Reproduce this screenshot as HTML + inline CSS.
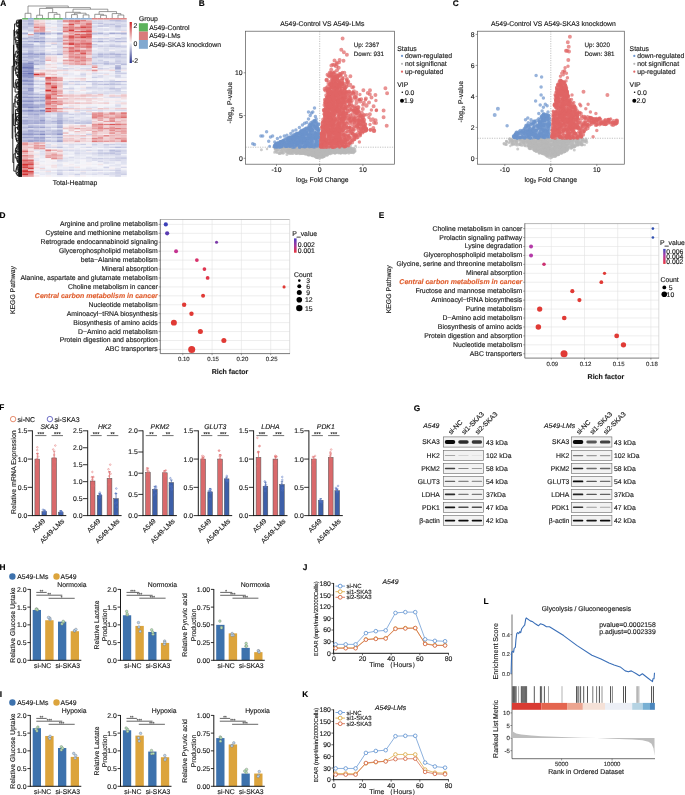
<!DOCTYPE html>
<html><head><meta charset="utf-8"><title>Figure</title>
<style>html,body{margin:0;padding:0;background:#fff;}svg{display:block;will-change:transform;}text{font-family:"Liberation Sans", sans-serif;text-rendering:geometricPrecision;fill:#1a1a1a;stroke:#1a1a1a;stroke-width:0.14px;}</style>
</head><body>
<svg width="685" height="795" viewBox="0 0 685 795" font-family='"Liberation Sans", sans-serif' fill="#1a1a1a">
<rect x="0" y="0" width="685" height="795" fill="#fff"/>
<text x="0.2" y="6.2" font-size="8.3" font-weight="bold" style="fill:#000;stroke:#000">A</text>
<style>.hm rect{width:5.87px;height:1.49px}</style>
<g style="filter:blur(0.3px)">
<g class="hm" transform="translate(22.20 0)"><rect y="19.7" fill="#c1c4e0"/><rect y="21.1" fill="#bbbfde"/><rect y="22.6" fill="#c5c8e2"/><rect y="24.0" fill="#c5c8e2"/><rect y="25.4" fill="#babddd"/><rect y="26.8" fill="#bfc2df"/><rect y="28.3" fill="#b9bddd"/><rect y="29.7" fill="#dddfee"/><rect y="31.1" fill="#e5e6f2"/><rect y="32.5" fill="#a8add4"/><rect y="34.0" fill="#cccfe6"/><rect y="35.4" fill="#e4e5f1"/><rect y="36.8" fill="#d4d6ea"/><rect y="38.2" fill="#9da3cf"/><rect y="39.7" fill="#dadcec"/><rect y="41.1" fill="#afb4d8"/><rect y="42.5" fill="#cbcee5"/><rect y="43.9" fill="#b3b7d9"/><rect y="45.4" fill="#9fa5d0"/><rect y="46.8" fill="#babedd"/><rect y="48.2" fill="#cccfe6"/><rect y="49.7" fill="#ced0e6"/><rect y="51.1" fill="#d9dbec"/><rect y="52.5" fill="#b2b6d9"/><rect y="53.9" fill="#9fa5d0"/><rect y="55.4" fill="#bcc0de"/><rect y="56.8" fill="#aaafd5"/><rect y="58.2" fill="#bec2df"/><rect y="59.6" fill="#b2b6d9"/><rect y="61.1" fill="#c0c4e0"/><rect y="62.5" fill="#959ccb"/><rect y="63.9" fill="#9298c9"/><rect y="65.3" fill="#7a82be"/><rect y="66.8" fill="#6e77b8"/><rect y="68.2" fill="#767ebc"/><rect y="69.6" fill="#999fcd"/><rect y="71.0" fill="#838ac2"/><rect y="72.5" fill="#7c84bf"/><rect y="73.9" fill="#9197c9"/><rect y="75.3" fill="#6d75b7"/><rect y="76.8" fill="#9ea4cf"/><rect y="78.2" fill="#a2a8d1"/><rect y="79.6" fill="#868dc4"/><rect y="81.0" fill="#9299ca"/><rect y="82.5" fill="#a7acd4"/><rect y="83.9" fill="#9da3cf"/><rect y="85.3" fill="#bbbfdd"/><rect y="86.7" fill="#b3b7da"/><rect y="88.2" fill="#a1a6d1"/><rect y="89.6" fill="#c3c6e1"/><rect y="91.0" fill="#adb2d7"/><rect y="92.4" fill="#999fcd"/><rect y="93.9" fill="#b2b7d9"/><rect y="95.3" fill="#a9aed5"/><rect y="96.7" fill="#9299ca"/><rect y="98.2" fill="#b3b7d9"/><rect y="99.6" fill="#9fa5d0"/><rect y="101.0" fill="#9198c9"/><rect y="102.4" fill="#adb2d7"/><rect y="103.9" fill="#949aca"/><rect y="105.3" fill="#8289c2"/><rect y="106.7" fill="#9aa0cd"/><rect y="108.1" fill="#c6c9e3"/><rect y="109.6" fill="#989ecd"/><rect y="111.0" fill="#a3a9d2"/><rect y="112.4" fill="#b8bcdc"/><rect y="113.8" fill="#bcc0de"/><rect y="115.3" fill="#cccfe6"/><rect y="116.7" fill="#abb0d6"/><rect y="118.1" fill="#cacde5"/><rect y="119.5" fill="#a3a8d2"/><rect y="121.0" fill="#a5aad3"/><rect y="122.4" fill="#9299ca"/><rect y="123.8" fill="#bdc1de"/><rect y="125.3" fill="#c7cae3"/><rect y="126.7" fill="#b2b6d9"/><rect y="128.1" fill="#bfc2df"/><rect y="129.5" fill="#c6c9e3"/><rect y="131.0" fill="#b6badb"/><rect y="132.4" fill="#a3a9d2"/><rect y="133.8" fill="#949aca"/><rect y="135.2" fill="#b4b8da"/><rect y="136.7" fill="#9aa0ce"/><rect y="138.1" fill="#b8bcdc"/><rect y="139.5" fill="#acb1d6"/><rect y="140.9" fill="#b2b6d9"/><rect y="142.4" fill="#e38d8f"/><rect y="143.8" fill="#e49496"/><rect y="145.2" fill="#eab6b9"/><rect y="146.6" fill="#edc4c7"/><rect y="148.1" fill="#edc6c9"/><rect y="149.5" fill="#e7a2a4"/><rect y="150.9" fill="#dc6869"/><rect y="152.4" fill="#e7a1a3"/><rect y="153.8" fill="#eecccf"/><rect y="155.2" fill="#dc6869"/><rect y="156.6" fill="#e9adaf"/><rect y="158.1" fill="#e7a5a7"/><rect y="159.5" fill="#d95556"/><rect y="160.9" fill="#e07a7c"/><rect y="162.3" fill="#db6465"/><rect y="163.8" fill="#d23030"/><rect y="165.2" fill="#d43a3a"/><rect y="166.6" fill="#d64646"/><rect y="168.0" fill="#e39092"/><rect y="169.5" fill="#d64444"/><rect y="170.9" fill="#d23030"/><rect y="172.3" fill="#d85051"/><rect y="173.7" fill="#d23030"/><rect y="175.2" fill="#e07b7d"/></g>
<g class="hm" transform="translate(28.01 0)"><rect y="19.7" fill="#b1b5d8"/><rect y="21.1" fill="#b0b4d8"/><rect y="22.6" fill="#a6acd3"/><rect y="24.0" fill="#aeb2d7"/><rect y="25.4" fill="#b3b7da"/><rect y="26.8" fill="#d7d9eb"/><rect y="28.3" fill="#c4c7e2"/><rect y="29.7" fill="#c2c6e1"/><rect y="31.1" fill="#d3d5e9"/><rect y="32.5" fill="#f0f1f7"/><rect y="34.0" fill="#e69fa1"/><rect y="35.4" fill="#cfd1e7"/><rect y="36.8" fill="#b6badb"/><rect y="38.2" fill="#b7bbdc"/><rect y="39.7" fill="#c9cce4"/><rect y="41.1" fill="#9ca2ce"/><rect y="42.5" fill="#dcdded"/><rect y="43.9" fill="#abb0d6"/><rect y="45.4" fill="#a2a7d1"/><rect y="46.8" fill="#b9bddc"/><rect y="48.2" fill="#bec1df"/><rect y="49.7" fill="#bdc1de"/><rect y="51.1" fill="#b0b5d8"/><rect y="52.5" fill="#9aa0cd"/><rect y="53.9" fill="#9fa4d0"/><rect y="55.4" fill="#9da3cf"/><rect y="56.8" fill="#aeb3d7"/><rect y="58.2" fill="#acb1d6"/><rect y="59.6" fill="#c3c6e1"/><rect y="61.1" fill="#a1a6d1"/><rect y="62.5" fill="#7b83be"/><rect y="63.9" fill="#969ccb"/><rect y="65.3" fill="#727aba"/><rect y="66.8" fill="#767ebc"/><rect y="68.2" fill="#6871b5"/><rect y="69.6" fill="#9096c9"/><rect y="71.0" fill="#848cc3"/><rect y="72.5" fill="#5e67b0"/><rect y="73.9" fill="#878ec4"/><rect y="75.3" fill="#737bba"/><rect y="76.8" fill="#8e95c8"/><rect y="78.2" fill="#a6abd3"/><rect y="79.6" fill="#979dcc"/><rect y="81.0" fill="#8f96c8"/><rect y="82.5" fill="#a6acd3"/><rect y="83.9" fill="#8f95c8"/><rect y="85.3" fill="#adb1d6"/><rect y="86.7" fill="#b1b5d9"/><rect y="88.2" fill="#7c84bf"/><rect y="89.6" fill="#969ccc"/><rect y="91.0" fill="#adb2d7"/><rect y="92.4" fill="#a5aad3"/><rect y="93.9" fill="#a1a6d1"/><rect y="95.3" fill="#bec2df"/><rect y="96.7" fill="#9298c9"/><rect y="98.2" fill="#aaafd5"/><rect y="99.6" fill="#9da3cf"/><rect y="101.0" fill="#8990c5"/><rect y="102.4" fill="#adb1d7"/><rect y="103.9" fill="#989ecc"/><rect y="105.3" fill="#8c93c7"/><rect y="106.7" fill="#848bc3"/><rect y="108.1" fill="#b4b9da"/><rect y="109.6" fill="#858cc3"/><rect y="111.0" fill="#999fcd"/><rect y="112.4" fill="#a9aed5"/><rect y="113.8" fill="#a9aed5"/><rect y="115.3" fill="#b2b6d9"/><rect y="116.7" fill="#babedd"/><rect y="118.1" fill="#bcc0de"/><rect y="119.5" fill="#aeb2d7"/><rect y="121.0" fill="#b1b6d9"/><rect y="122.4" fill="#969ccb"/><rect y="123.8" fill="#d0d2e7"/><rect y="125.3" fill="#a6abd3"/><rect y="126.7" fill="#9ca2ce"/><rect y="128.1" fill="#d4d6e9"/><rect y="129.5" fill="#a3a8d2"/><rect y="131.0" fill="#a4a9d2"/><rect y="132.4" fill="#9aa0cd"/><rect y="133.8" fill="#9298c9"/><rect y="135.2" fill="#aaafd5"/><rect y="136.7" fill="#9da3cf"/><rect y="138.1" fill="#c0c3e0"/><rect y="139.5" fill="#9da2cf"/><rect y="140.9" fill="#999fcd"/><rect y="142.4" fill="#edc4c7"/><rect y="143.8" fill="#ecc0c3"/><rect y="145.2" fill="#f1d8dc"/><rect y="146.6" fill="#ebb9bc"/><rect y="148.1" fill="#f1d9dc"/><rect y="149.5" fill="#f3e3e7"/><rect y="150.9" fill="#edc5c8"/><rect y="152.4" fill="#f1dade"/><rect y="153.8" fill="#f0d5d8"/><rect y="155.2" fill="#e59799"/><rect y="156.6" fill="#ebbabd"/><rect y="158.1" fill="#f0d7da"/><rect y="159.5" fill="#db6061"/><rect y="160.9" fill="#e38c8e"/><rect y="162.3" fill="#d85253"/><rect y="163.8" fill="#d64747"/><rect y="165.2" fill="#e18384"/><rect y="166.6" fill="#df7779"/><rect y="168.0" fill="#d54041"/><rect y="169.5" fill="#ecc2c5"/><rect y="170.9" fill="#d43c3c"/><rect y="172.3" fill="#d74d4d"/><rect y="173.7" fill="#e49193"/><rect y="175.2" fill="#e38d8f"/></g>
<g class="hm" transform="translate(33.81 0)"><rect y="19.7" fill="#efd0d3"/><rect y="21.1" fill="#ecc1c4"/><rect y="22.6" fill="#eec8cc"/><rect y="24.0" fill="#e9b1b3"/><rect y="25.4" fill="#e9acaf"/><rect y="26.8" fill="#e07b7d"/><rect y="28.3" fill="#ecbcbf"/><rect y="29.7" fill="#e69fa1"/><rect y="31.1" fill="#e69b9e"/><rect y="32.5" fill="#989ecd"/><rect y="34.0" fill="#c0c3e0"/><rect y="35.4" fill="#b7bbdc"/><rect y="36.8" fill="#c7cae3"/><rect y="38.2" fill="#9aa0cd"/><rect y="39.7" fill="#ced1e7"/><rect y="41.1" fill="#828ac2"/><rect y="42.5" fill="#edeef6"/><rect y="43.9" fill="#e6e7f2"/><rect y="45.4" fill="#b5b9da"/><rect y="46.8" fill="#d3d5e9"/><rect y="48.2" fill="#cacde5"/><rect y="49.7" fill="#c9cce4"/><rect y="51.1" fill="#d2d4e8"/><rect y="52.5" fill="#b9bddc"/><rect y="53.9" fill="#989ecd"/><rect y="55.4" fill="#a9aed5"/><rect y="56.8" fill="#b5badb"/><rect y="58.2" fill="#d2d4e9"/><rect y="59.6" fill="#b3b7d9"/><rect y="61.1" fill="#b8bcdc"/><rect y="62.5" fill="#c1c5e1"/><rect y="63.9" fill="#aeb3d7"/><rect y="65.3" fill="#e3e4f1"/><rect y="66.8" fill="#eaebf4"/><rect y="68.2" fill="#babddd"/><rect y="69.6" fill="#f1dbde"/><rect y="71.0" fill="#f5f0f4"/><rect y="72.5" fill="#e8a9ac"/><rect y="73.9" fill="#d23030"/><rect y="75.3" fill="#e59799"/><rect y="76.8" fill="#e1e3f0"/><rect y="78.2" fill="#f2e0e4"/><rect y="79.6" fill="#d5d7ea"/><rect y="81.0" fill="#cdcfe6"/><rect y="82.5" fill="#e6e7f2"/><rect y="83.9" fill="#c9cce4"/><rect y="85.3" fill="#f3f3f9"/><rect y="86.7" fill="#d2d4e9"/><rect y="88.2" fill="#d4d6e9"/><rect y="89.6" fill="#ebebf4"/><rect y="91.0" fill="#eeeef6"/><rect y="92.4" fill="#c7cae3"/><rect y="93.9" fill="#b4b8da"/><rect y="95.3" fill="#d2d5e9"/><rect y="96.7" fill="#9ca2ce"/><rect y="98.2" fill="#c5c8e2"/><rect y="99.6" fill="#a8add4"/><rect y="101.0" fill="#b3b7da"/><rect y="102.4" fill="#d4d6ea"/><rect y="103.9" fill="#b5b9db"/><rect y="105.3" fill="#959bcb"/><rect y="106.7" fill="#9ca2ce"/><rect y="108.1" fill="#c5c8e2"/><rect y="109.6" fill="#a3a8d2"/><rect y="111.0" fill="#a2a7d1"/><rect y="112.4" fill="#afb4d8"/><rect y="113.8" fill="#a0a6d1"/><rect y="115.3" fill="#a9aed5"/><rect y="116.7" fill="#babedd"/><rect y="118.1" fill="#b4b8da"/><rect y="119.5" fill="#b0b4d8"/><rect y="121.0" fill="#acb1d6"/><rect y="122.4" fill="#8c93c7"/><rect y="123.8" fill="#dbdced"/><rect y="125.3" fill="#b1b5d8"/><rect y="126.7" fill="#aaafd5"/><rect y="128.1" fill="#c7cae3"/><rect y="129.5" fill="#b9bddd"/><rect y="131.0" fill="#a8add4"/><rect y="132.4" fill="#b5b9da"/><rect y="133.8" fill="#9aa0ce"/><rect y="135.2" fill="#cacde5"/><rect y="136.7" fill="#9aa0cd"/><rect y="138.1" fill="#a5aad3"/><rect y="139.5" fill="#9ba1ce"/><rect y="140.9" fill="#aeb3d7"/><rect y="142.4" fill="#e49496"/><rect y="143.8" fill="#ebbbbe"/><rect y="145.2" fill="#e2888a"/><rect y="146.6" fill="#e6a0a2"/><rect y="148.1" fill="#e49193"/><rect y="149.5" fill="#e4e5f1"/><rect y="150.9" fill="#f3f3f8"/><rect y="152.4" fill="#f3e6e9"/><rect y="153.8" fill="#e7e8f3"/><rect y="155.2" fill="#f3e3e7"/><rect y="156.6" fill="#f5eff3"/><rect y="158.1" fill="#e5e6f2"/><rect y="159.5" fill="#e3e4f1"/><rect y="160.9" fill="#f4edf1"/><rect y="162.3" fill="#f2dee2"/><rect y="163.8" fill="#f1dce0"/><rect y="165.2" fill="#f5f0f4"/><rect y="166.6" fill="#f2dee2"/><rect y="168.0" fill="#f4edf0"/><rect y="169.5" fill="#e9e9f3"/><rect y="170.9" fill="#f5f3f7"/><rect y="172.3" fill="#d8daeb"/><rect y="173.7" fill="#f6f4f8"/><rect y="175.2" fill="#f3e3e7"/></g>
<g class="hm" transform="translate(39.62 0)"><rect y="19.7" fill="#f2dde1"/><rect y="21.1" fill="#f1dbde"/><rect y="22.6" fill="#edc4c7"/><rect y="24.0" fill="#eecbcf"/><rect y="25.4" fill="#e8aaac"/><rect y="26.8" fill="#e38f91"/><rect y="28.3" fill="#e07c7e"/><rect y="29.7" fill="#e69d9f"/><rect y="31.1" fill="#e69ea0"/><rect y="32.5" fill="#8088c1"/><rect y="34.0" fill="#a8add4"/><rect y="35.4" fill="#dddeee"/><rect y="36.8" fill="#b7bbdb"/><rect y="38.2" fill="#a7acd4"/><rect y="39.7" fill="#c7cae3"/><rect y="41.1" fill="#9198c9"/><rect y="42.5" fill="#c8cbe4"/><rect y="43.9" fill="#d5d7ea"/><rect y="45.4" fill="#aeb3d7"/><rect y="46.8" fill="#d2d4e9"/><rect y="48.2" fill="#d2d4e8"/><rect y="49.7" fill="#d0d2e7"/><rect y="51.1" fill="#d3d5e9"/><rect y="52.5" fill="#a7acd4"/><rect y="53.9" fill="#979dcc"/><rect y="55.4" fill="#b7bbdb"/><rect y="56.8" fill="#bec2df"/><rect y="58.2" fill="#b5b9da"/><rect y="59.6" fill="#c1c4e0"/><rect y="61.1" fill="#abb0d6"/><rect y="62.5" fill="#bdc0de"/><rect y="63.9" fill="#c5c8e2"/><rect y="65.3" fill="#dcdeed"/><rect y="66.8" fill="#dfe0ef"/><rect y="68.2" fill="#d5d7ea"/><rect y="69.6" fill="#f1dade"/><rect y="71.0" fill="#f3e6e9"/><rect y="72.5" fill="#e49597"/><rect y="73.9" fill="#df7879"/><rect y="75.3" fill="#e59698"/><rect y="76.8" fill="#d2d4e9"/><rect y="78.2" fill="#f5f5fa"/><rect y="79.6" fill="#dee0ee"/><rect y="81.0" fill="#c9cce4"/><rect y="82.5" fill="#ebebf5"/><rect y="83.9" fill="#c9cce4"/><rect y="85.3" fill="#e0e1ef"/><rect y="86.7" fill="#dee0ef"/><rect y="88.2" fill="#c0c4e0"/><rect y="89.6" fill="#eeeff6"/><rect y="91.0" fill="#d8daeb"/><rect y="92.4" fill="#dddeee"/><rect y="93.9" fill="#b1b5d9"/><rect y="95.3" fill="#c9cce4"/><rect y="96.7" fill="#a8add4"/><rect y="98.2" fill="#babedd"/><rect y="99.6" fill="#9ea4cf"/><rect y="101.0" fill="#b5b9db"/><rect y="102.4" fill="#c9cce4"/><rect y="103.9" fill="#a6abd3"/><rect y="105.3" fill="#9299ca"/><rect y="106.7" fill="#b2b7d9"/><rect y="108.1" fill="#d7d9eb"/><rect y="109.6" fill="#7e86c0"/><rect y="111.0" fill="#9da3cf"/><rect y="112.4" fill="#a6acd3"/><rect y="113.8" fill="#b9bddc"/><rect y="115.3" fill="#c9cce4"/><rect y="116.7" fill="#b8bcdc"/><rect y="118.1" fill="#b2b6d9"/><rect y="119.5" fill="#959bcb"/><rect y="121.0" fill="#a9aed5"/><rect y="122.4" fill="#9399ca"/><rect y="123.8" fill="#dadcec"/><rect y="125.3" fill="#b9bddd"/><rect y="126.7" fill="#9ea3cf"/><rect y="128.1" fill="#d0d3e8"/><rect y="129.5" fill="#c2c5e1"/><rect y="131.0" fill="#a2a7d1"/><rect y="132.4" fill="#a8add4"/><rect y="133.8" fill="#828ac2"/><rect y="135.2" fill="#bdc1df"/><rect y="136.7" fill="#9ba0ce"/><rect y="138.1" fill="#a1a6d1"/><rect y="139.5" fill="#a2a8d2"/><rect y="140.9" fill="#aaafd5"/><rect y="142.4" fill="#e9acaf"/><rect y="143.8" fill="#f1dce0"/><rect y="145.2" fill="#e18384"/><rect y="146.6" fill="#ebb9bc"/><rect y="148.1" fill="#e39092"/><rect y="149.5" fill="#e6e7f2"/><rect y="150.9" fill="#dcdeed"/><rect y="152.4" fill="#dadced"/><rect y="153.8" fill="#dfe1ef"/><rect y="155.2" fill="#e4e5f1"/><rect y="156.6" fill="#e9eaf4"/><rect y="158.1" fill="#edeef6"/><rect y="159.5" fill="#f3f3f9"/><rect y="160.9" fill="#eaebf4"/><rect y="162.3" fill="#f1f2f8"/><rect y="163.8" fill="#f5f0f4"/><rect y="165.2" fill="#f4eaee"/><rect y="166.6" fill="#e6e7f2"/><rect y="168.0" fill="#f0d3d6"/><rect y="169.5" fill="#e4e6f1"/><rect y="170.9" fill="#f5f0f4"/><rect y="172.3" fill="#e9eaf4"/><rect y="173.7" fill="#e7e8f3"/><rect y="175.2" fill="#f3f3f9"/></g>
<g class="hm" transform="translate(45.42 0)"><rect y="19.7" fill="#e8e9f3"/><rect y="21.1" fill="#ebecf5"/><rect y="22.6" fill="#d6d8eb"/><rect y="24.0" fill="#eeeff6"/><rect y="25.4" fill="#e3e4f1"/><rect y="26.8" fill="#f4e9ed"/><rect y="28.3" fill="#dedfee"/><rect y="29.7" fill="#f6f6fa"/><rect y="31.1" fill="#f0d5d9"/><rect y="32.5" fill="#babedd"/><rect y="34.0" fill="#cfd2e7"/><rect y="35.4" fill="#f3f4f9"/><rect y="36.8" fill="#f5eff3"/><rect y="38.2" fill="#cdcfe6"/><rect y="39.7" fill="#e0e1ef"/><rect y="41.1" fill="#c6c9e3"/><rect y="42.5" fill="#f3e8eb"/><rect y="43.9" fill="#efeff6"/><rect y="45.4" fill="#c7cae3"/><rect y="46.8" fill="#f5f5f9"/><rect y="48.2" fill="#e1e3f0"/><rect y="49.7" fill="#f5f0f4"/><rect y="51.1" fill="#e8e8f3"/><rect y="52.5" fill="#d6d8ea"/><rect y="53.9" fill="#bfc3e0"/><rect y="55.4" fill="#f2e1e4"/><rect y="56.8" fill="#efd0d3"/><rect y="58.2" fill="#eec8cb"/><rect y="59.6" fill="#e9aeb1"/><rect y="61.1" fill="#f5f1f5"/><rect y="62.5" fill="#eff0f7"/><rect y="63.9" fill="#f0d4d7"/><rect y="65.3" fill="#f3e5e9"/><rect y="66.8" fill="#f3e6e9"/><rect y="68.2" fill="#ebebf5"/><rect y="69.6" fill="#eecccf"/><rect y="71.0" fill="#f1dadd"/><rect y="72.5" fill="#f2dfe2"/><rect y="73.9" fill="#f0d3d6"/><rect y="75.3" fill="#f6f4f8"/><rect y="76.8" fill="#da595a"/><rect y="78.2" fill="#d43b3b"/><rect y="79.6" fill="#e2888a"/><rect y="81.0" fill="#e8acae"/><rect y="82.5" fill="#d64849"/><rect y="83.9" fill="#df7677"/><rect y="85.3" fill="#e28a8b"/><rect y="86.7" fill="#e7a2a4"/><rect y="88.2" fill="#e5989a"/><rect y="89.6" fill="#d23030"/><rect y="91.0" fill="#e07d7f"/><rect y="92.4" fill="#e8abae"/><rect y="93.9" fill="#df797b"/><rect y="95.3" fill="#d53e3e"/><rect y="96.7" fill="#d74d4e"/><rect y="98.2" fill="#d23232"/><rect y="99.6" fill="#e59799"/><rect y="101.0" fill="#e18587"/><rect y="102.4" fill="#da595a"/><rect y="103.9" fill="#e07f80"/><rect y="105.3" fill="#e59799"/><rect y="106.7" fill="#eab1b4"/><rect y="108.1" fill="#d23030"/><rect y="109.6" fill="#e39092"/><rect y="111.0" fill="#d95455"/><rect y="112.4" fill="#d4d6e9"/><rect y="113.8" fill="#d6d8eb"/><rect y="115.3" fill="#dadced"/><rect y="116.7" fill="#cccfe6"/><rect y="118.1" fill="#dee0ef"/><rect y="119.5" fill="#ced1e7"/><rect y="121.0" fill="#c6c9e3"/><rect y="122.4" fill="#b8bcdc"/><rect y="123.8" fill="#e1e2f0"/><rect y="125.3" fill="#d9dbec"/><rect y="126.7" fill="#bec2df"/><rect y="128.1" fill="#d5d7ea"/><rect y="129.5" fill="#bec2df"/><rect y="131.0" fill="#c9cce4"/><rect y="132.4" fill="#bbbedd"/><rect y="133.8" fill="#b5b9db"/><rect y="135.2" fill="#e3e4f1"/><rect y="136.7" fill="#b6badb"/><rect y="138.1" fill="#e2e3f0"/><rect y="139.5" fill="#c3c6e1"/><rect y="140.9" fill="#c2c6e1"/><rect y="142.4" fill="#f4ebee"/><rect y="143.8" fill="#dadcec"/><rect y="145.2" fill="#dcdeed"/><rect y="146.6" fill="#d1d3e8"/><rect y="148.1" fill="#f5f1f5"/><rect y="149.5" fill="#de7072"/><rect y="150.9" fill="#ecbfc2"/><rect y="152.4" fill="#ecbfc2"/><rect y="153.8" fill="#edc6c9"/><rect y="155.2" fill="#e59698"/><rect y="156.6" fill="#e69c9e"/><rect y="158.1" fill="#f5eef2"/><rect y="159.5" fill="#f5f2f5"/><rect y="160.9" fill="#f5f2f6"/><rect y="162.3" fill="#f5f0f4"/><rect y="163.8" fill="#f1f1f7"/><rect y="165.2" fill="#f5eef2"/><rect y="166.6" fill="#f4f4f9"/><rect y="168.0" fill="#f2f3f8"/><rect y="169.5" fill="#e1e2f0"/><rect y="170.9" fill="#f2dfe3"/><rect y="172.3" fill="#dcdeed"/><rect y="173.7" fill="#e8e9f3"/><rect y="175.2" fill="#f4ecf0"/></g>
<g class="hm" transform="translate(51.23 0)"><rect y="19.7" fill="#f6f5f9"/><rect y="21.1" fill="#ececf5"/><rect y="22.6" fill="#e7e8f3"/><rect y="24.0" fill="#e5e6f2"/><rect y="25.4" fill="#f0f0f7"/><rect y="26.8" fill="#f3e5e8"/><rect y="28.3" fill="#e3e4f1"/><rect y="29.7" fill="#f4e9ed"/><rect y="31.1" fill="#f2f3f8"/><rect y="32.5" fill="#c5c8e2"/><rect y="34.0" fill="#e7e8f3"/><rect y="35.4" fill="#eeeef6"/><rect y="36.8" fill="#f6f6fa"/><rect y="38.2" fill="#cfd1e7"/><rect y="39.7" fill="#dbdded"/><rect y="41.1" fill="#bec1df"/><rect y="42.5" fill="#f0d7da"/><rect y="43.9" fill="#cbcee5"/><rect y="45.4" fill="#eaeaf4"/><rect y="46.8" fill="#f0f0f7"/><rect y="48.2" fill="#d7d9eb"/><rect y="49.7" fill="#f3f4f9"/><rect y="51.1" fill="#dbdced"/><rect y="52.5" fill="#e4e5f1"/><rect y="53.9" fill="#c4c7e2"/><rect y="55.4" fill="#f2e3e6"/><rect y="56.8" fill="#f1dbdf"/><rect y="58.2" fill="#f1d9dd"/><rect y="59.6" fill="#f1d8dc"/><rect y="61.1" fill="#f1d8db"/><rect y="62.5" fill="#ebecf5"/><rect y="63.9" fill="#f3e3e7"/><rect y="65.3" fill="#f4ebee"/><rect y="66.8" fill="#f0d7db"/><rect y="68.2" fill="#f3f3f8"/><rect y="69.6" fill="#efced2"/><rect y="71.0" fill="#f0d4d8"/><rect y="72.5" fill="#f5f0f4"/><rect y="73.9" fill="#eec8cb"/><rect y="75.3" fill="#f2e2e5"/><rect y="76.8" fill="#df787a"/><rect y="78.2" fill="#e07a7c"/><rect y="79.6" fill="#e18385"/><rect y="81.0" fill="#edc5c8"/><rect y="82.5" fill="#e59a9c"/><rect y="83.9" fill="#e8a8aa"/><rect y="85.3" fill="#da5a5b"/><rect y="86.7" fill="#d43939"/><rect y="88.2" fill="#de7374"/><rect y="89.6" fill="#e49193"/><rect y="91.0" fill="#dc6869"/><rect y="92.4" fill="#e07f80"/><rect y="93.9" fill="#df7576"/><rect y="95.3" fill="#e59a9c"/><rect y="96.7" fill="#e9adaf"/><rect y="98.2" fill="#db5f60"/><rect y="99.6" fill="#edc5c8"/><rect y="101.0" fill="#de7374"/><rect y="102.4" fill="#df797a"/><rect y="103.9" fill="#ecbcbf"/><rect y="105.3" fill="#e18183"/><rect y="106.7" fill="#eab4b7"/><rect y="108.1" fill="#dc6768"/><rect y="109.6" fill="#e49395"/><rect y="111.0" fill="#e59b9d"/><rect y="112.4" fill="#cccfe6"/><rect y="113.8" fill="#dddfee"/><rect y="115.3" fill="#e5e6f2"/><rect y="116.7" fill="#d5d7ea"/><rect y="118.1" fill="#c9cce4"/><rect y="119.5" fill="#ced0e6"/><rect y="121.0" fill="#b1b6d9"/><rect y="122.4" fill="#b4b9da"/><rect y="123.8" fill="#e6e7f2"/><rect y="125.3" fill="#d1d4e8"/><rect y="126.7" fill="#cacde5"/><rect y="128.1" fill="#edeef6"/><rect y="129.5" fill="#c1c5e0"/><rect y="131.0" fill="#babedd"/><rect y="132.4" fill="#aeb2d7"/><rect y="133.8" fill="#b3b7d9"/><rect y="135.2" fill="#cfd2e7"/><rect y="136.7" fill="#c1c4e0"/><rect y="138.1" fill="#d9dbec"/><rect y="139.5" fill="#d2d4e8"/><rect y="140.9" fill="#c2c5e1"/><rect y="142.4" fill="#e5e6f2"/><rect y="143.8" fill="#efeff6"/><rect y="145.2" fill="#f2e3e6"/><rect y="146.6" fill="#d3d6e9"/><rect y="148.1" fill="#f5f0f4"/><rect y="149.5" fill="#e8abad"/><rect y="150.9" fill="#f3e8eb"/><rect y="152.4" fill="#ebb9bc"/><rect y="153.8" fill="#e69ea0"/><rect y="155.2" fill="#e49395"/><rect y="156.6" fill="#e8abad"/><rect y="158.1" fill="#e18283"/><rect y="159.5" fill="#f5f5fa"/><rect y="160.9" fill="#f5eff3"/><rect y="162.3" fill="#ececf5"/><rect y="163.8" fill="#f4edf1"/><rect y="165.2" fill="#f1d9dc"/><rect y="166.6" fill="#f3e4e8"/><rect y="168.0" fill="#f5f2f6"/><rect y="169.5" fill="#e0e1ef"/><rect y="170.9" fill="#f6f6fa"/><rect y="172.3" fill="#dddfee"/><rect y="173.7" fill="#edeef6"/><rect y="175.2" fill="#edeef6"/></g>
<g class="hm" transform="translate(57.03 0)"><rect y="19.7" fill="#d7d9eb"/><rect y="21.1" fill="#c8cbe4"/><rect y="22.6" fill="#dddfee"/><rect y="24.0" fill="#d1d3e8"/><rect y="25.4" fill="#cdd0e6"/><rect y="26.8" fill="#e6e7f2"/><rect y="28.3" fill="#dbdded"/><rect y="29.7" fill="#dbdced"/><rect y="31.1" fill="#f4f4f9"/><rect y="32.5" fill="#9fa4d0"/><rect y="34.0" fill="#bec1df"/><rect y="35.4" fill="#e1e3f0"/><rect y="36.8" fill="#d4d6ea"/><rect y="38.2" fill="#b1b5d8"/><rect y="39.7" fill="#ced0e7"/><rect y="41.1" fill="#b4b8da"/><rect y="42.5" fill="#e1e2f0"/><rect y="43.9" fill="#d7d9eb"/><rect y="45.4" fill="#c6c9e3"/><rect y="46.8" fill="#d2d5e9"/><rect y="48.2" fill="#d5d7ea"/><rect y="49.7" fill="#dcdeee"/><rect y="51.1" fill="#d2d4e9"/><rect y="52.5" fill="#cccfe6"/><rect y="53.9" fill="#a4a9d2"/><rect y="55.4" fill="#f1f2f8"/><rect y="56.8" fill="#ebebf5"/><rect y="58.2" fill="#f4eaed"/><rect y="59.6" fill="#f5f2f6"/><rect y="61.1" fill="#f5f0f4"/><rect y="62.5" fill="#d7d9eb"/><rect y="63.9" fill="#eaeaf4"/><rect y="65.3" fill="#eff0f7"/><rect y="66.8" fill="#e3e4f1"/><rect y="68.2" fill="#d9dbec"/><rect y="69.6" fill="#f0d4d7"/><rect y="71.0" fill="#f5eef2"/><rect y="72.5" fill="#e9eaf4"/><rect y="73.9" fill="#f5f0f4"/><rect y="75.3" fill="#e8e9f3"/><rect y="76.8" fill="#eab6b8"/><rect y="78.2" fill="#e49395"/><rect y="79.6" fill="#e59698"/><rect y="81.0" fill="#f0d6d9"/><rect y="82.5" fill="#ecc0c3"/><rect y="83.9" fill="#ecc1c4"/><rect y="85.3" fill="#e8acae"/><rect y="86.7" fill="#edc7ca"/><rect y="88.2" fill="#efcfd2"/><rect y="89.6" fill="#e9b0b2"/><rect y="91.0" fill="#e7a2a5"/><rect y="92.4" fill="#e69ea0"/><rect y="93.9" fill="#efced2"/><rect y="95.3" fill="#de7172"/><rect y="96.7" fill="#f5f3f7"/><rect y="98.2" fill="#e9adaf"/><rect y="99.6" fill="#ebb9bc"/><rect y="101.0" fill="#e69ea1"/><rect y="102.4" fill="#e39092"/><rect y="103.9" fill="#e39092"/><rect y="105.3" fill="#f1dde1"/><rect y="106.7" fill="#f3e7eb"/><rect y="108.1" fill="#e28789"/><rect y="109.6" fill="#efd2d5"/><rect y="111.0" fill="#e9adaf"/><rect y="112.4" fill="#b7bbdb"/><rect y="113.8" fill="#bec2df"/><rect y="115.3" fill="#afb4d8"/><rect y="116.7" fill="#c2c6e1"/><rect y="118.1" fill="#b2b6d9"/><rect y="119.5" fill="#a6abd3"/><rect y="121.0" fill="#a5aad3"/><rect y="122.4" fill="#8b92c6"/><rect y="123.8" fill="#cacde5"/><rect y="125.3" fill="#a5aad3"/><rect y="126.7" fill="#a6abd3"/><rect y="128.1" fill="#d8daec"/><rect y="129.5" fill="#aaafd5"/><rect y="131.0" fill="#b0b5d8"/><rect y="132.4" fill="#9ea4d0"/><rect y="133.8" fill="#8f95c8"/><rect y="135.2" fill="#cacde5"/><rect y="136.7" fill="#a3a9d2"/><rect y="138.1" fill="#c2c6e1"/><rect y="139.5" fill="#aaafd5"/><rect y="140.9" fill="#9ea3cf"/><rect y="142.4" fill="#e3e4f1"/><rect y="143.8" fill="#dee0ef"/><rect y="145.2" fill="#dfe1ef"/><rect y="146.6" fill="#bfc2df"/><rect y="148.1" fill="#ebecf5"/><rect y="149.5" fill="#eec9cc"/><rect y="150.9" fill="#ecbec1"/><rect y="152.4" fill="#f2dfe2"/><rect y="153.8" fill="#edc2c5"/><rect y="155.2" fill="#e69fa1"/><rect y="156.6" fill="#edc6c9"/><rect y="158.1" fill="#e8abae"/><rect y="159.5" fill="#d3d5e9"/><rect y="160.9" fill="#dfe0ef"/><rect y="162.3" fill="#e9eaf4"/><rect y="163.8" fill="#e4e5f1"/><rect y="165.2" fill="#dddeee"/><rect y="166.6" fill="#ecedf5"/><rect y="168.0" fill="#edeef6"/><rect y="169.5" fill="#cbcee5"/><rect y="170.9" fill="#e3e4f1"/><rect y="172.3" fill="#cbcde5"/><rect y="173.7" fill="#c5c8e2"/><rect y="175.2" fill="#e8e9f3"/></g>
<g class="hm" transform="translate(62.84 0)"><rect y="19.7" fill="#e49698"/><rect y="21.1" fill="#e2888a"/><rect y="22.6" fill="#f4e9ed"/><rect y="24.0" fill="#eab3b6"/><rect y="25.4" fill="#eab2b5"/><rect y="26.8" fill="#e07c7e"/><rect y="28.3" fill="#e49193"/><rect y="29.7" fill="#e5989a"/><rect y="31.1" fill="#dc6668"/><rect y="32.5" fill="#f2e1e4"/><rect y="34.0" fill="#eecccf"/><rect y="35.4" fill="#e39092"/><rect y="36.8" fill="#e69d9f"/><rect y="38.2" fill="#edc3c6"/><rect y="39.7" fill="#e38d8f"/><rect y="41.1" fill="#edc6c9"/><rect y="42.5" fill="#e28687"/><rect y="43.9" fill="#e69ea0"/><rect y="45.4" fill="#f3e3e7"/><rect y="46.8" fill="#e38e90"/><rect y="48.2" fill="#ebbcbf"/><rect y="49.7" fill="#edc4c7"/><rect y="51.1" fill="#e7a1a3"/><rect y="52.5" fill="#ebb8bb"/><rect y="53.9" fill="#eecdd0"/><rect y="55.4" fill="#efd1d4"/><rect y="56.8" fill="#ecc0c3"/><rect y="58.2" fill="#f6f3f7"/><rect y="59.6" fill="#e69c9e"/><rect y="61.1" fill="#eec7ca"/><rect y="62.5" fill="#e9b1b3"/><rect y="63.9" fill="#f0d4d7"/><rect y="65.3" fill="#d2d4e8"/><rect y="66.8" fill="#f4f4f9"/><rect y="68.2" fill="#c4c7e2"/><rect y="69.6" fill="#f0d5d8"/><rect y="71.0" fill="#eaeaf4"/><rect y="72.5" fill="#dee0ee"/><rect y="73.9" fill="#f2dee2"/><rect y="75.3" fill="#e1e2f0"/><rect y="76.8" fill="#f6f5f9"/><rect y="78.2" fill="#f3e5e8"/><rect y="79.6" fill="#f6f5f9"/><rect y="81.0" fill="#dddfee"/><rect y="82.5" fill="#d2d4e9"/><rect y="83.9" fill="#cfd1e7"/><rect y="85.3" fill="#f1f1f8"/><rect y="86.7" fill="#f6f5f9"/><rect y="88.2" fill="#c7cae3"/><rect y="89.6" fill="#f5f2f6"/><rect y="91.0" fill="#efeff6"/><rect y="92.4" fill="#e8e9f3"/><rect y="93.9" fill="#f0d8db"/><rect y="95.3" fill="#e9adaf"/><rect y="96.7" fill="#f3e3e7"/><rect y="98.2" fill="#e8aaac"/><rect y="99.6" fill="#f1dade"/><rect y="101.0" fill="#f1dbde"/><rect y="102.4" fill="#e9acae"/><rect y="103.9" fill="#f4ebef"/><rect y="105.3" fill="#f5f0f4"/><rect y="106.7" fill="#d9daec"/><rect y="108.1" fill="#ebbbbe"/><rect y="109.6" fill="#edeef6"/><rect y="111.0" fill="#f0d6da"/><rect y="112.4" fill="#bdc1df"/><rect y="113.8" fill="#d6d8ea"/><rect y="115.3" fill="#e5e6f2"/><rect y="116.7" fill="#dbdded"/><rect y="118.1" fill="#cfd1e7"/><rect y="119.5" fill="#c3c6e1"/><rect y="121.0" fill="#cccfe6"/><rect y="122.4" fill="#c3c7e2"/><rect y="123.8" fill="#f4ecef"/><rect y="125.3" fill="#f4eef1"/><rect y="126.7" fill="#f1dbde"/><rect y="128.1" fill="#ecc0c3"/><rect y="129.5" fill="#f6f6fa"/><rect y="131.0" fill="#efeff7"/><rect y="132.4" fill="#eab3b6"/><rect y="133.8" fill="#f5f3f7"/><rect y="135.2" fill="#edc2c5"/><rect y="136.7" fill="#f3e3e7"/><rect y="138.1" fill="#eec9cc"/><rect y="139.5" fill="#edc3c6"/><rect y="140.9" fill="#eecacd"/><rect y="142.4" fill="#f4e9ed"/><rect y="143.8" fill="#dee0ef"/><rect y="145.2" fill="#f5f1f5"/><rect y="146.6" fill="#dfe1ef"/><rect y="148.1" fill="#eaebf4"/><rect y="149.5" fill="#d5d7ea"/><rect y="150.9" fill="#ecedf5"/><rect y="152.4" fill="#e4e5f1"/><rect y="153.8" fill="#e7e8f3"/><rect y="155.2" fill="#f5eef2"/><rect y="156.6" fill="#e7e8f3"/><rect y="158.1" fill="#dddfee"/><rect y="159.5" fill="#e1e3f0"/><rect y="160.9" fill="#e4e6f2"/><rect y="162.3" fill="#f5eff3"/><rect y="163.8" fill="#f6f6fa"/><rect y="165.2" fill="#f4ebef"/><rect y="166.6" fill="#eaeaf4"/><rect y="168.0" fill="#eaebf4"/><rect y="169.5" fill="#d6d8eb"/><rect y="170.9" fill="#f5f3f7"/><rect y="172.3" fill="#e5e6f2"/><rect y="173.7" fill="#e7e8f3"/><rect y="175.2" fill="#ebebf5"/></g>
<g class="hm" transform="translate(68.64 0)"><rect y="19.7" fill="#e07c7d"/><rect y="21.1" fill="#df7577"/><rect y="22.6" fill="#e49395"/><rect y="24.0" fill="#d84e4f"/><rect y="25.4" fill="#e18183"/><rect y="26.8" fill="#e18384"/><rect y="28.3" fill="#dc6667"/><rect y="29.7" fill="#d43939"/><rect y="31.1" fill="#e07a7c"/><rect y="32.5" fill="#e6a0a2"/><rect y="34.0" fill="#eab5b7"/><rect y="35.4" fill="#d53e3f"/><rect y="36.8" fill="#d95656"/><rect y="38.2" fill="#dc6465"/><rect y="39.7" fill="#e2898b"/><rect y="41.1" fill="#e59799"/><rect y="42.5" fill="#d74a4b"/><rect y="43.9" fill="#d64646"/><rect y="45.4" fill="#edc4c7"/><rect y="46.8" fill="#de7476"/><rect y="48.2" fill="#db5f60"/><rect y="49.7" fill="#e18183"/><rect y="51.1" fill="#d95859"/><rect y="52.5" fill="#e49294"/><rect y="53.9" fill="#e5999b"/><rect y="55.4" fill="#e07e80"/><rect y="56.8" fill="#e49294"/><rect y="58.2" fill="#e8a7aa"/><rect y="59.6" fill="#e2898b"/><rect y="61.1" fill="#e9afb1"/><rect y="62.5" fill="#e9acaf"/><rect y="63.9" fill="#eab3b6"/><rect y="65.3" fill="#dddfee"/><rect y="66.8" fill="#f3e8ec"/><rect y="68.2" fill="#d2d5e9"/><rect y="69.6" fill="#f4eaee"/><rect y="71.0" fill="#f5f1f4"/><rect y="72.5" fill="#e9eaf4"/><rect y="73.9" fill="#e9eaf4"/><rect y="75.3" fill="#eaeaf4"/><rect y="76.8" fill="#f4f4f9"/><rect y="78.2" fill="#f2e2e6"/><rect y="79.6" fill="#f1f2f8"/><rect y="81.0" fill="#c6c9e3"/><rect y="82.5" fill="#f3e6ea"/><rect y="83.9" fill="#dcdded"/><rect y="85.3" fill="#eeeef6"/><rect y="86.7" fill="#e2e3f0"/><rect y="88.2" fill="#c4c7e2"/><rect y="89.6" fill="#f3e7ea"/><rect y="91.0" fill="#dbdded"/><rect y="92.4" fill="#dddfee"/><rect y="93.9" fill="#f0d2d6"/><rect y="95.3" fill="#eab3b5"/><rect y="96.7" fill="#f1d8db"/><rect y="98.2" fill="#eecacd"/><rect y="99.6" fill="#f1dadd"/><rect y="101.0" fill="#f0d4d7"/><rect y="102.4" fill="#ecbdc0"/><rect y="103.9" fill="#f4edf1"/><rect y="105.3" fill="#f0d6d9"/><rect y="106.7" fill="#e0e1ef"/><rect y="108.1" fill="#ecbfc2"/><rect y="109.6" fill="#f5f2f6"/><rect y="111.0" fill="#f5eff2"/><rect y="112.4" fill="#e9eaf4"/><rect y="113.8" fill="#cacde5"/><rect y="115.3" fill="#e9eaf4"/><rect y="116.7" fill="#cdcfe6"/><rect y="118.1" fill="#e0e1ef"/><rect y="119.5" fill="#cbcee5"/><rect y="121.0" fill="#c7cae3"/><rect y="122.4" fill="#c0c4e0"/><rect y="123.8" fill="#f4ebef"/><rect y="125.3" fill="#f0d3d6"/><rect y="126.7" fill="#edc4c6"/><rect y="128.1" fill="#ecc0c3"/><rect y="129.5" fill="#efcdd0"/><rect y="131.0" fill="#f3e5e9"/><rect y="132.4" fill="#f6f3f7"/><rect y="133.8" fill="#e5e6f2"/><rect y="135.2" fill="#ebbbbe"/><rect y="136.7" fill="#f2e1e4"/><rect y="138.1" fill="#edc3c6"/><rect y="139.5" fill="#edc4c7"/><rect y="140.9" fill="#f0d5d8"/><rect y="142.4" fill="#f3e4e8"/><rect y="143.8" fill="#dadcec"/><rect y="145.2" fill="#dddeee"/><rect y="146.6" fill="#dddfee"/><rect y="148.1" fill="#f4ecf0"/><rect y="149.5" fill="#d6d8eb"/><rect y="150.9" fill="#e7e8f3"/><rect y="152.4" fill="#edeef6"/><rect y="153.8" fill="#edeef6"/><rect y="155.2" fill="#f6f6fa"/><rect y="156.6" fill="#dadbec"/><rect y="158.1" fill="#e5e6f2"/><rect y="159.5" fill="#e4e5f1"/><rect y="160.9" fill="#eff0f7"/><rect y="162.3" fill="#eeeff6"/><rect y="163.8" fill="#f4ecf0"/><rect y="165.2" fill="#f5f0f4"/><rect y="166.6" fill="#e0e2ef"/><rect y="168.0" fill="#e9eaf4"/><rect y="169.5" fill="#c6c9e3"/><rect y="170.9" fill="#f5f3f7"/><rect y="172.3" fill="#e0e1ef"/><rect y="173.7" fill="#e1e3f0"/><rect y="175.2" fill="#f5f0f4"/></g>
<g class="hm" transform="translate(74.45 0)"><rect y="19.7" fill="#df7778"/><rect y="21.1" fill="#db6061"/><rect y="22.6" fill="#e38c8e"/><rect y="24.0" fill="#ebbcbe"/><rect y="25.4" fill="#edc7ca"/><rect y="26.8" fill="#e07b7c"/><rect y="28.3" fill="#df7778"/><rect y="29.7" fill="#eec9cd"/><rect y="31.1" fill="#d95657"/><rect y="32.5" fill="#eab4b7"/><rect y="34.0" fill="#db5f60"/><rect y="35.4" fill="#e38d8f"/><rect y="36.8" fill="#dd6d6e"/><rect y="38.2" fill="#e59b9d"/><rect y="39.7" fill="#e49395"/><rect y="41.1" fill="#e7a1a4"/><rect y="42.5" fill="#e18385"/><rect y="43.9" fill="#de6f71"/><rect y="45.4" fill="#db6061"/><rect y="46.8" fill="#e49193"/><rect y="48.2" fill="#e69b9d"/><rect y="49.7" fill="#db6465"/><rect y="51.1" fill="#db6465"/><rect y="52.5" fill="#ebb9bc"/><rect y="53.9" fill="#e38c8e"/><rect y="55.4" fill="#e2888a"/><rect y="56.8" fill="#e07b7c"/><rect y="58.2" fill="#e28a8c"/><rect y="59.6" fill="#e7a2a4"/><rect y="61.1" fill="#e18384"/><rect y="62.5" fill="#e6a0a3"/><rect y="63.9" fill="#e7a2a4"/><rect y="65.3" fill="#e7e8f3"/><rect y="66.8" fill="#e6e7f2"/><rect y="68.2" fill="#e5e6f2"/><rect y="69.6" fill="#f1dbde"/><rect y="71.0" fill="#f3f3f8"/><rect y="72.5" fill="#f6f4f8"/><rect y="73.9" fill="#f3f3f8"/><rect y="75.3" fill="#e0e2f0"/><rect y="76.8" fill="#f5f1f4"/><rect y="78.2" fill="#f0d4d7"/><rect y="79.6" fill="#f5eff3"/><rect y="81.0" fill="#c6cae3"/><rect y="82.5" fill="#e5e6f2"/><rect y="83.9" fill="#cbcde5"/><rect y="85.3" fill="#f1f2f8"/><rect y="86.7" fill="#f2f3f8"/><rect y="88.2" fill="#e4e5f1"/><rect y="89.6" fill="#f4f4f9"/><rect y="91.0" fill="#f4e9ed"/><rect y="92.4" fill="#e6e7f2"/><rect y="93.9" fill="#f2e3e6"/><rect y="95.3" fill="#ecbdc0"/><rect y="96.7" fill="#f2e2e6"/><rect y="98.2" fill="#ebbcbf"/><rect y="99.6" fill="#f3e5e8"/><rect y="101.0" fill="#f0f0f7"/><rect y="102.4" fill="#eab2b5"/><rect y="103.9" fill="#eeeff6"/><rect y="105.3" fill="#f2e2e6"/><rect y="106.7" fill="#f4ecf0"/><rect y="108.1" fill="#eec8cb"/><rect y="109.6" fill="#d6d8eb"/><rect y="111.0" fill="#f1dcdf"/><rect y="112.4" fill="#dcdeee"/><rect y="113.8" fill="#d5d7ea"/><rect y="115.3" fill="#d9dbec"/><rect y="116.7" fill="#e5e6f2"/><rect y="118.1" fill="#eaeaf4"/><rect y="119.5" fill="#cdcfe6"/><rect y="121.0" fill="#d8daeb"/><rect y="122.4" fill="#a7acd4"/><rect y="123.8" fill="#f4f4f9"/><rect y="125.3" fill="#efd0d3"/><rect y="126.7" fill="#f2e0e3"/><rect y="128.1" fill="#e49294"/><rect y="129.5" fill="#f6f6fa"/><rect y="131.0" fill="#ebbabd"/><rect y="132.4" fill="#f2e0e4"/><rect y="133.8" fill="#e6e7f2"/><rect y="135.2" fill="#edc6c9"/><rect y="136.7" fill="#f2dfe3"/><rect y="138.1" fill="#f2e1e5"/><rect y="139.5" fill="#edc6c9"/><rect y="140.9" fill="#e7a6a8"/><rect y="142.4" fill="#eaebf4"/><rect y="143.8" fill="#dcdded"/><rect y="145.2" fill="#e9eaf4"/><rect y="146.6" fill="#f0f1f7"/><rect y="148.1" fill="#e8e9f3"/><rect y="149.5" fill="#dbdced"/><rect y="150.9" fill="#e0e1ef"/><rect y="152.4" fill="#cccfe6"/><rect y="153.8" fill="#e1e2f0"/><rect y="155.2" fill="#e0e2f0"/><rect y="156.6" fill="#e8e9f3"/><rect y="158.1" fill="#e3e4f1"/><rect y="159.5" fill="#efeff7"/><rect y="160.9" fill="#ecedf5"/><rect y="162.3" fill="#e1e3f0"/><rect y="163.8" fill="#f5f5f9"/><rect y="165.2" fill="#ecedf5"/><rect y="166.6" fill="#f3e3e7"/><rect y="168.0" fill="#edeef6"/><rect y="169.5" fill="#d8daeb"/><rect y="170.9" fill="#f1f1f8"/><rect y="172.3" fill="#eaebf4"/><rect y="173.7" fill="#cccfe6"/><rect y="175.2" fill="#e6e7f2"/></g>
<g class="hm" transform="translate(80.26 0)"><rect y="19.7" fill="#e07e7f"/><rect y="21.1" fill="#e69c9e"/><rect y="22.6" fill="#e7a3a6"/><rect y="24.0" fill="#e8a9ab"/><rect y="25.4" fill="#dc696a"/><rect y="26.8" fill="#d74b4b"/><rect y="28.3" fill="#e07d7f"/><rect y="29.7" fill="#e59a9c"/><rect y="31.1" fill="#d33535"/><rect y="32.5" fill="#ebbcbe"/><rect y="34.0" fill="#de6f71"/><rect y="35.4" fill="#d74a4a"/><rect y="36.8" fill="#d64647"/><rect y="38.2" fill="#e38c8e"/><rect y="39.7" fill="#e38f91"/><rect y="41.1" fill="#e18284"/><rect y="42.5" fill="#dc696a"/><rect y="43.9" fill="#e08081"/><rect y="45.4" fill="#df7879"/><rect y="46.8" fill="#e28a8c"/><rect y="48.2" fill="#efced1"/><rect y="49.7" fill="#e28688"/><rect y="51.1" fill="#e07d7e"/><rect y="52.5" fill="#d84e4f"/><rect y="53.9" fill="#e28a8c"/><rect y="55.4" fill="#e49698"/><rect y="56.8" fill="#e28889"/><rect y="58.2" fill="#e07f81"/><rect y="59.6" fill="#e18284"/><rect y="61.1" fill="#e69c9e"/><rect y="62.5" fill="#e8a8aa"/><rect y="63.9" fill="#e38e90"/><rect y="65.3" fill="#dbdded"/><rect y="66.8" fill="#eeeff6"/><rect y="68.2" fill="#ced1e7"/><rect y="69.6" fill="#f2e0e3"/><rect y="71.0" fill="#f4ecef"/><rect y="72.5" fill="#dedfee"/><rect y="73.9" fill="#d1d3e8"/><rect y="75.3" fill="#d5d8ea"/><rect y="76.8" fill="#efeff6"/><rect y="78.2" fill="#edc3c6"/><rect y="79.6" fill="#f2e1e4"/><rect y="81.0" fill="#d2d4e8"/><rect y="82.5" fill="#edeef6"/><rect y="83.9" fill="#d2d5e9"/><rect y="85.3" fill="#f5f0f4"/><rect y="86.7" fill="#f3e7eb"/><rect y="88.2" fill="#dfe0ef"/><rect y="89.6" fill="#f3e3e7"/><rect y="91.0" fill="#f6f6fa"/><rect y="92.4" fill="#e7e8f3"/><rect y="93.9" fill="#f0d2d6"/><rect y="95.3" fill="#e8a8aa"/><rect y="96.7" fill="#f3e4e8"/><rect y="98.2" fill="#ecc0c3"/><rect y="99.6" fill="#f3e6e9"/><rect y="101.0" fill="#f6f3f7"/><rect y="102.4" fill="#edc6c9"/><rect y="103.9" fill="#f4edf1"/><rect y="105.3" fill="#f5f0f4"/><rect y="106.7" fill="#f0f1f7"/><rect y="108.1" fill="#f0d6da"/><rect y="109.6" fill="#dadcec"/><rect y="111.0" fill="#f0f1f7"/><rect y="112.4" fill="#c8cbe4"/><rect y="113.8" fill="#d5d7ea"/><rect y="115.3" fill="#e3e4f1"/><rect y="116.7" fill="#e6e7f2"/><rect y="118.1" fill="#e1e2f0"/><rect y="119.5" fill="#d7d9eb"/><rect y="121.0" fill="#cacde5"/><rect y="122.4" fill="#b3b8da"/><rect y="123.8" fill="#e4e5f1"/><rect y="125.3" fill="#e8aaac"/><rect y="126.7" fill="#f2e3e6"/><rect y="128.1" fill="#ebbbbd"/><rect y="129.5" fill="#eecccf"/><rect y="131.0" fill="#f1dbde"/><rect y="132.4" fill="#f1dbdf"/><rect y="133.8" fill="#f1f2f8"/><rect y="135.2" fill="#e9b1b4"/><rect y="136.7" fill="#e4e5f1"/><rect y="138.1" fill="#ebbbbd"/><rect y="139.5" fill="#efd1d5"/><rect y="140.9" fill="#f0d4d8"/><rect y="142.4" fill="#f4e9ed"/><rect y="143.8" fill="#cccfe6"/><rect y="145.2" fill="#edeef6"/><rect y="146.6" fill="#e1e2f0"/><rect y="148.1" fill="#f5f0f4"/><rect y="149.5" fill="#e0e2ef"/><rect y="150.9" fill="#e2e4f1"/><rect y="152.4" fill="#dcdded"/><rect y="153.8" fill="#e8e9f3"/><rect y="155.2" fill="#e4e5f1"/><rect y="156.6" fill="#edeef6"/><rect y="158.1" fill="#e1e2f0"/><rect y="159.5" fill="#f6f4f8"/><rect y="160.9" fill="#f3f4f9"/><rect y="162.3" fill="#f2f3f8"/><rect y="163.8" fill="#f5f3f7"/><rect y="165.2" fill="#f5f1f5"/><rect y="166.6" fill="#f6f5f9"/><rect y="168.0" fill="#f0f1f7"/><rect y="169.5" fill="#d8daec"/><rect y="170.9" fill="#f4ebef"/><rect y="172.3" fill="#d2d5e9"/><rect y="173.7" fill="#e4e5f1"/><rect y="175.2" fill="#f5eef2"/></g>
<g class="hm" transform="translate(86.06 0)"><rect y="19.7" fill="#ebbbbd"/><rect y="21.1" fill="#e6a0a2"/><rect y="22.6" fill="#df787a"/><rect y="24.0" fill="#de7172"/><rect y="25.4" fill="#de7475"/><rect y="26.8" fill="#dd6c6d"/><rect y="28.3" fill="#e07d7e"/><rect y="29.7" fill="#dd6d6e"/><rect y="31.1" fill="#d33838"/><rect y="32.5" fill="#e2898b"/><rect y="34.0" fill="#d95959"/><rect y="35.4" fill="#d53f3f"/><rect y="36.8" fill="#de7273"/><rect y="38.2" fill="#e07d7f"/><rect y="39.7" fill="#e8a7a9"/><rect y="41.1" fill="#e59799"/><rect y="42.5" fill="#da5d5e"/><rect y="43.9" fill="#dd6c6d"/><rect y="45.4" fill="#da5c5d"/><rect y="46.8" fill="#df7677"/><rect y="48.2" fill="#e59a9c"/><rect y="49.7" fill="#e49395"/><rect y="51.1" fill="#e59a9c"/><rect y="52.5" fill="#e9afb2"/><rect y="53.9" fill="#e9adb0"/><rect y="55.4" fill="#f0d3d6"/><rect y="56.8" fill="#efd2d5"/><rect y="58.2" fill="#e39092"/><rect y="59.6" fill="#e9afb1"/><rect y="61.1" fill="#edc5c8"/><rect y="62.5" fill="#f0d3d6"/><rect y="63.9" fill="#ecbdc0"/><rect y="65.3" fill="#dbdded"/><rect y="66.8" fill="#ebecf5"/><rect y="68.2" fill="#cacce4"/><rect y="69.6" fill="#efd2d5"/><rect y="71.0" fill="#eeeef6"/><rect y="72.5" fill="#f4eaee"/><rect y="73.9" fill="#f4eaee"/><rect y="75.3" fill="#f2f3f8"/><rect y="76.8" fill="#f2f3f8"/><rect y="78.2" fill="#f4edf1"/><rect y="79.6" fill="#f6f6fa"/><rect y="81.0" fill="#bcc0de"/><rect y="82.5" fill="#f3f3f9"/><rect y="83.9" fill="#e7e8f3"/><rect y="85.3" fill="#f6f3f7"/><rect y="86.7" fill="#cdd0e6"/><rect y="88.2" fill="#ced0e6"/><rect y="89.6" fill="#f0f0f7"/><rect y="91.0" fill="#f3f3f8"/><rect y="92.4" fill="#d2d5e9"/><rect y="93.9" fill="#eec9cc"/><rect y="95.3" fill="#ebbbbe"/><rect y="96.7" fill="#f1f1f8"/><rect y="98.2" fill="#edc5c8"/><rect y="99.6" fill="#f0d3d6"/><rect y="101.0" fill="#f2e1e4"/><rect y="102.4" fill="#ecbfc2"/><rect y="103.9" fill="#efeff7"/><rect y="105.3" fill="#f4ecef"/><rect y="106.7" fill="#e0e1ef"/><rect y="108.1" fill="#eec9cc"/><rect y="109.6" fill="#d8daeb"/><rect y="111.0" fill="#f1d9dc"/><rect y="112.4" fill="#dddfee"/><rect y="113.8" fill="#d3d5e9"/><rect y="115.3" fill="#f1f1f8"/><rect y="116.7" fill="#e1e3f0"/><rect y="118.1" fill="#dfe1ef"/><rect y="119.5" fill="#d0d2e7"/><rect y="121.0" fill="#cacde5"/><rect y="122.4" fill="#a8add4"/><rect y="123.8" fill="#f5eff3"/><rect y="125.3" fill="#f3e6ea"/><rect y="126.7" fill="#f0d3d6"/><rect y="128.1" fill="#edc5c8"/><rect y="129.5" fill="#ebbbbe"/><rect y="131.0" fill="#f5f3f7"/><rect y="132.4" fill="#f2e2e5"/><rect y="133.8" fill="#cbcee5"/><rect y="135.2" fill="#f0d2d6"/><rect y="136.7" fill="#f5eff3"/><rect y="138.1" fill="#f0d5d8"/><rect y="139.5" fill="#f2e2e6"/><rect y="140.9" fill="#f0d6da"/><rect y="142.4" fill="#ededf5"/><rect y="143.8" fill="#ebecf5"/><rect y="145.2" fill="#f4edf1"/><rect y="146.6" fill="#d2d4e9"/><rect y="148.1" fill="#f5f5fa"/><rect y="149.5" fill="#d3d5e9"/><rect y="150.9" fill="#f4edf1"/><rect y="152.4" fill="#d7d9eb"/><rect y="153.8" fill="#e8e9f3"/><rect y="155.2" fill="#f0f1f7"/><rect y="156.6" fill="#d8daec"/><rect y="158.1" fill="#dbdded"/><rect y="159.5" fill="#e5e6f2"/><rect y="160.9" fill="#e6e7f2"/><rect y="162.3" fill="#f5f0f4"/><rect y="163.8" fill="#f5f0f4"/><rect y="165.2" fill="#f5f3f7"/><rect y="166.6" fill="#ebecf5"/><rect y="168.0" fill="#e5e6f2"/><rect y="169.5" fill="#d9dbec"/><rect y="170.9" fill="#f2f2f8"/><rect y="172.3" fill="#e7e8f3"/><rect y="173.7" fill="#e3e4f1"/><rect y="175.2" fill="#f4f4f9"/></g>
<g class="hm" transform="translate(91.87 0)"><rect y="19.7" fill="#dcdeee"/><rect y="21.1" fill="#cccfe6"/><rect y="22.6" fill="#ced1e7"/><rect y="24.0" fill="#ececf5"/><rect y="25.4" fill="#cccfe6"/><rect y="26.8" fill="#dbdded"/><rect y="28.3" fill="#dbdced"/><rect y="29.7" fill="#e3e4f1"/><rect y="31.1" fill="#f2dee1"/><rect y="32.5" fill="#bcc0de"/><rect y="34.0" fill="#ced0e7"/><rect y="35.4" fill="#f4eef1"/><rect y="36.8" fill="#f6f6fa"/><rect y="38.2" fill="#c5c8e2"/><rect y="39.7" fill="#e3e5f1"/><rect y="41.1" fill="#c0c3e0"/><rect y="42.5" fill="#f5f0f3"/><rect y="43.9" fill="#c6c9e3"/><rect y="45.4" fill="#cfd2e7"/><rect y="46.8" fill="#e1e2f0"/><rect y="48.2" fill="#f2f2f8"/><rect y="49.7" fill="#e3e5f1"/><rect y="51.1" fill="#e2e3f0"/><rect y="52.5" fill="#dddfee"/><rect y="53.9" fill="#cccfe6"/><rect y="55.4" fill="#cdcfe6"/><rect y="56.8" fill="#c2c5e1"/><rect y="58.2" fill="#d4d6e9"/><rect y="59.6" fill="#dedfee"/><rect y="61.1" fill="#d9dbec"/><rect y="62.5" fill="#b9bddd"/><rect y="63.9" fill="#d1d4e8"/><rect y="65.3" fill="#e8aaad"/><rect y="66.8" fill="#e38c8e"/><rect y="68.2" fill="#f5f2f6"/><rect y="69.6" fill="#e38c8e"/><rect y="71.0" fill="#f0d3d6"/><rect y="72.5" fill="#d6d8eb"/><rect y="73.9" fill="#ebebf5"/><rect y="75.3" fill="#dfe1ef"/><rect y="76.8" fill="#cbcee5"/><rect y="78.2" fill="#eeeff6"/><rect y="79.6" fill="#eaebf4"/><rect y="81.0" fill="#bfc3df"/><rect y="82.5" fill="#cfd1e7"/><rect y="83.9" fill="#c9cce4"/><rect y="85.3" fill="#d7d9eb"/><rect y="86.7" fill="#d5d7ea"/><rect y="88.2" fill="#d0d3e8"/><rect y="89.6" fill="#ececf5"/><rect y="91.0" fill="#e0e1ef"/><rect y="92.4" fill="#cfd1e7"/><rect y="93.9" fill="#f3e3e7"/><rect y="95.3" fill="#ecbec1"/><rect y="96.7" fill="#e5e6f2"/><rect y="98.2" fill="#eecacd"/><rect y="99.6" fill="#f5f1f5"/><rect y="101.0" fill="#f2e2e6"/><rect y="102.4" fill="#f1d9dd"/><rect y="103.9" fill="#f3f3f8"/><rect y="105.3" fill="#eff0f7"/><rect y="106.7" fill="#dcdeed"/><rect y="108.1" fill="#f3e5e9"/><rect y="109.6" fill="#d8daec"/><rect y="111.0" fill="#f6f6fa"/><rect y="112.4" fill="#e49395"/><rect y="113.8" fill="#e38f91"/><rect y="115.3" fill="#de7172"/><rect y="116.7" fill="#e18082"/><rect y="118.1" fill="#e8a7a9"/><rect y="119.5" fill="#f3e3e7"/><rect y="121.0" fill="#eec9cd"/><rect y="122.4" fill="#efd0d3"/><rect y="123.8" fill="#e39092"/><rect y="125.3" fill="#e18284"/><rect y="126.7" fill="#eab3b6"/><rect y="128.1" fill="#e5989a"/><rect y="129.5" fill="#eec9cc"/><rect y="131.0" fill="#e69fa1"/><rect y="132.4" fill="#e9b0b2"/><rect y="133.8" fill="#eec8cb"/><rect y="135.2" fill="#e8aaac"/><rect y="136.7" fill="#edc4c7"/><rect y="138.1" fill="#e07b7c"/><rect y="139.5" fill="#e8aaad"/><rect y="140.9" fill="#df7778"/><rect y="142.4" fill="#e4e5f1"/><rect y="143.8" fill="#cdd0e6"/><rect y="145.2" fill="#d9dbec"/><rect y="146.6" fill="#e7e8f3"/><rect y="148.1" fill="#eeeef6"/><rect y="149.5" fill="#e0e2ef"/><rect y="150.9" fill="#ecedf5"/><rect y="152.4" fill="#ced0e7"/><rect y="153.8" fill="#dedfee"/><rect y="155.2" fill="#e3e4f1"/><rect y="156.6" fill="#e8e9f3"/><rect y="158.1" fill="#cccfe6"/><rect y="159.5" fill="#d8daeb"/><rect y="160.9" fill="#f4f4f9"/><rect y="162.3" fill="#f2f2f8"/><rect y="163.8" fill="#eeeff6"/><rect y="165.2" fill="#f6f5f9"/><rect y="166.6" fill="#eeeef6"/><rect y="168.0" fill="#efeff6"/><rect y="169.5" fill="#cbcee5"/><rect y="170.9" fill="#f4f4f9"/><rect y="172.3" fill="#e0e1ef"/><rect y="173.7" fill="#dadced"/><rect y="175.2" fill="#f0f0f7"/></g>
<g class="hm" transform="translate(97.67 0)"><rect y="19.7" fill="#d8daec"/><rect y="21.1" fill="#cfd1e7"/><rect y="22.6" fill="#bfc2df"/><rect y="24.0" fill="#e2e3f0"/><rect y="25.4" fill="#b1b5d8"/><rect y="26.8" fill="#eff0f7"/><rect y="28.3" fill="#d2d5e9"/><rect y="29.7" fill="#e1e2f0"/><rect y="31.1" fill="#e6e7f2"/><rect y="32.5" fill="#adb2d7"/><rect y="34.0" fill="#d8daec"/><rect y="35.4" fill="#ebebf4"/><rect y="36.8" fill="#f5f0f3"/><rect y="38.2" fill="#b9bddc"/><rect y="39.7" fill="#d8daeb"/><rect y="41.1" fill="#a4a9d2"/><rect y="42.5" fill="#f2f2f8"/><rect y="43.9" fill="#e7e8f3"/><rect y="45.4" fill="#bdc0de"/><rect y="46.8" fill="#e4e5f1"/><rect y="48.2" fill="#dcdeed"/><rect y="49.7" fill="#e7e8f3"/><rect y="51.1" fill="#dedfee"/><rect y="52.5" fill="#c8cbe4"/><rect y="53.9" fill="#b1b5d9"/><rect y="55.4" fill="#b0b5d8"/><rect y="56.8" fill="#cccfe6"/><rect y="58.2" fill="#dee0ee"/><rect y="59.6" fill="#cdd0e6"/><rect y="61.1" fill="#d5d7ea"/><rect y="62.5" fill="#c6c9e3"/><rect y="63.9" fill="#e2e4f1"/><rect y="65.3" fill="#d8daeb"/><rect y="66.8" fill="#e8e9f3"/><rect y="68.2" fill="#bfc3e0"/><rect y="69.6" fill="#f3e3e7"/><rect y="71.0" fill="#f3f3f8"/><rect y="72.5" fill="#dedfee"/><rect y="73.9" fill="#f5f2f6"/><rect y="75.3" fill="#d0d2e7"/><rect y="76.8" fill="#dee0ef"/><rect y="78.2" fill="#f5f1f4"/><rect y="79.6" fill="#f4f4f9"/><rect y="81.0" fill="#bdc1df"/><rect y="82.5" fill="#e3e4f1"/><rect y="83.9" fill="#c2c5e1"/><rect y="85.3" fill="#e9eaf4"/><rect y="86.7" fill="#dfe1ef"/><rect y="88.2" fill="#cccfe6"/><rect y="89.6" fill="#e3e4f1"/><rect y="91.0" fill="#e6e7f2"/><rect y="92.4" fill="#d7d9eb"/><rect y="93.9" fill="#edc2c5"/><rect y="95.3" fill="#eec9cc"/><rect y="96.7" fill="#f6f4f8"/><rect y="98.2" fill="#f1d9dc"/><rect y="99.6" fill="#f3e7ea"/><rect y="101.0" fill="#f6f6fa"/><rect y="102.4" fill="#efd0d3"/><rect y="103.9" fill="#f6f4f8"/><rect y="105.3" fill="#f0f0f7"/><rect y="106.7" fill="#f5f5f9"/><rect y="108.1" fill="#ecbdbf"/><rect y="109.6" fill="#d8daeb"/><rect y="111.0" fill="#e1e2f0"/><rect y="112.4" fill="#e18283"/><rect y="113.8" fill="#e59698"/><rect y="115.3" fill="#db6364"/><rect y="116.7" fill="#e8aaac"/><rect y="118.1" fill="#e69d9f"/><rect y="119.5" fill="#e7a4a6"/><rect y="121.0" fill="#f3e6ea"/><rect y="122.4" fill="#ecbdc0"/><rect y="123.8" fill="#de7172"/><rect y="125.3" fill="#e38c8e"/><rect y="126.7" fill="#e38d8f"/><rect y="128.1" fill="#e07b7d"/><rect y="129.5" fill="#e8a7a9"/><rect y="131.0" fill="#ecc0c3"/><rect y="132.4" fill="#efcdd0"/><rect y="133.8" fill="#f2e0e3"/><rect y="135.2" fill="#ebb7ba"/><rect y="136.7" fill="#e59a9c"/><rect y="138.1" fill="#e49395"/><rect y="139.5" fill="#eab2b4"/><rect y="140.9" fill="#e59a9c"/><rect y="142.4" fill="#dedfee"/><rect y="143.8" fill="#e5e6f2"/><rect y="145.2" fill="#e0e1ef"/><rect y="146.6" fill="#e0e2f0"/><rect y="148.1" fill="#f6f6fa"/><rect y="149.5" fill="#c8cbe4"/><rect y="150.9" fill="#d8daec"/><rect y="152.4" fill="#b9bddc"/><rect y="153.8" fill="#d7d9eb"/><rect y="155.2" fill="#d2d5e9"/><rect y="156.6" fill="#e9eaf4"/><rect y="158.1" fill="#c5c8e2"/><rect y="159.5" fill="#e3e4f1"/><rect y="160.9" fill="#d5d7ea"/><rect y="162.3" fill="#eff0f7"/><rect y="163.8" fill="#f3e6ea"/><rect y="165.2" fill="#ecedf5"/><rect y="166.6" fill="#f6f5f9"/><rect y="168.0" fill="#eff0f7"/><rect y="169.5" fill="#d5d7ea"/><rect y="170.9" fill="#f6f3f7"/><rect y="172.3" fill="#d6d8eb"/><rect y="173.7" fill="#e7e8f3"/><rect y="175.2" fill="#efeff6"/></g>
<g class="hm" transform="translate(103.48 0)"><rect y="19.7" fill="#d8daec"/><rect y="21.1" fill="#d7d9eb"/><rect y="22.6" fill="#d8daec"/><rect y="24.0" fill="#c7cae3"/><rect y="25.4" fill="#bfc3e0"/><rect y="26.8" fill="#f5f5fa"/><rect y="28.3" fill="#d7d9eb"/><rect y="29.7" fill="#dadbec"/><rect y="31.1" fill="#f5f5fa"/><rect y="32.5" fill="#cfd1e7"/><rect y="34.0" fill="#cccee6"/><rect y="35.4" fill="#e4e5f1"/><rect y="36.8" fill="#f5eef2"/><rect y="38.2" fill="#c1c4e0"/><rect y="39.7" fill="#e9eaf4"/><rect y="41.1" fill="#c5c8e2"/><rect y="42.5" fill="#f0f0f7"/><rect y="43.9" fill="#dfe1ef"/><rect y="45.4" fill="#c9cce4"/><rect y="46.8" fill="#e2e3f0"/><rect y="48.2" fill="#d1d4e8"/><rect y="49.7" fill="#dadced"/><rect y="51.1" fill="#dcdeee"/><rect y="52.5" fill="#cfd2e7"/><rect y="53.9" fill="#babedd"/><rect y="55.4" fill="#c4c7e2"/><rect y="56.8" fill="#c8cbe4"/><rect y="58.2" fill="#d8daec"/><rect y="59.6" fill="#e9eaf4"/><rect y="61.1" fill="#c3c6e1"/><rect y="62.5" fill="#b5badb"/><rect y="63.9" fill="#c3c7e2"/><rect y="65.3" fill="#e6e7f2"/><rect y="66.8" fill="#efeff6"/><rect y="68.2" fill="#d1d3e8"/><rect y="69.6" fill="#f3e7eb"/><rect y="71.0" fill="#f5f5fa"/><rect y="72.5" fill="#dfe1ef"/><rect y="73.9" fill="#f2e1e5"/><rect y="75.3" fill="#e6e7f2"/><rect y="76.8" fill="#ebebf4"/><rect y="78.2" fill="#e9eaf4"/><rect y="79.6" fill="#e9eaf4"/><rect y="81.0" fill="#c7cae3"/><rect y="82.5" fill="#dddfee"/><rect y="83.9" fill="#b7bbdc"/><rect y="85.3" fill="#e6e7f2"/><rect y="86.7" fill="#d8daec"/><rect y="88.2" fill="#ced1e7"/><rect y="89.6" fill="#eaebf4"/><rect y="91.0" fill="#dedfee"/><rect y="92.4" fill="#d0d3e8"/><rect y="93.9" fill="#e8e9f3"/><rect y="95.3" fill="#f2e3e6"/><rect y="96.7" fill="#e3e4f1"/><rect y="98.2" fill="#f4eaee"/><rect y="99.6" fill="#f4e9ed"/><rect y="101.0" fill="#ebecf5"/><rect y="102.4" fill="#edc3c6"/><rect y="103.9" fill="#f2f2f8"/><rect y="105.3" fill="#f5f2f6"/><rect y="106.7" fill="#e4e5f1"/><rect y="108.1" fill="#edc7ca"/><rect y="109.6" fill="#e3e4f1"/><rect y="111.0" fill="#f5eff3"/><rect y="112.4" fill="#ecbec1"/><rect y="113.8" fill="#e8a7a9"/><rect y="115.3" fill="#e8a8aa"/><rect y="116.7" fill="#e69c9e"/><rect y="118.1" fill="#eec9cd"/><rect y="119.5" fill="#f0d5d9"/><rect y="121.0" fill="#e69b9e"/><rect y="122.4" fill="#f4ebef"/><rect y="123.8" fill="#e07b7d"/><rect y="125.3" fill="#efcdd0"/><rect y="126.7" fill="#eecccf"/><rect y="128.1" fill="#e07e80"/><rect y="129.5" fill="#efd1d5"/><rect y="131.0" fill="#efd2d5"/><rect y="132.4" fill="#edc4c7"/><rect y="133.8" fill="#f4ecf0"/><rect y="135.2" fill="#de7173"/><rect y="136.7" fill="#f1d9dc"/><rect y="138.1" fill="#eecacd"/><rect y="139.5" fill="#ecc1c4"/><rect y="140.9" fill="#e5999b"/><rect y="142.4" fill="#f5f2f6"/><rect y="143.8" fill="#c7cae3"/><rect y="145.2" fill="#d3d5e9"/><rect y="146.6" fill="#d7d9eb"/><rect y="148.1" fill="#ebecf5"/><rect y="149.5" fill="#dadced"/><rect y="150.9" fill="#e7e8f3"/><rect y="152.4" fill="#b6bbdb"/><rect y="153.8" fill="#d6d8ea"/><rect y="155.2" fill="#d9dbec"/><rect y="156.6" fill="#e6e7f2"/><rect y="158.1" fill="#d0d2e8"/><rect y="159.5" fill="#e1e2f0"/><rect y="160.9" fill="#e6e7f2"/><rect y="162.3" fill="#d2d4e8"/><rect y="163.8" fill="#f3f3f9"/><rect y="165.2" fill="#f5f5f9"/><rect y="166.6" fill="#d0d3e8"/><rect y="168.0" fill="#eaebf4"/><rect y="169.5" fill="#dfe1ef"/><rect y="170.9" fill="#f3f4f9"/><rect y="172.3" fill="#dbdded"/><rect y="173.7" fill="#d1d3e8"/><rect y="175.2" fill="#f1f1f7"/></g>
<g class="hm" transform="translate(109.28 0)"><rect y="19.7" fill="#c0c4e0"/><rect y="21.1" fill="#d2d5e9"/><rect y="22.6" fill="#d6d8eb"/><rect y="24.0" fill="#c0c3e0"/><rect y="25.4" fill="#d0d2e8"/><rect y="26.8" fill="#e0e1ef"/><rect y="28.3" fill="#dbdced"/><rect y="29.7" fill="#e6e7f2"/><rect y="31.1" fill="#f5f5fa"/><rect y="32.5" fill="#a4a9d2"/><rect y="34.0" fill="#e1e2f0"/><rect y="35.4" fill="#f6f4f8"/><rect y="36.8" fill="#e3e4f1"/><rect y="38.2" fill="#d3d5e9"/><rect y="39.7" fill="#cbcde5"/><rect y="41.1" fill="#c9cce4"/><rect y="42.5" fill="#e7e8f3"/><rect y="43.9" fill="#d4d6ea"/><rect y="45.4" fill="#aeb3d7"/><rect y="46.8" fill="#e4e5f1"/><rect y="48.2" fill="#d8daeb"/><rect y="49.7" fill="#f5f2f6"/><rect y="51.1" fill="#d9dbec"/><rect y="52.5" fill="#bdc1df"/><rect y="53.9" fill="#b4b8da"/><rect y="55.4" fill="#cfd1e7"/><rect y="56.8" fill="#c4c7e2"/><rect y="58.2" fill="#dadced"/><rect y="59.6" fill="#e8e9f3"/><rect y="61.1" fill="#e2e3f0"/><rect y="62.5" fill="#c4c8e2"/><rect y="63.9" fill="#cbcee5"/><rect y="65.3" fill="#e7e8f3"/><rect y="66.8" fill="#dddfee"/><rect y="68.2" fill="#e0e1ef"/><rect y="69.6" fill="#f0d3d7"/><rect y="71.0" fill="#ecedf5"/><rect y="72.5" fill="#e9eaf4"/><rect y="73.9" fill="#efeff6"/><rect y="75.3" fill="#dee0ee"/><rect y="76.8" fill="#f2f2f8"/><rect y="78.2" fill="#f5f1f4"/><rect y="79.6" fill="#d8daeb"/><rect y="81.0" fill="#babedd"/><rect y="82.5" fill="#c9cce4"/><rect y="83.9" fill="#bbbfdd"/><rect y="85.3" fill="#d9dbec"/><rect y="86.7" fill="#d2d4e9"/><rect y="88.2" fill="#aeb3d7"/><rect y="89.6" fill="#e1e2f0"/><rect y="91.0" fill="#d7d9eb"/><rect y="92.4" fill="#d6d8eb"/><rect y="93.9" fill="#f3e4e8"/><rect y="95.3" fill="#edc2c5"/><rect y="96.7" fill="#d8daec"/><rect y="98.2" fill="#f5eff3"/><rect y="99.6" fill="#f5eef2"/><rect y="101.0" fill="#f1f1f7"/><rect y="102.4" fill="#f4ebef"/><rect y="103.9" fill="#f5f5fa"/><rect y="105.3" fill="#f0f0f7"/><rect y="106.7" fill="#e9eaf4"/><rect y="108.1" fill="#f2e0e4"/><rect y="109.6" fill="#e2e3f0"/><rect y="111.0" fill="#e9eaf4"/><rect y="112.4" fill="#de7476"/><rect y="113.8" fill="#e59b9d"/><rect y="115.3" fill="#ebb7ba"/><rect y="116.7" fill="#e7a2a4"/><rect y="118.1" fill="#e18486"/><rect y="119.5" fill="#e49193"/><rect y="121.0" fill="#e28788"/><rect y="122.4" fill="#e9e9f3"/><rect y="123.8" fill="#d95556"/><rect y="125.3" fill="#eab6b9"/><rect y="126.7" fill="#e5999b"/><rect y="128.1" fill="#e18384"/><rect y="129.5" fill="#e28a8c"/><rect y="131.0" fill="#ebb9bc"/><rect y="132.4" fill="#e07c7d"/><rect y="133.8" fill="#efd0d4"/><rect y="135.2" fill="#e7a4a6"/><rect y="136.7" fill="#ecc2c5"/><rect y="138.1" fill="#ebb7ba"/><rect y="139.5" fill="#e9b0b2"/><rect y="140.9" fill="#e8a7aa"/><rect y="142.4" fill="#f4ebef"/><rect y="143.8" fill="#cbcee5"/><rect y="145.2" fill="#e7e8f3"/><rect y="146.6" fill="#ced0e7"/><rect y="148.1" fill="#f6f4f8"/><rect y="149.5" fill="#b4b9da"/><rect y="150.9" fill="#c8cbe4"/><rect y="152.4" fill="#b0b5d8"/><rect y="153.8" fill="#d6d8ea"/><rect y="155.2" fill="#d9dbec"/><rect y="156.6" fill="#e8e9f3"/><rect y="158.1" fill="#ced0e6"/><rect y="159.5" fill="#d5d7ea"/><rect y="160.9" fill="#e8e9f3"/><rect y="162.3" fill="#dfe0ef"/><rect y="163.8" fill="#eff0f7"/><rect y="165.2" fill="#dfe0ef"/><rect y="166.6" fill="#f5f2f6"/><rect y="168.0" fill="#f5eef2"/><rect y="169.5" fill="#d4d6e9"/><rect y="170.9" fill="#f4f4f9"/><rect y="172.3" fill="#cfd2e7"/><rect y="173.7" fill="#dbdded"/><rect y="175.2" fill="#e1e2f0"/></g>
<g class="hm" transform="translate(115.09 0)"><rect y="19.7" fill="#b8bcdc"/><rect y="21.1" fill="#c3c6e1"/><rect y="22.6" fill="#d2d4e8"/><rect y="24.0" fill="#d8daeb"/><rect y="25.4" fill="#aaafd5"/><rect y="26.8" fill="#ced0e7"/><rect y="28.3" fill="#cccfe6"/><rect y="29.7" fill="#dadbec"/><rect y="31.1" fill="#f6f4f8"/><rect y="32.5" fill="#b2b7d9"/><rect y="34.0" fill="#e2e3f0"/><rect y="35.4" fill="#e6e7f2"/><rect y="36.8" fill="#ecedf5"/><rect y="38.2" fill="#adb2d7"/><rect y="39.7" fill="#e0e2f0"/><rect y="41.1" fill="#b0b4d8"/><rect y="42.5" fill="#e6e7f2"/><rect y="43.9" fill="#e3e4f1"/><rect y="45.4" fill="#b6badb"/><rect y="46.8" fill="#d8daec"/><rect y="48.2" fill="#dee0ee"/><rect y="49.7" fill="#e3e4f1"/><rect y="51.1" fill="#dbdded"/><rect y="52.5" fill="#d2d4e9"/><rect y="53.9" fill="#acb0d6"/><rect y="55.4" fill="#b6badb"/><rect y="56.8" fill="#c7cae3"/><rect y="58.2" fill="#ced0e7"/><rect y="59.6" fill="#ced1e7"/><rect y="61.1" fill="#c1c4e0"/><rect y="62.5" fill="#c1c4e0"/><rect y="63.9" fill="#e2e3f0"/><rect y="65.3" fill="#a3a8d2"/><rect y="66.8" fill="#a5aad3"/><rect y="68.2" fill="#9299ca"/><rect y="69.6" fill="#d6d8eb"/><rect y="71.0" fill="#bdc1de"/><rect y="72.5" fill="#c8cbe4"/><rect y="73.9" fill="#e4e5f1"/><rect y="75.3" fill="#c1c4e0"/><rect y="76.8" fill="#d7d9eb"/><rect y="78.2" fill="#f3f3f9"/><rect y="79.6" fill="#f5f2f6"/><rect y="81.0" fill="#b0b5d8"/><rect y="82.5" fill="#d9dbec"/><rect y="83.9" fill="#bec2df"/><rect y="85.3" fill="#e5e6f2"/><rect y="86.7" fill="#e9eaf4"/><rect y="88.2" fill="#bcbfde"/><rect y="89.6" fill="#cfd2e7"/><rect y="91.0" fill="#d3d5e9"/><rect y="92.4" fill="#d6d8ea"/><rect y="93.9" fill="#ebebf5"/><rect y="95.3" fill="#eec9cc"/><rect y="96.7" fill="#dbdced"/><rect y="98.2" fill="#f4eaee"/><rect y="99.6" fill="#f4e9ed"/><rect y="101.0" fill="#e6e7f2"/><rect y="102.4" fill="#f2e1e5"/><rect y="103.9" fill="#e0e2f0"/><rect y="105.3" fill="#ced1e7"/><rect y="106.7" fill="#e9eaf4"/><rect y="108.1" fill="#edc5c8"/><rect y="109.6" fill="#d7d9eb"/><rect y="111.0" fill="#f5f1f5"/><rect y="112.4" fill="#e9aeb1"/><rect y="113.8" fill="#e9adb0"/><rect y="115.3" fill="#e38c8d"/><rect y="116.7" fill="#e49496"/><rect y="118.1" fill="#eab6b9"/><rect y="119.5" fill="#f0d4d8"/><rect y="121.0" fill="#eab1b4"/><rect y="122.4" fill="#eab5b7"/><rect y="123.8" fill="#dd6e70"/><rect y="125.3" fill="#e8a6a9"/><rect y="126.7" fill="#ecc0c3"/><rect y="128.1" fill="#dc6667"/><rect y="129.5" fill="#ebbbbd"/><rect y="131.0" fill="#e69da0"/><rect y="132.4" fill="#edc5c8"/><rect y="133.8" fill="#ebbcbf"/><rect y="135.2" fill="#eab4b7"/><rect y="136.7" fill="#ecc0c3"/><rect y="138.1" fill="#e18385"/><rect y="139.5" fill="#eec8cb"/><rect y="140.9" fill="#eab6b9"/><rect y="142.4" fill="#dee0ee"/><rect y="143.8" fill="#d5d7ea"/><rect y="145.2" fill="#e5e6f2"/><rect y="146.6" fill="#b9bddd"/><rect y="148.1" fill="#edeef6"/><rect y="149.5" fill="#c6c9e3"/><rect y="150.9" fill="#bcc0de"/><rect y="152.4" fill="#c8cbe4"/><rect y="153.8" fill="#c8cbe4"/><rect y="155.2" fill="#d6d8eb"/><rect y="156.6" fill="#d3d5e9"/><rect y="158.1" fill="#c9cce4"/><rect y="159.5" fill="#cfd1e7"/><rect y="160.9" fill="#ebebf4"/><rect y="162.3" fill="#eeeef6"/><rect y="163.8" fill="#e4e5f1"/><rect y="165.2" fill="#dedfee"/><rect y="166.6" fill="#edeef6"/><rect y="168.0" fill="#dedfee"/><rect y="169.5" fill="#c9cce4"/><rect y="170.9" fill="#d7d9eb"/><rect y="172.3" fill="#c2c5e1"/><rect y="173.7" fill="#d6d8ea"/><rect y="175.2" fill="#cbcee5"/></g>
<g class="hm" transform="translate(120.89 0)"><rect y="19.7" fill="#c9cce4"/><rect y="21.1" fill="#c5c8e2"/><rect y="22.6" fill="#dfe0ef"/><rect y="24.0" fill="#d3d6e9"/><rect y="25.4" fill="#c4c8e2"/><rect y="26.8" fill="#e3e5f1"/><rect y="28.3" fill="#dddeee"/><rect y="29.7" fill="#d9dbec"/><rect y="31.1" fill="#f3e3e7"/><rect y="32.5" fill="#adb2d7"/><rect y="34.0" fill="#ced1e7"/><rect y="35.4" fill="#eeeef6"/><rect y="36.8" fill="#d6d8ea"/><rect y="38.2" fill="#c0c4e0"/><rect y="39.7" fill="#dedfee"/><rect y="41.1" fill="#b6badb"/><rect y="42.5" fill="#f5eff3"/><rect y="43.9" fill="#f0f0f7"/><rect y="45.4" fill="#c6c9e3"/><rect y="46.8" fill="#d4d6e9"/><rect y="48.2" fill="#e6e7f2"/><rect y="49.7" fill="#dadced"/><rect y="51.1" fill="#d0d2e8"/><rect y="52.5" fill="#dcdded"/><rect y="53.9" fill="#bec2df"/><rect y="55.4" fill="#d1d3e8"/><rect y="56.8" fill="#cbcee5"/><rect y="58.2" fill="#ced1e7"/><rect y="59.6" fill="#d9dbec"/><rect y="61.1" fill="#d1d3e8"/><rect y="62.5" fill="#cacde5"/><rect y="63.9" fill="#b7bbdb"/><rect y="65.3" fill="#e4e6f1"/><rect y="66.8" fill="#e5e6f2"/><rect y="68.2" fill="#d0d2e7"/><rect y="69.6" fill="#f3e7eb"/><rect y="71.0" fill="#eff0f7"/><rect y="72.5" fill="#c6c9e3"/><rect y="73.9" fill="#e9eaf4"/><rect y="75.3" fill="#ecedf5"/><rect y="76.8" fill="#e2e3f0"/><rect y="78.2" fill="#f2f2f8"/><rect y="79.6" fill="#f4ecef"/><rect y="81.0" fill="#bec1df"/><rect y="82.5" fill="#ebecf5"/><rect y="83.9" fill="#ced1e7"/><rect y="85.3" fill="#e1e3f0"/><rect y="86.7" fill="#dadced"/><rect y="88.2" fill="#d1d3e8"/><rect y="89.6" fill="#f5f5f9"/><rect y="91.0" fill="#dcdeed"/><rect y="92.4" fill="#dee0ee"/><rect y="93.9" fill="#f0d3d6"/><rect y="95.3" fill="#eab7b9"/><rect y="96.7" fill="#f1dce0"/><rect y="98.2" fill="#f1dadd"/><rect y="99.6" fill="#f3f3f9"/><rect y="101.0" fill="#ebecf5"/><rect y="102.4" fill="#f0d3d6"/><rect y="103.9" fill="#f3e6ea"/><rect y="105.3" fill="#f0f1f7"/><rect y="106.7" fill="#f4edf1"/><rect y="108.1" fill="#ecc1c4"/><rect y="109.6" fill="#d7d9eb"/><rect y="111.0" fill="#ececf5"/><rect y="112.4" fill="#da5d5d"/><rect y="113.8" fill="#e59a9c"/><rect y="115.3" fill="#df7576"/><rect y="116.7" fill="#dd6d6e"/><rect y="118.1" fill="#ecc0c3"/><rect y="119.5" fill="#ecbec1"/><rect y="121.0" fill="#eec8cb"/><rect y="122.4" fill="#edc3c5"/><rect y="123.8" fill="#e38f91"/><rect y="125.3" fill="#e9aeb0"/><rect y="126.7" fill="#ecbfc2"/><rect y="128.1" fill="#e39092"/><rect y="129.5" fill="#e7a5a8"/><rect y="131.0" fill="#e69c9e"/><rect y="132.4" fill="#e49294"/><rect y="133.8" fill="#efd0d3"/><rect y="135.2" fill="#e8a9ac"/><rect y="136.7" fill="#ebb8ba"/><rect y="138.1" fill="#e5999b"/><rect y="139.5" fill="#e18284"/><rect y="140.9" fill="#df7577"/><rect y="142.4" fill="#e4e5f1"/><rect y="143.8" fill="#d1d3e8"/><rect y="145.2" fill="#d7d9eb"/><rect y="146.6" fill="#cbcde5"/><rect y="148.1" fill="#ededf6"/><rect y="149.5" fill="#d1d4e8"/><rect y="150.9" fill="#d4d6e9"/><rect y="152.4" fill="#cccfe6"/><rect y="153.8" fill="#f0f1f7"/><rect y="155.2" fill="#e1e3f0"/><rect y="156.6" fill="#cfd1e7"/><rect y="158.1" fill="#c4c8e2"/><rect y="159.5" fill="#dedfee"/><rect y="160.9" fill="#e1e2f0"/><rect y="162.3" fill="#d8daec"/><rect y="163.8" fill="#e7e8f3"/><rect y="165.2" fill="#f5f1f5"/><rect y="166.6" fill="#d6d8eb"/><rect y="168.0" fill="#f6f4f8"/><rect y="169.5" fill="#e6e7f2"/><rect y="170.9" fill="#dedfee"/><rect y="172.3" fill="#d1d3e8"/><rect y="173.7" fill="#cbcee5"/><rect y="175.2" fill="#f0f0f7"/></g>
</g>
<rect x="22.2" y="18.1" width="5.86" height="1.4" fill="#5cb25c"/>
<rect x="28.01" y="18.1" width="5.86" height="1.4" fill="#82a9d0"/>
<rect x="33.81" y="18.1" width="5.86" height="1.4" fill="#5cb25c"/>
<rect x="39.62" y="18.1" width="5.86" height="1.4" fill="#5cb25c"/>
<rect x="45.42" y="18.1" width="5.86" height="1.4" fill="#5cb25c"/>
<rect x="51.23" y="18.1" width="5.86" height="1.4" fill="#5cb25c"/>
<rect x="57.03" y="18.1" width="5.86" height="1.4" fill="#5cb25c"/>
<rect x="62.84" y="18.1" width="5.86" height="1.4" fill="#82a9d0"/>
<rect x="68.64" y="18.1" width="5.86" height="1.4" fill="#82a9d0"/>
<rect x="74.45" y="18.1" width="5.86" height="1.4" fill="#82a9d0"/>
<rect x="80.26" y="18.1" width="5.86" height="1.4" fill="#82a9d0"/>
<rect x="86.06" y="18.1" width="5.86" height="1.4" fill="#82a9d0"/>
<rect x="91.87" y="18.1" width="5.86" height="1.4" fill="#d97b7b"/>
<rect x="97.67" y="18.1" width="5.86" height="1.4" fill="#d97b7b"/>
<rect x="103.48" y="18.1" width="5.86" height="1.4" fill="#d97b7b"/>
<rect x="109.28" y="18.1" width="5.86" height="1.4" fill="#d97b7b"/>
<rect x="115.09" y="18.1" width="5.86" height="1.4" fill="#d97b7b"/>
<rect x="120.89" y="18.1" width="5.86" height="1.4" fill="#d97b7b"/>
<path d="M25.1 18V13.3H30.91V18" stroke="#6e6e6e" stroke-width="0.7" fill="none"/>
<path d="M36.71 18V15.2H42.52V18" stroke="#6e6e6e" stroke-width="0.7" fill="none"/>
<path d="M54.13 18V14.3H59.94V18" stroke="#6e6e6e" stroke-width="0.7" fill="none"/>
<path d="M48.33 18V12.6H57.03V14.3" stroke="#6e6e6e" stroke-width="0.7" fill="none"/>
<path d="M39.62 15.2V8.4H52.68V12.6" stroke="#6e6e6e" stroke-width="0.7" fill="none"/>
<path d="M71.55 18V14.6H77.35V18" stroke="#6e6e6e" stroke-width="0.7" fill="none"/>
<path d="M83.16 18V14.9H88.96V18" stroke="#6e6e6e" stroke-width="0.7" fill="none"/>
<path d="M74.45 14.6V13.2H86.06V14.9" stroke="#6e6e6e" stroke-width="0.7" fill="none"/>
<path d="M65.74 18V12.3H80.26V13.2" stroke="#6e6e6e" stroke-width="0.7" fill="none"/>
<path d="M100.58 18V15.3H106.38V18" stroke="#6e6e6e" stroke-width="0.7" fill="none"/>
<path d="M94.77 18V14.3H103.48V15.3" stroke="#6e6e6e" stroke-width="0.7" fill="none"/>
<path d="M117.99 18V15H123.8V18" stroke="#6e6e6e" stroke-width="0.7" fill="none"/>
<path d="M112.19 18V13.6H120.89V15" stroke="#6e6e6e" stroke-width="0.7" fill="none"/>
<path d="M99.12 14.3V11.6H116.54V13.6" stroke="#6e6e6e" stroke-width="0.7" fill="none"/>
<path d="M73 12.3V9.2H107.83V11.6" stroke="#6e6e6e" stroke-width="0.7" fill="none"/>
<path d="M46.15 8.4V7.6H90.42V9.2" stroke="#6e6e6e" stroke-width="0.7" fill="none"/>
<path d="M28.01 13.3V6H68.28V7.6" stroke="#6e6e6e" stroke-width="0.7" fill="none"/>
<path d="M22.00 19.95H19.97V20.44H22.00M22.00 20.93H19.84V21.42H22.00M22.00 21.91H20.10V22.40H22.00M19.84 21.17H18.71V22.15H20.10M18.71 21.66H18.56V22.89H22.00M22.00 23.87H20.00V24.36H22.00M22.00 23.38H19.35V24.11H20.00M18.56 22.27H17.14V23.75H19.35M19.97 20.19H16.80V23.01H17.14M22.00 24.85H19.83V25.34H22.00M19.83 25.09H18.87V25.83H22.00M22.00 26.32H19.99V26.81H22.00M22.00 27.30H19.67V27.79H22.00M19.99 26.56H18.45V27.55H19.67M18.87 25.46H17.68V27.05H18.45M16.80 21.60H16.33V26.26H17.68M22.00 28.28H19.73V28.77H22.00M19.73 28.53H19.15V29.26H22.00M19.15 28.89H18.64V29.75H22.00M22.00 30.24H20.02V30.73H22.00M18.64 29.32H18.26V30.49H20.02M22.00 31.22H19.83V31.71H22.00M22.00 33.67H20.08V34.16H22.00M22.00 33.18H19.24V33.92H20.08M22.00 32.69H18.47V33.55H19.24M18.47 33.12H18.32V34.65H22.00M22.00 32.20H18.09V33.89H18.32M19.83 31.47H17.54V33.05H18.09M22.00 35.14H20.03V35.64H22.00M17.54 32.26H17.14V35.39H20.03M18.26 29.90H16.74V33.82H17.14M22.00 36.13H19.82V36.62H22.00M22.00 37.11H19.99V37.60H22.00M22.00 39.07H19.93V39.56H22.00M22.00 38.58H18.85V39.31H19.93M22.00 38.09H18.35V38.94H18.85M19.99 37.35H17.96V38.52H18.35M19.82 36.37H17.22V37.93H17.96M22.00 40.54H19.96V41.03H22.00M19.96 40.78H19.23V41.52H22.00M22.00 40.05H18.21V41.15H19.23M22.00 42.50H19.84V42.99H22.00M22.00 42.01H19.03V42.74H19.84M22.00 43.48H20.04V43.97H22.00M22.00 44.95H19.69V45.44H22.00M19.69 45.20H19.27V45.93H22.00M22.00 44.46H18.34V45.56H19.27M20.04 43.73H17.58V45.01H18.34M22.00 46.91H20.06V47.40H22.00M22.00 46.42H19.02V47.16H20.06M19.02 46.79H18.24V47.89H22.00M17.58 44.37H17.31V47.34H18.24M22.00 48.38H19.68V48.87H22.00M17.31 45.86H17.16V48.63H19.68M19.03 42.38H17.01V47.24H17.16M18.21 40.60H16.01V44.81H17.01M17.22 37.15H15.78V42.70H16.01M16.74 31.86H14.80V39.93H15.78M16.33 23.93H14.54V35.90H14.80M22.00 49.85H20.01V50.34H22.00M22.00 49.36H18.95V50.10H20.01M22.00 51.82H20.08V52.31H22.00M22.00 51.33H19.23V52.06H20.08M22.00 50.83H18.78V51.69H19.23M18.78 51.26H18.37V52.80H22.00M22.00 53.29H20.05V53.78H22.00M20.05 53.53H19.16V54.27H22.00M18.37 52.03H17.33V53.90H19.16M18.95 49.73H17.18V52.96H17.33M22.00 55.74H19.71V56.23H22.00M22.00 55.25H19.37V55.98H19.71M22.00 54.76H18.51V55.62H19.37M22.00 57.21H19.83V57.70H22.00M22.00 56.72H18.80V57.45H19.83M18.51 55.19H17.51V57.09H18.80M17.51 56.14H17.07V58.19H22.00M17.18 51.35H15.79V57.16H17.07M22.00 58.68H19.71V59.17H22.00M19.71 58.93H19.06V59.66H22.00M22.00 60.15H19.72V60.64H22.00M19.72 60.40H18.97V61.13H22.00M22.00 61.62H19.94V62.11H22.00M22.00 62.60H19.84V63.09H22.00M19.94 61.87H18.52V62.85H19.84M18.52 62.36H17.96V63.58H22.00M18.97 60.76H17.04V62.97H17.96M22.00 64.07H19.94V64.56H22.00M19.94 64.32H18.85V65.05H22.00M18.85 64.69H18.47V65.54H22.00M17.04 61.87H16.62V65.12H18.47M19.06 59.29H15.94V63.49H16.62M22.00 66.03H19.78V66.52H22.00M22.00 67.02H19.70V67.51H22.00M19.70 67.26H19.09V68.00H22.00M19.09 67.63H18.76V68.49H22.00M22.00 68.98H19.81V69.47H22.00M22.00 69.96H19.82V70.45H22.00M19.82 70.20H19.29V70.94H22.00M19.81 69.22H18.58V70.57H19.29M18.76 68.06H17.16V69.90H18.58M19.78 66.28H16.61V68.98H17.16M22.00 71.92H19.94V72.41H22.00M19.94 72.16H18.83V72.90H22.00M18.83 72.53H18.62V73.39H22.00M22.00 71.43H18.06V72.96H18.62M22.00 73.88H19.89V74.37H22.00M22.00 74.86H20.03V75.35H22.00M22.00 76.33H19.93V76.82H22.00M22.00 75.84H19.22V76.58H19.93M20.03 75.11H17.83V76.21H19.22M22.00 77.31H19.89V77.80H22.00M17.83 75.66H17.60V77.56H19.89M19.89 74.12H17.45V76.61H17.60M18.06 72.19H16.17V75.37H17.45M16.61 67.63H15.71V73.78H16.17M15.94 61.39H14.86V70.70H15.71M15.79 54.26H14.38V66.05H14.86M14.54 29.91H13.90V60.15H14.38M22.00 78.78H19.76V79.27H22.00M22.00 78.29H19.05V79.03H19.76M19.05 78.66H18.90V79.76H22.00M18.90 79.21H18.57V80.25H22.00M22.00 80.74H20.09V81.23H22.00M22.00 81.72H19.68V82.21H22.00M19.68 81.97H18.99V82.71H22.00M22.00 83.20H20.02V83.69H22.00M18.99 82.34H18.23V83.44H20.02M20.09 80.99H17.89V82.89H18.23M22.00 84.18H20.03V84.67H22.00M17.89 81.94H17.74V84.42H20.03M22.00 85.16H19.96V85.65H22.00M22.00 86.63H19.76V87.12H22.00M22.00 86.14H18.93V86.87H19.76M22.00 87.61H20.07V88.10H22.00M18.93 86.51H18.17V87.85H20.07M19.96 85.40H17.94V87.18H18.17M22.00 89.08H19.71V89.57H22.00M19.71 89.32H19.11V90.06H22.00M22.00 88.59H18.41V89.69H19.11M17.94 86.29H16.99V89.14H18.41M17.74 83.18H16.57V87.72H16.99M18.57 79.73H15.87V85.45H16.57M22.00 90.55H20.02V91.04H22.00M20.02 90.80H19.11V91.53H22.00M19.11 91.16H18.35V92.02H22.00M18.35 91.59H18.14V92.51H22.00M15.87 82.59H15.11V92.05H18.14M13.90 45.03H13.47V87.32H15.11M22.00 93.49H19.77V93.98H22.00M19.77 93.74H19.12V94.47H22.00M22.00 93.00H18.68V94.10H19.12M18.68 93.55H17.86V94.96H22.00M22.00 95.45H19.76V95.94H22.00M22.00 96.43H20.04V96.92H22.00M19.76 95.70H18.80V96.68H20.04M22.00 97.41H19.79V97.90H22.00M18.80 96.19H18.27V97.66H19.79M22.00 98.40H19.89V98.89H22.00M19.89 98.64H18.97V99.38H22.00M18.27 96.92H17.73V99.01H18.97M17.86 94.26H16.28V97.97H17.73M22.00 100.36H19.88V100.85H22.00M19.88 100.60H18.94V101.34H22.00M22.00 99.87H18.55V100.97H18.94M22.00 101.83H19.71V102.32H22.00M19.71 102.07H19.16V102.81H22.00M22.00 103.30H20.02V103.79H22.00M22.00 104.28H19.89V104.77H22.00M20.02 103.54H18.55V104.52H19.89M18.55 104.03H17.91V105.26H22.00M19.16 102.44H17.44V104.65H17.91M18.55 100.42H17.29V103.54H17.44M16.28 96.11H15.13V101.98H17.29M22.00 105.75H19.75V106.24H22.00M22.00 106.73H19.89V107.22H22.00M19.75 106.00H18.72V106.98H19.89M18.72 106.49H18.57V107.71H22.00M15.13 99.05H14.98V107.10H18.57M22.00 108.20H19.92V108.69H22.00M22.00 109.67H20.05V110.16H22.00M20.05 109.92H19.01V110.65H22.00M22.00 109.18H18.70V110.29H19.01M22.00 111.63H19.97V112.12H22.00M19.97 111.88H19.25V112.61H22.00M22.00 111.14H18.91V112.25H19.25M18.70 109.73H17.28V111.69H18.91M19.92 108.45H17.13V110.71H17.28M22.00 114.09H20.02V114.58H22.00M22.00 113.59H19.08V114.33H20.02M22.00 113.10H18.40V113.96H19.08M22.00 115.56H19.87V116.05H22.00M19.87 115.80H19.00V116.54H22.00M22.00 115.07H18.81V116.17H19.00M22.00 117.03H20.01V117.52H22.00M20.01 117.27H19.02V118.01H22.00M18.81 115.62H17.73V117.64H19.02M22.00 118.99H19.67V119.48H22.00M22.00 118.50H18.82V119.23H19.67M22.00 120.95H20.07V121.44H22.00M22.00 120.46H18.98V121.19H20.07M22.00 119.97H18.83V120.83H18.98M18.82 118.87H17.82V120.40H18.83M22.00 121.93H19.92V122.42H22.00M17.82 119.63H16.95V122.18H19.92M17.73 116.63H16.50V120.90H16.95M18.40 113.53H15.97V118.77H16.50M17.13 109.58H15.56V116.15H15.97M22.00 123.40H20.02V123.89H22.00M22.00 122.91H18.97V123.65H20.02M22.00 124.38H19.77V124.87H22.00M19.77 124.63H19.32V125.36H22.00M19.32 124.99H18.27V125.85H22.00M18.97 123.28H17.99V125.42H18.27M15.56 112.87H15.41V124.35H17.99M22.00 126.34H20.09V126.83H22.00M22.00 127.81H19.67V128.30H22.00M19.67 128.06H19.27V128.79H22.00M22.00 127.32H18.82V128.43H19.27M22.00 130.27H19.77V130.76H22.00M22.00 129.78H19.01V130.51H19.77M22.00 129.28H18.86V130.14H19.01M18.82 127.88H17.70V129.71H18.86M20.09 126.59H17.55V128.79H17.70M22.00 131.74H19.93V132.23H22.00M19.93 131.98H19.11V132.72H22.00M22.00 131.25H18.32V132.35H19.11M22.00 133.21H20.10V133.70H22.00M20.10 133.45H19.29V134.19H22.00M18.32 131.80H18.09V133.82H19.29M22.00 134.68H19.93V135.17H22.00M19.93 134.92H18.86V135.66H22.00M22.00 136.15H19.89V136.64H22.00M18.86 135.29H17.95V136.39H19.89M18.09 132.81H16.91V135.84H17.95M22.00 137.13H19.93V137.62H22.00M19.93 137.38H18.91V138.11H22.00M18.91 137.74H18.27V138.60H22.00M22.00 139.09H20.08V139.58H22.00M20.08 139.34H19.14V140.07H22.00M22.00 140.56H19.90V141.05H22.00M19.14 139.70H17.98V140.81H19.90M22.00 141.54H19.83V142.03H22.00M19.83 141.79H19.17V142.52H22.00M17.98 140.26H17.08V142.16H19.17M18.27 138.17H16.51V141.21H17.08M16.91 134.33H15.91V139.69H16.51M17.55 127.69H15.31V137.01H15.91M15.41 118.61H15.16V132.35H15.31M14.98 103.07H13.66V125.48H15.16M22.00 143.99H20.02V144.48H22.00M22.00 143.50H19.14V144.24H20.02M22.00 143.01H18.40V143.87H19.14M22.00 145.47H19.71V145.96H22.00M22.00 144.97H19.33V145.71H19.71M18.40 143.44H18.09V145.34H19.33M18.09 144.39H17.19V146.45H22.00M22.00 146.94H19.83V147.43H22.00M19.83 147.18H19.04V147.92H22.00M19.04 147.55H18.56V148.41H22.00M17.19 145.42H16.89V147.98H18.56M22.00 148.90H20.08V149.39H22.00M16.89 146.70H16.74V149.14H20.08M22.00 149.88H19.70V150.37H22.00M22.00 150.86H20.08V151.35H22.00M20.08 151.10H19.09V151.84H22.00M22.00 152.33H19.98V152.82H22.00M22.00 153.31H19.86V153.80H22.00M19.98 152.57H18.50V153.56H19.86M22.00 154.78H20.10V155.27H22.00M22.00 154.29H18.95V155.03H20.10M18.50 153.06H17.72V154.66H18.95M19.09 151.47H17.13V153.86H17.72M19.70 150.12H16.55V152.67H17.13M16.74 147.92H15.67V151.39H16.55M22.00 155.76H19.71V156.25H22.00M22.00 156.74H20.09V157.23H22.00M19.71 156.01H18.38V156.99H20.09M22.00 158.21H19.90V158.70H22.00M22.00 157.72H18.83V158.46H19.90M22.00 159.19H19.75V159.68H22.00M19.75 159.44H19.10V160.17H22.00M22.00 160.66H20.06V161.16H22.00M19.10 159.81H17.84V160.91H20.06M22.00 162.14H20.05V162.63H22.00M22.00 163.12H19.81V163.61H22.00M20.05 162.38H18.89V163.36H19.81M22.00 161.65H18.23V162.87H18.89M17.84 160.36H17.37V162.26H18.23M18.83 158.09H17.03V161.31H17.37M18.38 156.50H16.88V159.70H17.03M15.67 149.66H15.33V158.10H16.88M22.00 165.08H19.99V165.57H22.00M22.00 164.59H19.01V165.32H19.99M19.01 164.96H18.55V166.06H22.00M22.00 164.10H18.40V165.51H18.55M22.00 166.55H19.83V167.04H22.00M19.83 166.79H19.04V167.53H22.00M18.40 164.80H17.22V167.16H19.04M22.00 168.02H20.03V168.51H22.00M17.22 165.98H17.07V168.26H20.03M22.00 169.49H20.08V169.98H22.00M22.00 169.00H18.85V169.74H20.08M18.85 169.37H18.22V170.47H22.00M17.07 167.12H16.71V169.92H18.22M22.00 171.45H19.83V171.94H22.00M19.83 171.70H19.03V172.43H22.00M22.00 170.96H18.88V172.06H19.03M22.00 173.41H19.96V173.90H22.00M22.00 172.92H19.10V173.66H19.96M18.88 171.51H18.01V173.29H19.10M22.00 174.88H20.02V175.37H22.00M20.02 175.13H19.01V175.86H22.00M19.01 175.50H18.84V176.35H22.00M22.00 174.39H17.92V175.93H18.84M18.01 172.40H16.92V175.16H17.92M16.71 168.52H16.07V173.78H16.92M15.33 153.88H13.80V171.15H16.07M13.66 114.28H12.83V162.51H13.80M13.47 66.18H12.20V138.40H12.83" stroke="#0a0a0a" stroke-width="0.85" fill="none"/>
<rect x="18.5" y="19.7" width="3.5" height="156.9" fill="#111"/>
<defs><linearGradient id="hmcb" x1="0" y1="0" x2="0" y2="1"><stop offset="0" stop-color="#cd2626"/><stop offset="0.5" stop-color="#f8f8fa"/><stop offset="1" stop-color="#28328c"/></linearGradient></defs>
<rect x="129.6" y="22" width="2.3" height="41" fill="url(#hmcb)"/>
<text x="133.6" y="27.97" font-size="6.85">2</text>
<text x="133.6" y="45.67" font-size="6.85">0</text>
<text x="132" y="63.07" font-size="6.85">-2</text>
<text x="138.9" y="21.27" font-size="6.85">Group</text>
<rect x="138.9" y="23.2" width="9" height="8.4" fill="#5cb25c"/>
<rect x="138.9" y="31.6" width="9" height="8.4" fill="#d97b7b"/>
<rect x="138.9" y="40" width="9" height="8.8" fill="#82a9d0"/>
<text x="149.2" y="29.87" font-size="6.85">A549-Control</text>
<text x="149.2" y="38.27" font-size="6.85">A549-LMs</text>
<text x="149.2" y="46.87" font-size="6.85">A549-SKA3 knockdown</text>
<text x="75" y="184.77" font-size="6.85" text-anchor="middle">Total-Heatmap</text>
<text x="198.8" y="6.3" font-size="8.3" font-weight="bold" style="fill:#000;stroke:#000">B</text>
<text x="322.3" y="25.87" font-size="6.85" text-anchor="middle">A549-Control VS A549-LMs</text>
<defs><clipPath id="clip3"><rect x="245.5" y="31.2" width="149.1" height="133"/></clipPath></defs>
<g clip-path="url(#clip3)">
<line x1="319.7" y1="31.2" x2="319.7" y2="164.2" stroke="#999" stroke-width="0.6" stroke-dasharray="1.2 1.2"/>
<line x1="245.5" y1="147.19" x2="394.6" y2="147.19" stroke="#999" stroke-width="0.6" stroke-dasharray="1.2 1.2"/>
<path d="M304.2 149.7h0M345.3 152.4h0M328.6 148.3h0M299.4 149.8h0M325.4 150.5h0M322.2 153.7h0M327.9 151.8h0M312.1 154.0h0M297.9 149.9h0M322.6 150.8h0M295.8 148.1h0M332.5 151.0h0M350.3 151.4h0M307.8 148.9h0M321.6 155.2h0M341.0 153.0h0M340.2 150.0h0M291.6 147.3h0M336.8 147.3h0M304.4 151.7h0M325.0 148.1h0M288.0 149.5h0M339.2 147.5h0M299.9 147.6h0M340.4 151.5h0M297.0 152.7h0M310.0 154.9h0M306.6 149.8h0M315.7 150.9h0M301.1 149.9h0M350.1 147.8h0M328.5 153.5h0M313.9 154.1h0M319.8 157.1h0M320.5 155.8h0M339.3 150.0h0M318.3 151.5h0M339.4 149.2h0M299.3 148.6h0M335.0 148.9h0M313.0 151.8h0M313.1 151.7h0M312.5 154.5h0M335.3 148.8h0M350.1 149.0h0M342.8 150.1h0M321.6 148.7h0M287.1 148.2h0M335.6 152.0h0M324.8 148.9h0M319.7 149.1h0M300.2 150.1h0M329.5 150.7h0M320.6 147.5h0M302.4 152.1h0M335.5 153.0h0M323.0 152.6h0M337.9 150.4h0M332.9 150.0h0M296.3 148.0h0M339.6 149.1h0M316.9 151.0h0M322.5 148.1h0M352.6 151.0h0M298.9 150.1h0M311.7 153.2h0M329.5 149.2h0M303.1 150.9h0M310.4 149.8h0M310.3 152.3h0M290.1 150.9h0M323.0 155.5h0M332.5 150.6h0M321.6 156.4h0M300.4 149.8h0M347.0 148.4h0M320.3 156.1h0M296.6 151.0h0M293.1 148.3h0M331.9 148.3h0M313.1 151.3h0M311.1 152.8h0M292.1 153.5h0M337.5 150.8h0M299.9 152.0h0M321.6 149.6h0M295.0 149.1h0M315.3 152.2h0M314.9 147.8h0M332.8 151.8h0M338.7 150.4h0M323.0 148.8h0M330.0 152.1h0M331.4 149.7h0M280.0 147.8h0M293.7 147.8h0M337.4 150.2h0M339.5 150.2h0M343.3 147.7h0M328.4 150.5h0M333.7 150.9h0M332.2 151.8h0M326.4 152.2h0M310.5 154.8h0M343.9 149.4h0M331.2 148.1h0M325.5 147.4h0M280.4 149.3h0M307.9 150.5h0M328.4 148.1h0M326.2 149.3h0M326.4 148.3h0M286.1 151.9h0M293.6 150.5h0M351.2 152.7h0M345.0 151.2h0M301.0 149.3h0M321.2 153.6h0M313.3 155.8h0M337.7 148.9h0M344.4 149.4h0M336.2 149.8h0M339.5 151.8h0M315.0 154.5h0M352.7 148.3h0M328.6 147.8h0M297.9 148.7h0M332.7 151.4h0M275.5 149.1h0M307.5 152.9h0M267.0 148.9h0" stroke="#b8b8b8" stroke-width="2.5" stroke-linecap="round" stroke-opacity="0.7" fill="none"/>
<path d="M304.2 151.8h0M292.7 149.9h0M340.9 149.5h0M299.9 151.4h0M274.7 148.7h0M335.2 151.0h0M328.8 151.1h0M327.2 153.2h0M299.6 153.2h0M315.1 149.5h0M289.3 151.0h0M337.5 148.4h0M322.5 157.2h0M296.1 149.0h0M329.1 152.9h0M351.5 149.8h0M309.1 153.4h0M289.3 149.0h0M334.7 152.6h0M317.6 157.2h0M294.3 148.8h0M299.8 151.0h0M300.0 151.8h0M313.3 151.4h0M280.6 147.7h0M296.1 150.4h0M304.0 150.1h0M291.5 153.4h0M320.9 157.2h0M335.0 150.5h0M305.7 153.0h0M348.7 152.2h0M345.8 153.1h0M339.0 151.8h0M321.4 153.1h0M319.4 153.5h0M281.7 148.3h0M324.4 150.0h0M326.8 150.1h0M325.6 149.4h0M345.7 149.3h0M310.3 152.6h0M276.4 148.6h0M325.3 148.8h0M311.8 148.1h0M304.4 149.9h0M343.0 147.7h0M324.8 151.8h0M306.7 148.8h0M317.8 154.5h0M285.4 150.8h0M330.9 152.3h0M339.6 147.8h0M293.5 147.7h0M303.3 149.9h0M334.6 151.5h0M326.1 153.2h0M302.7 149.0h0M318.4 151.3h0M343.4 152.4h0M281.0 153.2h0M338.3 148.9h0M308.9 151.5h0M338.6 151.0h0M334.3 153.0h0M310.4 149.7h0M301.8 148.4h0M303.5 153.5h0M300.0 152.9h0M344.5 147.4h0M324.9 155.1h0M331.9 152.1h0M307.4 150.7h0M301.2 148.9h0M297.8 147.7h0M274.4 152.4h0M331.3 147.7h0M302.7 153.1h0M307.8 153.1h0M283.9 148.4h0M312.6 147.6h0M309.6 148.3h0M329.2 147.8h0M326.7 149.4h0M337.2 149.4h0M314.5 155.8h0M313.4 150.7h0M305.8 149.1h0M319.2 147.8h0M310.2 149.3h0M274.4 147.5h0M308.2 149.4h0M324.0 156.5h0M304.0 151.8h0M314.9 151.8h0M300.3 152.3h0M290.5 149.0h0M342.6 150.5h0M308.5 151.1h0M310.7 154.2h0M342.2 148.7h0M328.7 152.1h0M325.8 147.3h0M341.3 150.8h0M306.2 149.4h0M334.8 147.5h0M344.0 148.7h0M328.9 151.3h0M310.3 148.4h0M298.1 147.3h0M338.8 152.6h0M329.4 152.3h0M295.8 148.7h0M311.8 149.8h0M345.2 153.1h0M323.4 153.9h0M325.1 149.6h0M315.0 156.3h0M291.0 153.2h0M325.8 152.6h0M341.6 150.1h0M318.9 151.7h0M333.8 150.6h0M304.1 148.7h0M305.4 153.1h0M333.0 150.2h0M319.1 154.9h0M307.1 148.7h0M340.8 152.9h0M322.9 147.4h0M335.6 150.3h0M336.0 147.3h0M338.5 148.3h0M326.6 151.4h0M348.7 150.1h0M316.6 157.4h0M355.6 145.9h0" stroke="#b8b8b8" stroke-width="2.5" stroke-linecap="round" stroke-opacity="0.7" fill="none"/>
<path d="M298.7 148.1h0M302.7 149.9h0M339.8 147.8h0M346.8 152.6h0M321.6 155.3h0M313.2 148.6h0M318.3 155.0h0M322.2 153.3h0M279.2 150.8h0M324.6 155.2h0M302.2 149.3h0M293.8 152.6h0M307.5 153.6h0M336.5 147.4h0M326.3 147.9h0M344.8 153.1h0M310.9 151.2h0M324.0 155.8h0M279.7 150.6h0M320.0 150.6h0M321.4 155.5h0M333.7 150.3h0M334.5 149.1h0M337.8 150.5h0M352.8 148.4h0M320.6 151.6h0M318.1 153.6h0M318.4 152.6h0M353.5 150.9h0M331.8 151.9h0M313.8 149.2h0M354.9 151.5h0M303.1 148.9h0M313.7 152.6h0M314.7 154.6h0M319.2 150.6h0M351.7 152.4h0M305.4 153.0h0M340.0 149.0h0M282.0 152.9h0M290.6 149.6h0M315.6 153.8h0M297.1 148.5h0M315.2 150.6h0M293.7 150.4h0M308.7 148.6h0M302.6 151.8h0M350.1 149.1h0M298.0 153.4h0M347.0 147.4h0M333.4 149.0h0M341.3 151.2h0M335.5 147.9h0M310.9 149.2h0M315.2 156.0h0M302.8 150.2h0M310.8 148.5h0M297.7 150.2h0M352.7 149.1h0M298.0 150.2h0M329.3 152.7h0M309.9 154.5h0M293.4 148.6h0M314.2 148.6h0M274.9 151.2h0M288.9 150.5h0M332.1 147.5h0M328.9 152.1h0M311.6 149.1h0M347.4 152.1h0M296.8 150.0h0M276.8 150.6h0M343.8 152.7h0M314.3 154.7h0M337.3 152.2h0M297.6 149.1h0M347.9 152.2h0M354.1 148.4h0M350.0 148.6h0M316.3 155.8h0M312.8 152.7h0M297.8 153.4h0M305.0 153.3h0M319.5 156.0h0M300.5 149.5h0M330.4 148.7h0M326.5 155.3h0M329.8 154.1h0M292.9 151.5h0M297.9 148.6h0M305.9 149.6h0M290.3 147.6h0M339.6 150.2h0M340.3 151.0h0M312.9 148.1h0M300.8 152.2h0M321.1 147.5h0M294.9 152.6h0M315.6 153.9h0M298.5 151.6h0M299.3 152.2h0M334.2 149.3h0M288.9 152.5h0M304.4 147.9h0M334.2 150.4h0M313.1 150.1h0M316.7 156.0h0M297.2 147.7h0M329.9 151.4h0M319.2 153.3h0M326.5 152.0h0M296.6 151.2h0M332.5 147.5h0M328.8 147.6h0M347.1 150.3h0M321.2 155.7h0M322.2 153.2h0M301.3 150.2h0M333.4 152.3h0M333.0 150.9h0M319.1 155.6h0M336.5 150.4h0M305.9 152.2h0M313.0 149.1h0M297.0 152.3h0M313.7 149.2h0M310.6 149.9h0M324.7 148.1h0M318.9 156.3h0M334.9 151.1h0M340.3 151.6h0M309.9 154.0h0M301.4 151.7h0M301.1 150.4h0M321.5 150.1h0M336.7 148.3h0M314.6 156.0h0M321.6 156.8h0M310.1 152.3h0M297.1 148.4h0M301.3 149.7h0M307.7 148.6h0" stroke="#b8b8b8" stroke-width="2.5" stroke-linecap="round" stroke-opacity="0.7" fill="none"/>
<path d="M325.6 151.4h0M307.5 152.5h0M326.4 151.0h0M299.4 148.5h0M292.5 150.2h0M338.5 151.1h0M327.9 152.8h0M317.5 155.9h0M278.8 152.8h0M332.2 152.9h0M333.6 152.6h0M319.9 155.6h0M334.7 149.1h0M310.1 153.9h0M313.1 154.8h0M347.8 147.6h0M282.4 148.7h0M317.0 155.4h0M326.5 150.9h0M330.5 148.2h0M283.2 153.1h0M291.2 151.0h0M331.2 151.1h0M333.1 148.5h0M322.2 157.0h0M301.3 153.1h0M296.6 151.4h0M298.4 148.5h0M353.4 152.1h0M313.7 150.0h0M335.7 152.1h0M313.5 153.6h0M329.7 148.9h0M303.3 147.4h0M317.0 154.4h0M288.7 151.9h0M333.5 152.5h0M335.8 151.4h0M306.4 152.4h0M304.4 150.2h0M323.7 150.1h0M276.3 151.5h0M313.1 148.0h0M336.5 149.5h0M322.9 154.0h0M321.6 155.1h0M286.1 148.3h0M340.6 151.7h0M306.5 149.7h0M318.2 154.3h0M300.0 148.7h0M291.8 151.4h0M341.5 148.5h0M319.7 158.3h0M321.1 153.2h0M335.7 148.2h0M304.2 149.8h0M320.5 150.9h0M316.8 148.0h0M321.1 154.4h0M324.6 153.1h0M308.7 154.3h0M307.3 153.8h0M322.2 147.9h0M350.1 152.2h0M338.2 149.0h0M331.8 148.9h0M286.8 147.5h0M325.1 153.4h0M321.3 151.1h0M294.3 150.8h0M302.0 152.2h0M331.5 149.3h0M284.7 150.3h0M320.6 147.3h0M343.1 151.6h0M347.4 151.9h0M327.0 153.5h0M329.8 149.4h0M330.6 148.1h0M341.1 152.7h0M337.1 148.7h0M322.0 154.9h0M347.3 149.5h0M320.2 151.7h0M305.5 154.1h0M315.7 153.1h0M330.8 150.4h0M331.2 150.8h0M330.0 152.5h0M299.5 151.7h0M342.7 148.7h0M312.5 155.8h0M289.6 153.4h0M331.8 149.5h0M335.0 150.0h0M333.4 152.1h0M322.5 153.3h0M292.0 147.7h0M327.5 150.6h0M309.8 153.4h0M327.7 154.8h0M307.6 151.2h0M305.2 152.4h0M318.2 148.0h0M331.8 152.0h0M341.8 152.4h0M334.9 150.7h0M302.5 153.4h0M327.2 155.0h0M332.7 150.5h0M352.5 150.7h0M319.8 152.5h0M308.8 153.2h0M321.2 154.0h0M335.4 153.1h0M322.0 148.3h0M332.5 152.5h0M306.8 153.5h0M298.1 148.8h0M299.2 151.6h0M330.6 151.9h0M315.8 156.4h0M308.5 147.6h0M307.6 148.4h0M308.9 152.3h0M326.8 154.5h0M326.9 150.1h0M318.3 156.1h0M321.4 152.2h0M319.9 151.4h0M311.3 151.3h0M328.0 149.6h0M312.4 149.3h0M314.5 148.7h0M317.8 147.8h0M275.3 147.9h0M302.5 150.6h0M283.8 150.0h0M323.4 151.0h0M332.8 150.3h0M336.4 152.6h0M322.8 155.8h0M287.3 151.0h0M292.1 150.8h0M308.9 153.2h0M325.6 147.8h0M299.9 152.1h0M323.1 156.6h0M317.0 155.8h0M321.6 153.5h0M330.7 147.8h0M298.0 151.4h0M317.9 157.7h0M295.1 149.9h0M318.4 156.0h0M351.2 150.7h0M318.1 151.6h0M319.3 149.5h0M326.6 148.5h0M341.9 151.3h0M334.9 147.5h0M289.9 150.6h0M337.8 150.0h0M305.7 147.5h0M306.3 153.2h0M277.8 149.2h0M299.5 151.3h0M341.5 148.8h0M319.9 153.3h0M320.0 151.3h0M309.3 151.7h0M316.8 155.3h0M302.2 150.4h0M301.2 150.3h0M330.7 149.8h0M285.3 147.6h0M327.7 151.6h0M277.0 147.3h0M285.1 149.9h0M303.9 150.7h0M338.0 149.4h0M284.7 148.8h0M330.0 147.8h0M330.2 151.4h0M307.4 148.9h0M319.5 156.2h0M311.3 148.1h0M318.9 155.0h0M324.2 148.3h0M338.2 149.9h0M305.1 151.2h0M333.0 151.5h0M324.7 147.5h0M343.1 151.2h0M299.7 148.6h0M343.7 147.6h0M351.8 150.1h0M350.8 144.6h0" stroke="#b8b8b8" stroke-width="3.0" stroke-linecap="round" stroke-opacity="0.7" fill="none"/>
<path d="M295.3 147.3h0M328.6 149.1h0M325.0 151.7h0M344.8 149.5h0M323.7 156.3h0M309.2 153.3h0M329.2 149.4h0M330.7 151.8h0M308.3 147.9h0M317.6 156.9h0M313.1 152.1h0M343.3 152.1h0M309.6 153.6h0M326.5 154.1h0M322.9 157.0h0M346.4 148.5h0M334.1 148.4h0M330.8 151.1h0M276.6 152.5h0M292.0 150.6h0M349.7 151.7h0M288.1 153.3h0M350.8 151.4h0M308.2 150.3h0M324.1 149.5h0M333.2 151.1h0M316.8 153.8h0M309.3 154.8h0M307.8 153.5h0M304.3 147.9h0M345.0 147.5h0M318.0 156.3h0M321.6 155.3h0M317.5 149.1h0M309.6 147.4h0M316.6 156.5h0M301.8 152.2h0M306.2 150.1h0M329.7 148.6h0M317.9 153.1h0M334.8 153.1h0M350.4 147.6h0M288.1 150.3h0M320.3 149.8h0M299.0 151.7h0M328.8 147.6h0M295.1 149.5h0M282.3 150.4h0M292.1 152.4h0M326.5 148.0h0M347.1 151.4h0M313.6 152.5h0M304.7 151.4h0M295.4 150.2h0M297.1 152.6h0M342.9 150.3h0M302.1 150.1h0M330.8 147.4h0M295.8 150.9h0M304.9 151.0h0M316.6 151.4h0M343.2 148.5h0M336.6 150.0h0M290.5 148.8h0M308.2 154.2h0M286.9 149.2h0M323.6 152.3h0M289.5 150.6h0M282.8 149.2h0M326.8 151.5h0M301.9 148.1h0M284.6 148.0h0M323.1 152.4h0M309.9 154.6h0M304.5 153.6h0M314.9 154.5h0M343.5 151.9h0M309.9 150.5h0M327.0 153.0h0M335.1 152.8h0M318.2 149.1h0M353.4 152.8h0M312.4 150.1h0M305.5 150.8h0M325.1 151.4h0M315.4 155.1h0M304.1 153.4h0M302.6 151.0h0M322.5 151.6h0M320.3 156.1h0M292.8 151.7h0M327.4 149.9h0M335.6 148.8h0M299.9 150.0h0M322.8 147.9h0M294.9 148.9h0M321.3 150.1h0M315.0 151.5h0M312.4 154.5h0M336.1 147.4h0M293.3 149.9h0M331.7 147.3h0M303.1 152.3h0M339.9 149.4h0M320.2 155.2h0M304.3 147.6h0M293.9 151.2h0M305.2 151.8h0M309.4 149.3h0M326.6 149.3h0M306.5 152.8h0M292.8 147.7h0M343.5 149.1h0M347.3 149.9h0M326.7 148.9h0M308.8 153.0h0M286.9 149.6h0M335.6 149.5h0M324.2 155.0h0M307.8 154.6h0M331.7 151.5h0M328.4 147.7h0M312.9 147.7h0M317.5 148.9h0M331.8 149.1h0M339.7 148.6h0M311.5 155.3h0M286.5 149.0h0M338.8 149.7h0M354.9 149.0h0M302.4 152.3h0M327.6 147.4h0M319.9 150.2h0M284.0 149.3h0M341.7 148.6h0M293.3 153.6h0M334.8 153.1h0M328.8 151.5h0M296.2 153.6h0M302.5 147.6h0M300.2 148.8h0M345.5 152.9h0M283.2 153.0h0M316.4 147.8h0M323.7 154.8h0M284.3 152.2h0M332.2 150.3h0M311.4 151.1h0M297.3 152.7h0M279.2 153.4h0M297.0 149.1h0M336.1 151.1h0M307.0 149.4h0M308.4 148.8h0M314.8 152.5h0M300.6 148.2h0M320.5 148.9h0M330.1 151.9h0M351.3 149.8h0M320.0 156.2h0M314.8 154.5h0M310.2 150.8h0M298.9 151.1h0M323.4 156.3h0M285.5 149.3h0M326.4 150.6h0M309.6 148.9h0M309.0 147.4h0M325.2 151.8h0M317.4 154.9h0M333.8 149.7h0M307.6 148.1h0M334.4 150.5h0M316.2 153.7h0M315.2 151.7h0M300.8 151.8h0M320.0 153.3h0M328.0 149.9h0M294.3 150.5h0M320.3 148.8h0M339.1 151.9h0M324.1 149.2h0M345.1 151.2h0M286.9 154.5h0" stroke="#b8b8b8" stroke-width="3.0" stroke-linecap="round" stroke-opacity="0.7" fill="none"/>
<path d="M341.9 149.4h0M297.4 148.2h0M332.4 148.0h0M346.8 150.5h0M318.6 153.5h0M276.1 149.3h0M336.7 149.8h0M341.7 148.1h0M339.5 152.4h0M312.9 153.1h0M308.5 149.0h0M321.7 155.5h0M309.2 151.3h0M281.8 148.0h0M332.1 148.8h0M302.6 153.1h0M299.7 149.0h0M317.7 152.5h0M335.3 148.8h0M301.2 150.2h0M327.8 151.0h0M293.2 150.2h0M299.0 148.8h0M347.1 147.4h0M349.3 148.8h0M331.7 150.5h0M326.2 148.3h0M317.6 155.8h0M302.3 150.8h0M333.7 149.3h0M323.8 151.6h0M316.3 156.9h0M297.4 148.0h0M308.1 154.5h0M315.4 151.6h0M318.5 154.2h0M323.8 151.3h0M290.5 150.3h0M328.8 153.6h0M310.1 148.6h0M300.4 151.2h0M331.8 151.6h0M341.6 151.6h0M312.2 151.3h0M290.8 150.9h0M341.6 150.8h0M310.1 149.0h0M287.8 150.2h0M309.4 147.6h0M334.1 148.8h0M327.8 151.0h0M355.1 151.0h0M289.8 148.9h0M331.8 151.1h0M290.7 153.2h0M301.8 153.3h0M326.2 154.8h0M347.0 149.7h0M299.9 147.4h0M347.4 151.5h0M344.7 152.2h0M313.3 154.9h0M327.9 153.4h0M352.7 149.7h0M309.7 151.1h0M322.3 147.7h0M324.2 151.7h0M317.7 157.6h0M299.0 152.5h0M335.7 152.0h0M316.1 147.5h0M326.8 147.4h0M321.5 151.2h0M307.9 154.4h0M312.3 153.5h0M324.0 151.7h0M287.5 151.2h0M323.8 147.9h0M304.5 151.5h0M347.2 151.4h0M346.9 150.7h0M329.6 148.4h0M322.0 148.7h0M296.7 149.8h0M304.7 151.7h0M349.5 148.6h0M331.8 147.8h0M325.4 148.9h0M345.2 148.8h0M318.8 148.8h0M326.9 147.9h0M312.3 155.4h0M351.7 152.1h0M324.8 152.2h0M330.1 149.7h0M301.9 151.2h0M353.9 151.4h0M312.3 151.2h0M313.8 156.0h0M319.4 154.3h0M314.4 149.4h0M309.6 152.0h0M301.3 148.4h0M295.6 148.8h0M334.7 149.1h0M310.4 151.5h0M319.6 154.9h0M333.7 149.2h0M336.3 149.5h0M297.7 150.9h0M289.1 147.4h0M325.7 151.0h0M302.5 150.2h0M318.5 149.5h0M330.0 151.0h0M301.0 153.3h0M293.6 151.3h0M306.2 153.4h0M334.7 152.7h0M331.3 151.6h0M338.8 151.3h0M344.2 149.4h0M332.9 148.1h0M337.5 148.3h0M324.3 156.4h0M291.0 148.1h0M331.9 148.4h0M299.9 151.3h0M316.4 152.4h0M315.5 152.4h0M322.2 155.1h0M317.5 155.6h0M314.0 147.8h0M295.0 150.3h0M344.4 149.3h0M333.3 148.9h0M313.7 148.3h0M332.3 149.8h0M290.0 149.4h0M348.9 150.5h0M330.9 148.8h0M302.4 150.5h0M322.6 148.6h0M303.4 152.2h0M300.8 148.1h0M321.3 157.1h0M321.4 152.8h0M350.2 149.1h0M331.0 152.3h0M327.2 154.9h0M296.1 150.4h0M347.0 149.2h0M347.5 149.5h0M314.0 155.3h0M327.8 151.2h0M288.2 152.5h0M305.1 151.6h0M291.2 151.5h0M308.0 150.5h0M315.7 152.4h0M296.2 149.2h0M314.9 155.0h0M307.6 152.5h0M329.9 150.6h0M309.5 151.0h0M353.1 151.0h0M324.8 148.1h0M348.3 149.9h0M313.5 155.1h0M314.5 156.1h0M342.6 147.3h0M308.3 152.0h0M276.8 147.3h0M314.5 147.6h0M299.5 151.4h0M333.2 148.3h0M323.8 155.3h0M321.7 155.2h0M304.3 150.3h0M323.7 149.7h0M300.0 153.0h0M324.3 155.7h0M294.3 151.9h0M323.1 153.0h0M333.7 149.7h0M261.4 149.8h0M353.8 150.6h0M280.0 153.6h0" stroke="#b8b8b8" stroke-width="3.0" stroke-linecap="round" stroke-opacity="0.7" fill="none"/>
<path d="M308.3 151.4h0M328.8 147.6h0M332.4 149.9h0M329.8 148.3h0M331.8 150.6h0M322.4 148.8h0M297.2 150.2h0M312.7 153.7h0M294.0 147.7h0M320.7 154.1h0M306.6 152.1h0M319.2 151.1h0M340.5 153.0h0M319.6 154.2h0M343.4 152.8h0M330.6 153.5h0M296.4 153.3h0M321.7 149.9h0M317.1 150.3h0M318.1 150.5h0M308.5 154.9h0M281.8 151.5h0M336.6 149.3h0M316.2 148.2h0M350.4 148.1h0M326.4 148.9h0M320.4 151.8h0M322.2 154.5h0M299.1 148.1h0M331.7 151.8h0M314.1 147.7h0M291.0 150.9h0M309.0 152.6h0M323.8 154.6h0M298.7 150.1h0M346.6 151.6h0M310.4 147.4h0M308.9 152.7h0M318.8 151.1h0" stroke="#b8b8b8" stroke-width="3.5" stroke-linecap="round" stroke-opacity="0.7" fill="none"/>
<path d="M332.0 148.3h0M289.2 148.5h0M323.8 154.3h0M304.5 148.7h0M338.9 148.6h0M299.8 149.2h0M337.5 150.4h0M287.9 152.3h0M281.2 151.4h0M324.4 149.4h0M299.8 147.7h0M294.6 150.0h0M298.2 147.7h0M311.1 153.3h0M312.5 152.7h0M311.6 147.5h0M313.3 153.6h0M315.1 156.1h0M304.5 150.0h0M301.3 150.8h0M322.6 149.6h0M304.5 148.5h0M296.0 150.4h0M318.2 153.9h0M320.3 154.5h0M338.5 152.8h0M342.0 151.5h0M324.7 148.1h0M338.4 149.7h0M325.2 154.7h0M341.3 149.1h0M305.3 153.8h0M317.9 152.2h0M299.0 148.4h0M301.5 153.2h0M344.1 150.5h0M301.0 150.2h0M331.3 149.7h0M311.1 154.1h0M287.7 152.6h0M309.0 151.6h0M309.1 152.1h0M311.7 151.4h0M312.5 152.2h0M338.8 148.5h0M348.2 149.6h0M300.5 149.3h0M322.0 152.4h0" stroke="#b8b8b8" stroke-width="3.5" stroke-linecap="round" stroke-opacity="0.7" fill="none"/>
<path d="M349.3 148.8h0M327.8 148.9h0M327.3 147.8h0M319.0 151.2h0M343.9 148.7h0M337.6 150.5h0M305.2 151.4h0M353.5 151.1h0M329.5 148.1h0M313.4 149.9h0M315.1 148.7h0M322.0 149.7h0M309.8 147.4h0M353.4 151.7h0M340.8 151.2h0M317.0 149.1h0M332.9 152.3h0M276.2 148.8h0M325.7 154.4h0M299.9 153.5h0M316.3 153.4h0M335.5 147.3h0M307.8 152.1h0M348.8 152.9h0M307.4 153.7h0M332.7 150.5h0M290.2 150.6h0M335.6 151.0h0M326.6 152.3h0M277.8 149.7h0M344.2 147.7h0M301.8 150.6h0M311.5 149.5h0M330.7 148.6h0M320.8 156.5h0M316.3 157.1h0M326.4 153.7h0M316.3 157.2h0M339.1 150.7h0" stroke="#b8b8b8" stroke-width="3.5" stroke-linecap="round" stroke-opacity="0.7" fill="none"/>
<path d="M317.4 145.0h0M309.2 138.9h0M304.3 129.4h0M300.3 139.1h0M315.0 131.9h0M312.1 122.7h0M299.4 140.3h0M302.4 139.8h0M278.7 143.3h0M306.0 145.9h0M299.6 138.0h0M290.2 141.5h0M297.2 144.6h0M296.5 142.9h0M307.8 138.1h0M314.8 145.5h0M318.6 141.0h0M306.6 133.9h0M318.1 137.7h0M288.3 144.0h0M286.3 146.5h0M309.4 136.0h0M295.5 137.2h0M296.6 141.8h0M308.3 135.7h0M310.4 132.0h0M278.0 144.7h0M316.2 139.1h0M308.8 137.3h0M312.2 129.7h0M313.4 133.2h0M315.3 122.7h0M290.9 139.8h0M282.8 140.7h0M304.1 145.8h0M290.2 145.9h0M310.5 124.3h0M298.9 133.6h0M294.9 136.5h0M280.2 141.5h0M290.6 145.6h0M313.1 134.1h0M308.2 142.5h0M315.7 125.3h0M295.1 136.2h0M290.2 146.0h0M305.6 142.2h0M310.7 146.6h0M289.2 145.3h0M314.2 126.2h0M299.2 134.1h0M311.3 129.6h0M286.9 144.3h0M311.4 141.1h0M296.8 140.7h0M315.4 138.6h0M319.0 144.7h0M301.9 134.6h0M315.9 134.0h0M315.7 145.3h0M274.6 146.5h0M276.4 146.3h0M290.3 144.4h0M305.7 139.6h0M298.5 140.5h0M291.7 144.8h0M292.8 138.9h0M291.6 143.0h0M299.2 137.5h0M311.8 142.0h0M309.9 128.0h0M281.5 143.8h0M310.3 133.7h0M305.7 128.9h0M308.1 142.7h0M291.5 137.0h0M289.2 143.7h0M287.3 140.7h0M311.8 137.6h0M305.7 145.6h0M301.8 142.7h0M280.4 136.9h0M269.6 146.3h0" stroke="#6b93cc" stroke-width="3.0" stroke-linecap="round" stroke-opacity="0.7" fill="none"/>
<path d="M307.0 132.3h0M285.2 142.4h0M303.1 130.8h0M283.9 144.3h0M276.7 145.4h0M317.9 137.0h0M288.1 144.7h0M297.8 137.3h0M276.6 146.0h0M288.3 139.4h0M290.1 137.2h0M289.9 141.8h0M306.8 143.2h0M303.1 132.2h0M316.0 132.8h0M304.1 131.0h0M303.0 130.9h0M312.2 144.6h0M280.7 146.7h0M297.5 141.6h0M295.2 146.1h0M309.9 139.3h0M295.3 142.5h0M306.0 134.4h0M301.8 137.1h0M293.8 147.0h0M316.3 129.8h0M318.9 138.2h0M308.1 134.5h0M302.4 143.1h0M299.6 138.8h0M292.7 138.9h0M299.4 147.0h0M315.4 126.1h0M306.1 128.1h0M302.8 133.8h0M290.3 146.5h0M278.2 143.8h0M317.1 123.5h0M297.0 144.2h0M290.2 136.7h0M307.3 140.5h0M306.9 142.5h0M305.3 131.8h0M291.7 138.1h0M303.6 136.9h0M287.5 138.4h0M293.0 143.5h0M318.6 137.1h0M310.5 126.6h0M303.9 134.5h0M318.1 128.1h0M298.5 145.6h0M308.6 142.9h0M294.8 140.4h0M299.6 139.2h0M317.3 127.7h0M295.6 134.1h0M306.3 132.2h0M317.1 137.0h0M291.8 137.9h0M297.6 144.5h0M302.5 142.8h0M303.2 146.4h0M275.0 145.0h0M316.9 126.2h0M291.4 136.8h0M296.8 133.2h0M314.9 137.9h0M299.5 132.9h0M314.3 137.7h0M318.9 139.2h0M307.0 127.7h0M318.1 144.6h0M311.3 128.5h0M282.1 142.2h0M315.2 139.3h0M315.5 144.1h0M318.4 134.5h0M283.9 139.8h0M275.6 144.6h0" stroke="#6b93cc" stroke-width="3.0" stroke-linecap="round" stroke-opacity="0.7" fill="none"/>
<path d="M311.2 139.7h0M282.2 145.8h0M278.0 146.6h0M302.3 130.7h0M303.1 140.4h0M298.0 136.1h0M302.8 136.9h0M318.0 134.4h0M287.2 146.6h0M312.1 138.9h0M303.5 135.2h0M284.2 140.7h0M283.4 144.4h0M311.4 133.9h0M292.9 145.1h0M310.7 132.2h0M276.9 146.9h0M318.5 124.0h0M298.6 137.5h0M305.1 144.0h0M306.3 146.0h0M304.1 131.2h0M278.6 146.5h0M314.9 127.4h0M291.6 141.9h0M309.0 137.5h0M309.8 130.8h0M307.9 138.7h0M314.6 135.5h0M285.1 138.9h0M302.3 133.5h0M274.9 147.0h0M316.7 127.7h0M301.3 139.3h0M311.4 141.6h0M293.5 136.2h0M288.1 140.6h0M301.6 133.8h0M299.6 141.6h0M291.3 141.2h0M304.9 138.0h0M305.9 138.2h0M289.5 141.0h0M305.8 133.4h0M287.2 145.1h0M297.6 142.1h0M274.8 145.7h0M316.2 134.2h0M296.9 143.8h0M316.7 140.2h0M292.7 143.4h0M279.9 145.2h0M295.2 137.5h0M304.1 138.0h0M306.9 143.7h0M298.0 142.6h0M294.6 138.0h0M314.5 137.9h0M315.1 146.9h0M282.7 141.1h0M310.8 134.1h0M307.2 145.0h0M313.1 130.4h0M302.6 136.6h0M287.6 140.0h0M317.0 141.3h0M317.8 125.3h0M311.4 124.4h0M283.7 142.2h0M300.4 131.4h0M307.1 132.9h0M285.1 142.0h0M282.0 141.1h0M316.5 145.3h0M277.2 145.5h0M296.4 144.8h0M305.1 143.1h0M303.1 132.7h0M309.4 135.0h0M319.0 129.9h0M302.9 138.7h0M292.4 139.2h0M311.1 144.2h0M303.3 139.3h0M287.1 144.8h0M293.7 140.0h0M285.5 144.2h0" stroke="#6b93cc" stroke-width="3.0" stroke-linecap="round" stroke-opacity="0.7" fill="none"/>
<path d="M294.1 138.2h0M312.7 133.6h0M308.2 142.2h0M301.5 137.4h0M307.6 144.6h0M278.3 144.3h0M316.4 142.6h0M296.5 142.0h0M276.5 144.2h0M297.5 144.1h0M307.7 143.4h0M286.7 145.6h0M301.5 135.7h0M306.4 132.4h0M316.7 142.1h0M288.3 140.9h0M300.2 145.9h0M309.7 125.9h0M310.7 125.5h0M294.0 141.7h0M310.8 122.7h0M310.6 143.7h0M311.2 146.5h0M282.3 144.5h0M313.4 135.6h0M301.1 143.8h0M306.6 138.9h0M318.3 136.7h0M308.3 130.1h0M289.4 143.2h0M309.4 133.5h0M314.7 138.5h0M310.5 142.0h0M287.5 145.2h0M311.2 139.1h0M293.9 138.7h0M311.3 122.9h0M303.7 142.2h0M310.2 130.6h0M276.1 144.3h0M282.4 144.4h0M292.7 135.6h0M306.2 137.8h0M280.7 145.3h0M302.7 136.7h0M304.9 133.3h0M277.1 143.4h0M287.1 139.0h0M288.9 138.7h0M296.0 142.6h0M296.2 144.8h0M291.2 140.3h0M314.8 144.7h0M309.7 124.4h0M290.5 144.0h0M282.5 143.2h0M315.8 135.8h0M296.3 137.3h0M312.2 140.3h0M313.4 133.2h0M276.5 145.5h0M314.4 121.3h0M280.3 143.2h0M317.9 130.0h0M277.0 146.0h0M312.4 137.5h0M294.7 136.0h0M315.4 138.1h0M285.6 146.4h0M286.5 138.5h0M310.0 134.1h0M316.0 144.7h0M289.4 137.3h0M296.3 133.7h0M316.0 127.0h0M311.2 122.6h0M297.2 137.1h0M279.3 143.7h0M315.2 132.7h0M295.2 139.2h0M316.4 142.1h0M308.9 138.3h0M290.0 142.9h0M309.5 146.8h0M304.1 139.1h0M304.9 129.9h0M294.7 135.5h0M315.5 144.6h0M292.6 141.9h0M308.5 133.2h0M300.6 141.7h0M316.1 124.1h0M288.6 144.5h0M314.0 124.7h0M309.0 125.7h0M303.9 132.2h0M304.6 134.8h0M299.7 133.2h0M309.1 125.5h0M305.9 140.3h0M280.6 141.8h0M302.6 134.3h0M313.9 124.4h0M304.8 133.6h0M299.6 147.0h0M276.6 144.3h0M300.1 140.8h0M303.9 137.6h0M306.9 130.0h0M299.9 140.2h0M254.5 144.6h0M266.6 131.8h0M268.7 141.2h0M290.8 133.5h0M306.7 122.4h0M311.5 113.0h0M308.5 112.1h0M302.4 125.0h0" stroke="#6b93cc" stroke-width="3.5" stroke-linecap="round" stroke-opacity="0.7" fill="none"/>
<path d="M282.0 146.5h0M293.0 145.1h0M313.8 145.9h0M294.6 136.2h0M300.9 146.4h0M303.5 143.3h0M316.3 128.6h0M307.6 138.2h0M300.8 136.0h0M315.4 137.8h0M312.5 130.5h0M310.7 132.5h0M299.1 139.6h0M303.0 143.4h0M305.7 131.4h0M280.3 143.8h0M296.2 141.9h0M299.3 138.3h0M301.4 132.1h0M285.4 141.8h0M294.4 140.0h0M276.4 147.0h0M296.7 138.2h0M318.6 143.1h0M303.7 140.6h0M309.4 137.8h0M291.8 143.4h0M306.5 143.4h0M302.9 135.4h0M303.0 137.6h0M311.6 127.9h0M300.0 141.0h0M307.0 138.6h0M295.1 135.8h0M306.5 141.6h0M282.6 141.4h0M318.7 124.3h0M313.5 126.3h0M299.6 144.2h0M301.6 136.4h0M306.1 138.4h0M289.8 141.1h0M303.1 142.2h0M298.0 133.2h0M315.4 133.2h0M306.1 143.7h0M292.5 144.0h0M309.9 139.2h0M286.5 145.9h0M310.6 144.1h0M315.2 127.8h0M289.0 146.2h0M309.3 128.1h0M290.9 142.2h0M319.0 144.9h0M299.5 145.2h0M301.9 133.9h0M308.9 139.1h0M309.6 129.5h0M283.6 141.1h0M316.9 142.2h0M288.6 137.8h0M312.3 135.8h0M309.6 145.7h0M318.3 131.5h0M312.5 146.1h0M296.3 145.5h0M276.4 144.3h0M303.9 146.7h0M308.7 128.6h0M289.2 139.4h0M285.3 142.0h0M300.5 144.1h0M307.9 128.6h0M303.5 139.1h0M277.5 143.6h0M309.7 124.9h0M291.9 142.4h0M299.5 142.3h0M315.7 138.7h0M316.9 137.2h0M284.4 143.4h0M286.9 142.2h0M296.4 135.5h0M305.0 143.7h0M276.5 143.7h0M293.8 141.5h0M278.3 142.6h0M295.3 141.4h0M300.2 136.1h0M309.2 141.3h0M318.1 133.4h0M317.0 145.7h0M280.4 146.3h0M298.9 143.2h0M311.5 132.2h0M284.1 145.6h0M285.7 141.1h0M299.5 143.1h0M307.2 134.0h0M287.5 141.2h0M302.2 137.0h0M306.5 131.1h0M316.9 146.3h0M295.2 137.5h0M284.3 141.2h0M306.4 140.2h0M318.7 137.7h0M314.4 138.3h0M281.1 141.6h0M279.6 142.2h0M260.9 136.1h0M270.5 136.9h0M274.8 142.1h0M284.3 136.1h0M295.9 130.1h0M308.5 119.0h0M312.8 112.1h0M315.4 116.4h0M304.6 123.2h0" stroke="#6b93cc" stroke-width="3.5" stroke-linecap="round" stroke-opacity="0.7" fill="none"/>
<path d="M294.7 147.0h0M317.0 141.0h0M280.6 146.0h0M295.9 143.6h0M314.5 128.5h0M305.6 128.4h0M312.4 127.5h0M304.9 139.7h0M303.6 145.4h0M275.7 144.4h0M279.4 143.1h0M305.5 132.9h0M299.2 137.9h0M275.4 144.9h0M308.9 130.2h0M305.1 146.5h0M313.8 145.0h0M316.8 133.9h0M302.0 140.3h0M279.9 143.2h0M316.4 135.5h0M295.2 140.8h0M313.6 139.7h0M287.8 145.3h0M303.2 138.4h0M290.8 142.6h0M313.5 125.6h0M288.8 141.2h0M284.9 145.8h0M305.4 142.5h0M308.0 141.4h0M314.2 142.4h0M280.0 143.4h0M317.5 126.7h0M275.4 145.6h0M307.7 145.2h0M286.4 142.4h0M313.6 147.0h0M310.6 143.3h0M295.8 134.6h0M292.1 144.3h0M283.6 142.6h0M282.4 145.9h0M296.9 138.3h0M308.9 137.6h0M299.0 143.0h0M277.7 146.7h0M305.4 130.6h0M305.3 144.6h0M302.1 131.7h0M318.2 145.8h0M293.7 135.5h0M305.1 140.1h0M304.4 138.5h0M302.3 146.4h0M291.6 142.4h0M298.6 137.3h0M302.1 141.8h0M306.0 130.0h0M312.2 144.3h0M275.5 144.1h0M279.6 145.1h0M294.3 134.6h0M317.8 137.7h0M305.7 144.1h0M303.7 131.2h0M311.8 127.6h0M301.4 136.8h0M303.4 142.3h0M305.9 142.2h0M301.1 141.4h0M303.0 130.9h0M292.0 145.0h0M305.5 145.6h0M311.8 124.2h0M275.9 144.6h0M294.4 143.5h0M312.2 146.3h0M315.2 140.5h0M305.3 141.0h0M295.4 139.7h0M290.1 140.0h0M280.1 143.3h0M288.4 142.1h0M314.2 136.1h0M281.4 146.6h0M292.1 145.5h0M292.8 139.1h0M303.7 129.6h0M278.0 145.5h0M307.9 139.0h0M302.7 136.4h0M315.3 134.8h0M287.9 138.2h0M306.4 129.9h0M313.2 146.7h0M316.5 144.9h0M308.8 136.3h0M316.4 121.8h0M315.5 143.8h0M293.8 138.8h0M318.1 137.0h0M318.4 130.6h0M292.8 144.1h0M279.4 146.7h0M252.7 143.8h0M262.7 136.1h0M272.6 136.1h0M277.4 138.6h0M286.9 135.2h0M299.4 127.5h0M310.2 115.6h0M314.5 107.9h0M316.2 119.0h0M292.9 130.9h0" stroke="#6b93cc" stroke-width="3.5" stroke-linecap="round" stroke-opacity="0.7" fill="none"/>
<path d="M274.6 146.6h0M297.9 142.9h0M279.5 147.0h0M293.9 142.0h0M298.2 140.2h0M312.5 142.2h0M315.0 121.0h0M294.6 139.6h0M299.3 133.2h0M304.2 139.8h0M311.0 136.5h0M294.5 140.0h0M301.2 131.3h0M288.7 142.8h0M301.6 134.0h0M301.5 139.1h0M299.9 139.1h0M291.0 137.9h0M318.2 134.7h0M296.3 137.6h0M305.1 146.5h0M280.7 146.0h0M299.4 138.6h0M318.4 129.2h0M318.5 134.1h0M316.1 137.4h0" stroke="#6b93cc" stroke-width="4.0" stroke-linecap="round" stroke-opacity="0.7" fill="none"/>
<path d="M307.9 146.0h0M292.4 143.7h0M302.0 132.9h0M306.4 136.9h0M312.4 129.9h0M279.0 144.7h0M310.5 127.9h0M300.7 143.0h0M308.9 128.3h0M291.9 142.9h0M283.5 141.2h0M305.0 133.8h0M313.3 121.6h0M301.7 130.7h0M276.9 143.7h0M311.2 145.9h0M304.4 132.4h0M304.1 140.1h0M290.6 143.4h0M302.0 136.1h0M295.7 142.6h0M277.8 144.0h0M297.4 142.7h0M310.2 136.0h0M307.1 137.8h0M299.7 146.8h0" stroke="#6b93cc" stroke-width="4.0" stroke-linecap="round" stroke-opacity="0.7" fill="none"/>
<path d="M309.2 127.7h0M292.5 144.8h0M282.1 141.7h0M304.2 139.4h0M316.7 136.2h0M316.7 141.7h0M317.2 128.5h0M317.1 143.7h0M293.4 138.6h0M303.0 137.2h0M311.6 130.1h0M274.8 145.8h0M312.8 124.6h0M309.6 135.6h0M286.4 145.5h0M292.7 147.0h0M310.8 139.2h0M315.2 133.9h0M299.5 134.5h0M314.6 121.0h0M290.3 145.5h0M317.6 141.9h0M297.5 134.4h0M318.1 133.6h0" stroke="#6b93cc" stroke-width="4.0" stroke-linecap="round" stroke-opacity="0.7" fill="none"/>
<path d="M347.6 139.8h0M334.8 121.6h0M338.4 132.4h0M347.2 92.1h0M350.4 108.6h0M333.5 138.6h0M363.7 127.1h0M327.8 122.9h0M332.5 147.0h0M361.6 131.0h0M326.4 108.9h0M345.5 140.7h0M360.3 134.9h0M333.5 85.9h0M328.9 136.2h0M334.5 131.2h0M330.6 134.1h0M333.0 96.8h0M348.3 146.1h0M323.4 144.5h0M338.1 139.7h0M334.3 115.6h0M341.4 120.0h0M335.3 139.0h0M324.1 127.6h0M338.4 99.5h0M330.8 132.8h0M323.3 144.6h0M334.7 88.0h0M350.3 133.4h0M334.1 129.3h0M337.1 109.4h0M340.2 110.6h0M362.9 131.8h0M354.0 136.6h0M323.6 136.7h0M320.9 145.2h0M327.1 102.0h0M338.8 104.2h0M336.5 109.7h0M326.6 142.2h0M337.3 75.9h0M340.3 111.0h0M346.5 131.9h0M329.0 115.3h0M346.3 112.6h0M326.0 129.9h0M332.3 129.4h0M329.7 88.5h0M322.6 130.4h0M333.6 104.8h0M330.9 119.7h0M343.4 84.2h0M334.9 83.8h0M324.9 135.2h0M339.3 85.2h0M331.4 84.5h0M324.0 122.6h0M350.5 139.6h0M342.1 113.8h0M338.4 106.0h0M323.5 133.7h0M346.2 113.6h0M363.9 127.1h0M326.3 142.1h0M339.8 111.3h0M339.8 127.3h0M331.4 113.0h0M331.1 86.1h0M343.4 112.8h0M364.3 128.0h0" stroke="#e06464" stroke-width="3.0" stroke-linecap="round" stroke-opacity="0.7" fill="none"/>
<path d="M360.3 124.3h0M345.8 143.1h0M349.6 105.1h0M350.1 127.1h0M328.6 104.4h0M333.9 133.5h0M352.4 121.0h0M323.4 125.7h0M335.6 76.8h0M335.4 76.2h0M353.1 131.5h0M330.6 117.8h0M341.3 129.3h0M333.6 140.9h0M366.3 128.3h0M334.1 125.6h0M344.4 147.0h0M336.7 111.5h0M338.3 82.2h0M331.6 92.1h0M338.5 122.5h0M354.8 112.2h0M329.1 128.9h0M326.8 106.4h0M349.9 143.0h0M334.6 80.6h0M330.7 96.2h0M341.9 145.8h0M329.7 95.4h0M332.8 140.1h0M328.4 106.8h0M322.5 132.0h0M322.0 145.7h0M349.3 101.1h0M337.4 143.1h0M332.8 110.3h0M335.1 93.7h0M322.8 143.0h0M325.1 106.7h0M330.3 124.0h0M356.1 134.7h0M322.2 127.0h0M326.4 139.9h0M331.5 88.0h0M339.5 137.1h0M330.1 108.4h0M340.8 106.9h0M327.8 95.6h0M322.3 137.7h0M338.1 141.0h0M338.4 142.1h0M325.5 105.8h0M341.2 82.9h0M358.2 123.3h0M328.6 121.6h0M335.7 130.2h0M323.5 139.1h0M339.6 85.0h0M330.2 143.6h0M332.6 80.2h0M328.4 143.7h0M333.9 104.7h0M330.8 99.9h0M328.0 93.2h0M325.2 100.8h0M341.4 119.0h0M334.9 131.1h0M335.1 96.4h0M324.8 109.1h0M354.8 120.5h0" stroke="#e06464" stroke-width="3.0" stroke-linecap="round" stroke-opacity="0.7" fill="none"/>
<path d="M321.1 144.6h0M332.6 141.2h0M338.3 80.2h0M341.1 84.4h0M343.7 111.9h0M342.4 102.3h0M359.4 123.5h0M345.4 107.7h0M350.4 121.3h0M331.7 80.0h0M343.5 126.6h0M344.5 115.3h0M349.3 127.4h0M364.1 127.6h0M335.8 99.9h0M323.8 114.0h0M352.2 110.5h0M343.8 146.7h0M343.5 143.1h0M340.7 87.1h0M332.6 92.5h0M328.4 88.9h0M342.2 115.1h0M327.3 90.8h0M336.2 108.8h0M333.8 122.2h0M330.2 84.3h0M341.4 129.0h0M336.9 138.2h0M336.3 79.5h0M323.3 133.1h0M348.7 119.4h0M341.4 121.2h0M322.4 131.0h0M332.6 131.8h0M335.7 81.4h0M327.0 108.1h0M324.7 138.8h0M337.3 84.0h0M327.5 130.5h0M328.4 134.4h0M342.0 117.7h0M333.7 113.0h0M364.2 121.9h0M337.8 88.2h0M327.6 127.2h0M334.6 87.7h0M320.6 146.8h0M327.9 115.7h0M328.7 116.2h0M322.6 137.4h0M335.5 143.4h0M341.9 93.6h0M340.2 102.4h0M334.3 96.0h0M342.2 97.9h0M322.2 135.2h0" stroke="#e06464" stroke-width="3.0" stroke-linecap="round" stroke-opacity="0.7" fill="none"/>
<path d="M358.8 111.0h0M331.3 110.6h0M326.9 126.0h0M327.8 131.6h0M334.5 120.8h0M328.5 91.2h0M337.6 101.0h0M330.9 98.6h0M357.1 135.2h0M354.4 123.2h0M328.8 114.2h0M351.0 140.9h0M336.7 107.1h0M323.0 119.2h0M333.8 112.3h0M329.4 109.2h0M339.2 93.4h0M356.7 135.6h0M344.9 118.2h0M321.9 143.7h0M321.7 144.9h0M339.0 126.4h0M336.2 138.8h0M328.1 110.6h0M328.9 104.7h0M332.5 104.6h0M326.7 147.0h0M344.6 93.0h0M323.7 140.7h0M330.1 83.3h0M331.7 128.6h0M337.3 100.2h0M327.8 112.7h0M329.9 139.5h0M346.1 118.4h0M341.4 142.9h0M343.3 108.2h0M339.6 82.3h0M342.4 92.6h0M325.7 112.6h0M329.1 102.2h0M322.4 126.7h0M336.4 141.5h0M337.8 144.7h0M332.9 141.4h0M324.7 139.3h0M354.7 119.0h0M335.9 120.1h0M360.3 115.7h0M322.3 139.1h0M337.0 122.7h0M329.3 120.3h0M330.0 122.8h0M323.0 119.6h0M326.3 140.1h0M343.2 134.6h0M346.0 140.4h0M331.8 133.8h0M329.2 123.0h0M330.0 136.6h0M334.1 122.2h0M322.7 123.0h0M348.3 138.5h0M328.7 112.1h0M332.8 127.5h0M326.3 100.4h0M326.1 124.5h0M336.3 96.8h0M334.6 108.9h0M347.6 110.3h0M338.7 112.0h0M344.5 137.9h0M332.8 94.1h0M336.3 137.8h0M339.8 118.2h0M337.0 88.0h0M343.3 99.9h0M354.2 107.4h0M336.9 133.8h0M329.2 107.0h0M336.3 83.9h0M330.5 116.9h0M336.7 124.0h0M321.6 136.2h0M334.6 121.7h0M339.3 133.2h0M337.9 119.2h0M338.1 139.3h0M354.8 118.8h0M366.4 128.9h0M335.8 89.6h0M350.1 127.5h0M335.8 130.6h0M336.6 93.1h0M343.9 125.0h0M338.7 116.0h0M326.4 142.4h0M322.1 142.0h0M330.7 87.8h0M339.9 147.0h0M342.1 83.4h0M336.4 92.9h0M351.0 122.0h0M348.0 138.0h0M329.1 98.5h0M347.9 144.4h0M338.2 139.0h0M326.0 117.0h0M362.8 117.8h0M325.0 116.3h0M341.8 89.9h0M324.0 134.5h0M346.6 145.1h0M326.5 140.8h0M327.0 99.8h0M353.7 118.7h0M342.1 119.2h0M358.4 128.0h0M329.5 130.1h0M334.7 80.5h0M341.5 105.0h0M344.5 137.1h0M322.7 124.0h0M364.7 127.2h0M337.5 110.1h0M348.8 144.9h0M335.9 133.3h0M328.0 129.6h0M344.4 89.3h0M338.7 128.9h0M331.6 112.8h0M321.4 139.2h0M359.5 120.8h0M331.5 95.8h0M343.5 122.2h0M346.9 111.8h0M337.7 96.3h0M338.6 106.0h0M344.4 104.3h0M323.2 142.1h0M322.7 122.0h0M341.8 91.8h0M327.6 126.1h0M335.1 92.1h0M330.8 121.1h0M338.0 145.2h0M322.7 126.9h0M335.0 78.9h0M339.5 112.4h0M332.9 86.3h0M354.3 109.7h0M335.9 138.9h0M347.9 101.0h0M326.4 112.6h0M335.0 147.1h0M321.8 133.9h0M332.6 131.0h0M324.4 140.6h0M355.9 136.1h0M341.2 119.2h0M323.1 124.8h0M331.6 146.5h0M340.4 108.3h0M338.6 86.4h0M328.9 137.6h0M323.2 139.6h0M329.4 124.2h0M329.7 91.4h0M364.8 127.3h0M328.9 90.6h0M328.0 108.3h0M331.9 133.6h0M340.0 91.6h0M329.7 131.9h0M339.0 116.9h0M327.6 126.2h0M334.6 143.1h0M326.9 132.1h0M339.5 131.8h0M330.0 125.0h0M326.9 117.7h0M330.8 139.8h0M351.2 140.7h0M329.5 95.9h0M330.1 120.1h0M331.7 108.4h0M361.9 115.9h0M349.8 127.0h0M364.5 128.1h0M334.5 97.8h0M334.2 137.3h0M320.7 145.7h0M340.0 114.3h0M321.3 139.9h0M328.3 97.4h0M331.8 142.7h0M357.2 109.8h0M340.2 143.1h0M341.9 123.6h0M345.5 146.6h0M332.3 83.5h0M334.8 106.8h0M327.0 116.2h0M331.9 126.6h0M331.1 141.4h0M329.4 107.3h0M330.3 85.7h0M363.9 126.0h0M342.4 98.1h0M324.9 119.6h0M324.6 117.0h0M341.1 107.3h0M351.3 132.2h0M348.8 135.5h0M337.8 124.2h0M335.9 110.3h0M334.9 114.2h0M332.2 91.0h0M365.0 126.5h0M331.3 145.4h0M352.3 105.7h0M325.0 129.3h0M339.1 95.2h0M334.6 93.2h0M324.1 111.5h0M336.4 87.7h0M327.1 109.2h0M327.8 132.1h0M321.4 145.7h0M335.6 93.5h0M328.7 94.1h0M333.0 87.5h0M342.2 97.0h0M324.9 120.9h0M321.9 139.6h0M349.3 137.4h0M341.1 123.7h0M360.4 133.5h0M337.5 87.8h0M339.7 136.1h0M331.6 118.3h0M337.5 103.2h0M336.9 129.8h0M337.7 117.1h0M328.8 126.1h0M327.6 142.3h0M325.6 125.9h0M335.2 76.9h0M333.1 77.5h0M323.3 125.1h0M348.1 106.3h0M323.7 122.7h0M331.5 76.2h0M353.6 87.0h0M346.6 80.0h0M343.0 78.4h0M333.7 72.8h0M369.0 117.6h0M375.9 100.4h0M371.4 109.9h0M366.8 114.7h0M363.5 129.4h0M365.4 99.8h0M359.4 99.7h0" stroke="#e06464" stroke-width="3.5" stroke-linecap="round" stroke-opacity="0.7" fill="none"/>
<path d="M322.0 127.2h0M338.8 128.5h0M335.4 112.7h0M329.6 94.2h0M348.0 135.6h0M345.2 146.2h0M357.6 126.8h0M339.2 89.7h0M330.8 136.7h0M331.2 93.3h0M330.5 102.5h0M349.7 123.6h0M340.7 93.4h0M338.4 100.2h0M320.9 143.3h0M336.7 100.3h0M337.4 86.3h0M324.0 146.9h0M344.9 88.4h0M321.7 133.9h0M345.6 142.8h0M334.3 134.7h0M341.9 141.5h0M329.8 114.3h0M349.7 104.6h0M342.1 95.6h0M327.7 109.1h0M333.3 130.7h0M322.0 143.2h0M326.8 98.1h0M341.6 104.6h0M331.0 121.2h0M321.5 137.4h0M331.2 144.2h0M335.4 77.9h0M341.1 139.8h0M346.1 126.1h0M327.6 144.3h0M333.1 136.8h0M331.9 82.3h0M338.0 135.5h0M354.3 134.5h0M340.9 130.0h0M321.5 135.6h0M362.4 119.3h0M331.3 111.1h0M337.0 135.3h0M339.9 92.6h0M327.0 105.7h0M335.4 109.1h0M343.4 115.6h0M333.4 110.4h0M322.1 129.3h0M336.7 77.9h0M332.6 108.2h0M340.6 139.9h0M362.5 125.0h0M332.3 95.7h0M333.4 96.1h0M321.5 135.5h0M331.8 104.9h0M327.5 128.5h0M330.3 132.4h0M363.5 126.3h0M348.9 111.6h0M325.5 120.3h0M338.9 140.5h0M340.5 94.9h0M333.3 114.1h0M330.5 111.0h0M322.2 134.2h0M335.3 139.1h0M332.9 77.9h0M327.2 114.3h0M327.1 116.7h0M335.9 80.5h0M352.5 134.0h0M334.0 124.8h0M335.6 79.1h0M349.0 99.7h0M333.8 139.9h0M339.9 144.0h0M339.1 84.3h0M337.4 96.7h0M357.1 112.0h0M334.7 134.1h0M335.0 139.5h0M337.0 105.2h0M327.3 97.1h0M347.4 109.4h0M344.3 117.0h0M366.5 129.4h0M337.6 144.1h0M340.8 127.5h0M338.3 109.4h0M345.0 107.8h0M326.3 120.3h0M332.3 97.7h0M352.4 138.3h0M338.7 87.9h0M343.5 131.9h0M337.0 135.0h0M325.3 122.8h0M349.2 143.3h0M362.9 122.6h0M339.0 146.8h0M329.6 89.1h0M333.1 103.1h0M325.5 102.7h0M335.8 138.4h0M325.3 102.2h0M344.1 93.9h0M326.3 101.3h0M354.8 106.1h0M344.0 86.1h0M342.9 94.2h0M342.4 126.5h0M331.6 87.4h0M330.1 102.3h0M350.0 97.5h0M331.1 100.8h0M325.0 111.9h0M353.8 117.0h0M335.8 99.3h0M354.3 106.7h0M353.9 138.8h0M329.5 110.1h0M337.8 88.2h0M335.9 89.9h0M334.3 131.6h0M331.6 84.0h0M332.4 102.1h0M354.6 138.0h0M335.4 85.5h0M341.8 104.7h0M333.9 111.7h0M349.9 127.9h0M323.8 121.3h0M324.6 125.0h0M325.8 125.1h0M331.9 115.4h0M345.1 139.4h0M332.0 101.5h0M331.7 143.8h0M329.6 119.6h0M334.0 92.6h0M338.9 118.6h0M329.9 84.5h0M335.3 108.2h0M340.2 138.2h0M366.4 130.1h0M327.3 103.2h0M330.1 125.4h0M363.6 131.5h0M324.9 132.8h0M343.2 97.6h0M360.9 129.8h0M352.6 140.4h0M321.3 139.9h0M346.9 131.4h0M340.7 102.1h0M334.7 128.9h0M340.0 142.4h0M340.7 90.9h0M343.6 109.2h0M344.3 119.5h0M336.1 141.4h0M324.0 135.1h0M339.2 98.2h0M337.4 128.1h0M335.7 97.5h0M334.1 98.0h0M325.0 121.5h0M332.2 106.9h0M337.6 78.1h0M331.1 119.3h0M357.9 109.4h0M321.8 143.7h0M331.2 95.7h0M335.0 106.5h0M336.5 128.0h0M333.1 106.9h0M322.1 147.0h0M330.6 119.1h0M324.2 139.8h0M331.7 146.0h0M330.8 132.5h0M340.9 106.4h0M336.7 92.4h0M329.0 130.6h0M338.4 100.5h0M328.6 132.8h0M325.9 143.6h0M332.7 121.3h0M345.2 128.5h0M350.9 118.6h0M350.2 130.6h0M338.9 128.4h0M328.1 93.1h0M324.8 141.3h0M331.9 109.1h0M338.3 124.4h0M343.9 117.4h0M347.9 139.8h0M344.7 141.7h0M339.1 123.0h0M354.6 111.0h0M343.8 94.1h0M332.6 120.0h0M331.1 124.5h0M338.0 126.8h0M343.1 86.7h0M324.5 143.9h0M333.2 143.7h0M333.0 76.8h0M330.6 97.9h0M334.0 137.6h0M351.3 109.4h0M342.5 145.3h0M348.0 132.0h0M334.4 139.5h0M338.4 143.0h0M338.6 99.7h0M328.1 106.5h0M357.8 120.4h0M339.6 92.7h0M328.2 132.4h0M330.0 131.0h0M326.3 115.2h0M352.9 136.5h0M344.3 117.5h0M322.7 140.7h0M340.6 142.5h0M346.1 91.6h0M363.8 125.6h0M332.4 93.5h0M339.8 88.3h0M342.6 141.9h0M339.1 90.6h0M332.2 106.2h0M341.6 84.1h0M337.4 137.0h0M331.6 116.0h0M331.9 102.3h0M337.5 96.9h0M331.0 94.0h0M333.2 128.9h0M321.2 142.6h0M336.0 81.9h0M330.0 143.1h0M330.1 115.5h0M362.3 121.9h0M342.8 119.2h0M359.0 112.0h0M341.9 107.8h0M353.8 119.7h0M363.3 130.6h0M345.6 97.6h0M355.8 121.4h0M333.7 136.7h0M349.9 122.2h0M321.1 141.6h0M327.3 86.8h0M338.0 75.5h0M346.8 82.5h0M332.8 64.4h0M351.0 95.2h0M349.3 91.8h0M345.7 75.8h0M336.8 62.6h0M346.6 85.0h0M376.5 110.0h0M359.5 99.4h0M359.4 142.1h0" stroke="#e06464" stroke-width="3.5" stroke-linecap="round" stroke-opacity="0.7" fill="none"/>
<path d="M323.4 142.3h0M359.1 126.4h0M337.9 123.0h0M329.5 107.7h0M327.3 127.1h0M327.9 89.1h0M337.2 104.7h0M332.5 83.8h0M333.1 124.8h0M326.1 124.5h0M339.9 139.0h0M332.6 98.0h0M326.2 105.3h0M345.0 139.3h0M324.9 129.1h0M341.6 94.5h0M336.0 89.2h0M342.7 145.5h0M333.8 103.1h0M363.6 121.8h0M332.3 114.5h0M331.9 143.9h0M327.8 113.4h0M353.3 110.1h0M324.8 102.5h0M331.6 122.3h0M333.7 143.7h0M332.0 127.0h0M355.8 118.2h0M330.0 146.7h0M344.5 98.6h0M332.3 110.3h0M354.1 130.1h0M342.4 102.2h0M323.0 145.8h0M347.4 127.6h0M340.6 114.6h0M343.9 110.5h0M343.6 128.7h0M329.9 90.6h0M337.4 142.1h0M322.0 137.9h0M343.4 112.2h0M328.6 89.0h0M331.5 138.8h0M325.3 114.7h0M329.9 140.5h0M333.9 102.4h0M338.4 135.6h0M327.8 131.8h0M339.8 124.5h0M326.1 99.9h0M321.3 144.0h0M352.1 120.8h0M335.4 119.3h0M327.0 101.2h0M332.2 84.4h0M342.0 120.2h0M330.4 118.0h0M327.4 92.3h0M338.0 106.1h0M349.0 99.9h0M332.8 83.2h0M326.3 105.4h0M325.9 99.3h0M347.0 136.8h0M335.1 143.6h0M346.3 123.1h0M328.0 137.9h0M336.5 109.8h0M329.7 129.7h0M336.2 89.1h0M325.8 140.0h0M336.6 141.0h0M356.6 113.3h0M336.1 134.6h0M341.1 133.9h0M330.6 142.1h0M331.0 121.1h0M351.9 105.9h0M324.5 140.9h0M326.7 97.4h0M339.4 114.4h0M336.4 128.3h0M342.8 97.4h0M339.1 92.7h0M334.1 139.1h0M340.2 118.3h0M342.9 117.7h0M333.0 106.5h0M328.1 93.2h0M328.1 139.0h0M328.4 90.1h0M343.9 96.6h0M341.7 120.2h0M337.8 109.7h0M338.8 114.4h0M337.5 126.3h0M334.5 133.4h0M323.8 141.4h0M323.0 121.8h0M332.2 93.9h0M332.2 132.8h0M327.4 103.7h0M351.3 106.7h0M343.8 91.0h0M338.8 76.5h0M343.2 123.0h0M341.5 144.0h0M331.4 85.7h0M332.8 100.5h0M362.6 120.4h0M335.4 138.7h0M342.6 82.7h0M357.5 124.0h0M345.9 117.1h0M320.6 146.5h0M356.0 136.1h0M325.7 131.2h0M333.2 87.7h0M341.3 112.9h0M331.2 97.1h0M360.2 117.1h0M360.7 116.3h0M328.6 102.2h0M335.1 134.0h0M337.8 123.0h0M338.0 125.3h0M326.3 124.2h0M329.7 121.3h0M349.8 137.4h0M328.7 99.7h0M352.3 133.6h0M343.9 134.3h0M356.5 109.9h0M322.0 146.6h0M351.1 98.3h0M338.0 135.3h0M333.3 83.3h0M339.0 121.6h0M339.2 128.9h0M349.9 110.3h0M352.6 130.1h0M331.1 94.3h0M325.8 140.6h0M337.7 108.6h0M330.8 145.3h0M339.1 93.8h0M326.3 104.3h0M362.7 132.8h0M340.0 121.2h0M365.6 124.6h0M335.6 84.2h0M327.1 122.8h0M342.4 99.6h0M330.1 132.6h0M328.7 135.7h0M342.2 92.6h0M349.2 118.6h0M339.7 125.8h0M332.9 140.7h0M346.4 117.6h0M326.9 112.8h0M324.9 110.6h0M335.8 75.2h0M336.9 139.0h0M339.8 98.8h0M360.3 133.7h0M355.0 126.5h0M339.4 112.0h0M331.9 140.5h0M358.4 117.2h0M329.6 143.7h0M347.0 113.6h0M325.2 120.5h0M325.6 113.5h0M333.3 142.3h0M341.2 129.8h0M354.5 122.3h0M330.7 116.3h0M332.7 141.4h0M351.2 103.8h0M327.2 131.7h0M338.8 135.2h0M333.5 119.5h0M332.3 124.7h0M345.7 145.9h0M348.9 103.1h0M333.5 109.0h0M328.8 117.3h0M337.3 86.6h0M331.2 129.1h0M329.3 96.6h0M338.7 99.4h0M342.8 130.6h0M345.9 92.8h0M324.1 141.9h0M330.6 140.5h0M328.5 96.0h0M344.6 135.0h0M337.6 110.6h0M339.8 140.0h0M336.6 95.0h0M323.7 133.3h0M335.4 142.7h0M335.1 82.7h0M336.0 87.5h0M328.6 90.5h0M332.9 124.5h0M329.2 88.1h0M333.6 86.4h0M322.4 137.1h0M329.6 138.4h0M333.8 140.0h0M334.5 117.3h0M344.1 90.5h0M321.6 144.8h0M328.8 118.8h0M334.2 76.0h0M355.1 136.2h0M341.1 101.2h0M331.5 131.5h0M325.5 128.4h0M334.0 95.6h0M345.3 95.8h0M339.8 110.2h0M330.8 94.5h0M328.0 123.9h0M342.2 122.8h0M340.4 133.6h0M330.4 117.0h0M365.2 126.3h0M342.7 94.5h0M357.7 118.5h0M324.2 138.2h0M329.0 101.1h0M321.2 139.4h0M344.2 124.0h0M344.2 144.1h0M340.6 112.5h0M332.0 106.9h0M332.1 103.2h0M337.2 131.1h0M336.8 85.8h0M344.1 101.0h0M340.0 104.2h0M351.0 102.3h0M325.7 145.1h0M328.2 106.6h0M335.8 143.7h0M352.4 142.5h0M337.2 103.3h0M338.3 133.5h0M339.7 123.2h0M336.3 90.9h0M335.2 134.2h0M340.2 94.9h0M348.6 102.3h0M323.4 140.2h0M331.3 73.3h0M333.5 73.3h0M342.3 72.4h0M329.7 76.8h0M339.3 62.4h0M346.6 86.8h0M353.6 93.0h0M326.5 80.0h0M370.0 124.5h0M370.3 130.0h0M356.6 97.4h0M376.3 110.6h0M365.3 131.2h0M362.9 105.0h0M359.9 94.5h0M363.0 128.2h0M354.7 139.5h0" stroke="#e06464" stroke-width="3.5" stroke-linecap="round" stroke-opacity="0.7" fill="none"/>
<path d="M342.5 83.6h0M339.3 124.3h0M342.0 102.8h0M338.8 121.4h0M325.5 130.9h0M332.6 82.4h0M359.0 124.1h0M340.8 110.2h0M329.1 103.0h0M361.7 125.2h0M338.7 114.7h0M349.5 119.7h0M343.3 135.6h0M331.7 137.1h0M344.9 108.6h0M340.3 134.5h0M343.3 142.0h0M342.4 127.5h0M331.7 84.5h0M349.2 95.8h0M330.6 97.4h0M332.5 94.1h0M338.6 104.4h0M342.7 130.0h0M342.4 144.9h0M332.3 123.1h0M330.3 101.5h0M345.9 93.6h0M337.9 76.0h0M348.8 129.5h0M337.7 92.4h0M327.0 130.6h0M330.7 104.3h0M360.0 118.2h0M336.7 136.6h0M343.1 86.3h0M339.8 110.2h0M366.1 130.2h0M345.3 88.0h0M343.0 143.0h0M333.8 100.5h0M337.1 77.0h0M343.2 116.7h0M345.9 97.9h0M364.2 120.0h0M342.1 105.8h0M327.2 133.0h0M330.1 99.8h0M327.6 106.6h0M333.0 124.8h0M337.5 130.6h0M341.3 107.6h0M345.1 134.5h0M338.1 104.2h0M345.3 102.4h0M331.1 100.3h0M342.5 118.2h0M335.8 84.4h0M326.8 99.4h0M337.6 87.7h0M328.5 120.8h0M328.3 112.5h0M341.4 80.5h0M360.4 124.3h0M331.9 114.5h0M328.7 121.8h0M351.8 100.7h0M359.6 120.7h0M335.3 100.4h0M330.3 104.1h0M355.2 112.7h0M328.8 140.7h0M337.6 134.6h0M331.9 83.5h0M327.1 142.3h0M327.6 110.8h0M336.5 103.4h0M339.4 126.3h0M326.5 127.0h0M338.9 132.5h0M333.5 82.2h0M356.7 137.4h0M328.4 142.0h0M338.4 101.2h0M336.8 107.9h0M343.3 120.8h0M326.7 118.8h0M339.5 87.9h0M329.9 107.0h0M352.8 124.4h0M364.9 124.1h0M351.7 100.4h0M335.1 101.3h0M348.4 120.4h0M336.8 145.7h0M328.1 89.9h0M326.2 119.8h0M323.2 142.1h0M347.2 121.2h0M329.2 136.5h0M364.0 126.4h0M352.4 129.1h0M336.2 94.9h0M336.7 108.8h0M337.1 111.6h0M348.0 94.1h0M340.0 89.7h0M321.6 133.6h0M331.4 119.8h0M336.3 109.7h0M325.7 102.5h0M333.5 108.8h0M348.0 99.8h0M331.6 98.2h0M328.5 118.1h0M340.5 81.5h0M341.7 101.1h0M325.8 108.6h0M321.2 145.6h0M335.7 120.5h0M357.0 107.4h0M338.4 93.6h0M323.6 136.4h0M333.9 118.6h0M336.3 75.3h0M335.2 129.6h0M336.8 133.2h0M332.9 115.4h0M326.6 102.2h0M338.4 108.7h0M344.4 107.1h0M340.2 84.6h0M328.3 115.9h0M344.2 98.4h0M330.3 140.2h0M328.8 129.6h0M336.5 85.1h0M337.3 145.3h0M363.6 120.4h0M323.6 140.2h0M336.3 129.8h0M328.5 108.6h0M331.9 98.3h0M343.0 112.8h0M348.2 106.6h0M331.0 126.4h0M334.9 89.7h0M348.7 101.8h0M325.0 119.3h0M328.2 128.0h0M325.0 115.9h0M340.9 142.2h0M341.3 100.1h0M341.9 131.0h0M330.1 84.6h0M329.1 98.1h0M341.5 127.5h0M324.5 126.3h0M323.0 131.4h0M331.2 132.5h0M360.4 123.6h0M327.5 118.3h0M321.6 140.3h0M344.2 86.1h0M344.3 123.8h0M329.6 136.3h0M340.9 102.9h0M334.1 111.1h0M342.1 141.2h0M340.3 83.4h0M333.4 115.8h0M324.4 136.2h0M330.9 91.8h0M336.1 77.2h0M328.5 108.7h0M326.6 127.1h0M327.1 141.9h0M350.3 84.7h0M355.0 97.3h0M331.5 74.7h0M349.4 93.5h0M336.8 64.1h0M358.5 107.3h0M349.0 85.3h0M325.4 90.4h0M349.3 94.5h0M324.9 99.8h0M346.9 79.0h0M356.1 94.5h0M331.4 65.5h0M337.0 70.3h0M343.9 83.8h0M354.0 91.2h0M352.2 87.3h0M334.5 60.4h0M367.8 93.0h0M374.1 122.8h0M361.8 112.8h0M360.8 128.5h0M363.1 115.3h0M374.0 130.7h0M373.6 106.2h0M342.6 38.6h0M346.9 54.8h0M350.4 76.2h0M333.5 78.8h0M356.4 92.5h0M387.1 93.3h0M386.7 125.8h0M371.5 97.6h0M361.2 99.3h0M339.6 60.0h0" stroke="#e06464" stroke-width="4.0" stroke-linecap="round" stroke-opacity="0.7" fill="none"/>
<path d="M333.4 103.0h0M349.9 99.2h0M320.7 146.7h0M331.0 92.3h0M355.6 108.9h0M332.2 126.0h0M336.7 90.1h0M343.7 99.2h0M348.8 116.0h0M343.3 118.2h0M332.6 92.9h0M361.1 124.2h0M321.9 138.6h0M334.7 92.0h0M343.8 92.1h0M327.9 125.1h0M356.3 109.8h0M349.0 97.4h0M343.1 112.0h0M336.4 102.0h0M348.3 96.0h0M327.9 100.6h0M339.6 97.8h0M332.8 141.6h0M333.0 146.9h0M351.9 117.6h0M353.8 139.6h0M336.4 134.0h0M359.0 113.7h0M335.4 84.0h0M327.3 100.7h0M329.2 121.3h0M336.9 129.8h0M329.3 134.1h0M336.4 91.9h0M334.2 125.6h0M331.0 121.5h0M340.4 145.5h0M346.4 99.5h0M331.6 132.9h0M326.9 139.9h0M343.4 141.6h0M320.7 146.7h0M338.6 93.4h0M356.9 134.1h0M327.5 97.0h0M331.7 117.1h0M358.5 130.3h0M343.9 125.9h0M347.6 142.1h0M334.1 135.5h0M333.9 109.2h0M338.9 110.3h0M345.1 105.1h0M337.6 125.7h0M329.0 128.9h0M360.6 131.5h0M326.4 145.0h0M341.5 108.9h0M339.3 85.5h0M330.4 107.1h0M328.2 117.4h0M332.2 120.9h0M329.4 131.0h0M340.7 139.0h0M342.0 141.9h0M340.2 130.7h0M360.3 120.9h0M332.3 129.6h0M327.0 122.0h0M322.4 126.3h0M322.0 137.9h0M335.6 107.8h0M322.2 136.6h0M332.9 95.5h0M330.7 100.7h0M346.0 113.9h0M325.7 104.2h0M337.0 92.2h0M329.3 114.9h0M342.6 123.4h0M361.3 128.6h0M344.6 96.7h0M338.5 117.8h0M355.1 135.3h0M339.6 133.6h0M327.2 126.6h0M323.5 137.6h0M334.0 130.8h0M327.9 95.9h0M342.2 113.9h0M340.8 96.2h0M328.6 99.9h0M332.9 92.8h0M342.5 136.5h0M339.0 81.8h0M345.1 138.9h0M321.1 141.6h0M360.0 135.6h0M323.8 109.9h0M343.5 92.7h0M357.4 113.0h0M340.5 84.0h0M321.0 142.9h0M336.4 138.1h0M328.4 127.9h0M350.2 142.7h0M334.1 85.5h0M334.6 79.6h0M342.2 114.7h0M339.3 130.5h0M333.2 135.5h0M322.3 141.4h0M335.6 135.2h0M321.9 134.8h0M352.5 114.1h0M341.7 143.7h0M325.2 120.0h0M337.0 88.2h0M340.5 123.7h0M330.1 115.4h0M336.5 90.9h0M346.2 144.7h0M338.5 111.9h0M343.8 118.9h0M344.7 115.7h0M332.8 128.9h0M332.5 109.0h0M346.4 127.9h0M343.3 105.5h0M328.3 112.4h0M336.5 119.2h0M345.2 108.6h0M331.9 123.2h0M338.2 97.8h0M328.4 122.2h0M333.6 145.9h0M337.1 79.1h0M341.1 130.7h0M337.7 125.9h0M334.2 98.3h0M323.0 126.9h0M353.4 118.9h0M335.0 130.6h0M357.0 126.1h0M336.4 107.1h0M340.5 93.3h0M325.2 128.7h0M353.7 128.9h0M334.4 102.0h0M329.8 142.9h0M332.5 96.5h0M344.5 101.7h0M333.6 88.9h0M338.0 110.5h0M339.3 82.4h0M350.1 131.0h0M336.3 128.3h0M338.9 145.1h0M340.6 113.9h0M335.5 146.2h0M330.8 141.4h0M366.0 128.7h0M330.8 106.3h0M353.9 127.8h0M339.1 142.3h0M330.9 106.1h0M343.5 129.6h0M356.5 100.8h0M353.4 93.6h0M331.1 72.7h0M330.5 75.1h0M354.8 97.9h0M328.5 74.5h0M327.5 74.7h0M352.6 93.3h0M356.5 102.9h0M336.5 66.3h0M340.2 75.2h0M375.6 120.3h0M359.5 100.8h0M376.0 123.0h0M364.3 115.1h0M369.0 102.5h0M363.4 90.3h0M357.9 128.4h0M373.3 128.1h0M360.3 101.6h0M369.9 114.2h0M341.3 49.7h0M343.5 60.8h0M335.7 66.0h0M334.8 79.6h0M354.7 96.7h0M383.6 110.4h0M375.4 95.0h0M365.9 98.5h0M348.2 81.4h0" stroke="#e06464" stroke-width="4.0" stroke-linecap="round" stroke-opacity="0.7" fill="none"/>
<path d="M348.8 136.6h0M326.7 113.6h0M326.2 95.3h0M335.5 78.7h0M337.0 136.5h0M324.7 114.6h0M344.7 88.1h0M346.2 126.4h0M335.4 105.0h0M324.5 105.1h0M331.5 144.4h0M357.6 137.2h0M326.6 126.6h0M335.8 106.1h0M341.2 138.2h0M327.4 129.9h0M325.7 109.6h0M353.1 134.1h0M337.7 86.1h0M334.5 118.5h0M327.9 90.7h0M333.9 80.2h0M323.2 147.1h0M333.5 76.6h0M336.6 136.7h0M335.5 84.2h0M345.6 94.5h0M329.5 133.0h0M335.4 97.9h0M332.0 78.8h0M343.5 115.8h0M332.7 122.2h0M366.4 129.7h0M329.4 103.7h0M332.7 146.9h0M345.3 101.8h0M321.6 139.1h0M359.6 132.5h0M338.0 129.6h0M327.0 114.3h0M335.8 124.9h0M342.0 120.9h0M341.2 138.7h0M328.9 135.9h0M329.9 91.5h0M330.2 118.3h0M335.7 93.6h0M342.1 90.5h0M330.4 97.9h0M334.0 126.3h0M346.2 125.7h0M335.8 132.3h0M335.1 105.1h0M356.3 114.1h0M330.4 106.1h0M332.9 90.9h0M333.9 76.2h0M346.9 123.9h0M336.9 98.4h0M321.9 138.3h0M335.2 112.2h0M333.1 104.6h0M343.8 112.7h0M334.5 142.1h0M345.9 135.9h0M322.3 136.0h0M336.7 125.1h0M363.2 127.6h0M321.1 145.9h0M327.1 109.6h0M337.1 90.4h0M322.4 123.4h0M338.8 136.0h0M333.8 100.4h0M334.2 144.0h0M339.9 86.6h0M350.3 115.2h0M337.8 80.0h0M333.5 121.8h0M330.5 114.4h0M338.9 97.8h0M363.2 118.3h0M353.7 110.8h0M350.1 101.1h0M334.4 92.6h0M327.7 128.9h0M326.3 139.4h0M335.2 79.2h0M332.4 110.7h0M332.4 95.1h0M329.9 137.3h0M335.0 93.0h0M331.9 113.2h0M342.0 99.0h0M343.5 139.4h0M343.0 93.6h0M322.7 126.6h0M324.8 143.8h0M357.7 111.3h0M354.9 119.9h0M350.0 116.2h0M334.0 102.7h0M324.6 134.1h0M336.1 80.1h0M332.6 98.4h0M333.7 107.5h0M334.7 77.5h0M342.0 141.0h0M330.2 114.2h0M331.1 109.5h0M325.7 113.0h0M360.9 115.3h0M326.5 128.4h0M326.0 119.4h0M340.2 128.1h0M344.5 139.7h0M326.2 138.6h0M329.5 119.8h0M324.2 110.2h0M326.1 147.0h0M332.7 105.2h0M358.9 115.3h0M329.9 98.8h0M346.5 91.9h0M328.3 126.0h0M345.7 115.7h0M333.2 147.0h0M335.6 140.2h0M332.6 85.1h0M342.6 119.8h0M326.8 115.7h0M335.3 103.7h0M342.0 83.9h0M338.9 101.2h0M325.6 146.5h0M342.5 101.9h0M329.9 135.6h0M328.0 106.4h0M335.0 142.7h0M325.6 135.3h0M346.1 106.2h0M329.9 123.6h0M335.0 113.9h0M337.9 99.9h0M322.1 128.0h0M337.8 85.0h0M323.9 137.9h0M335.9 94.9h0M337.8 135.0h0M329.7 97.8h0M321.6 136.0h0M325.5 112.0h0M329.7 119.6h0M324.8 146.8h0M333.5 95.0h0M339.8 80.7h0M325.2 118.3h0M333.0 143.0h0M324.8 110.4h0M326.0 146.5h0M321.7 132.9h0M333.0 92.4h0M329.8 144.6h0M338.2 139.6h0M357.9 121.2h0M341.9 88.7h0M321.1 146.5h0M334.6 133.2h0M341.4 90.1h0M340.1 130.2h0M330.5 81.7h0M332.6 85.4h0M338.4 127.0h0M328.7 146.8h0M329.7 125.6h0M357.2 112.7h0M323.7 132.3h0M340.2 115.7h0M355.9 116.0h0M336.4 127.3h0M324.7 123.7h0M334.4 96.9h0M338.3 134.4h0M337.1 94.8h0M334.4 65.1h0M328.5 83.7h0M331.2 69.7h0M326.4 88.3h0M347.6 82.5h0M333.1 75.7h0M340.7 73.9h0M341.2 74.2h0M328.6 82.4h0M348.3 92.4h0M352.4 92.4h0M328.7 75.8h0M329.9 72.4h0M334.6 72.2h0M342.4 81.0h0M362.8 109.1h0M363.0 121.4h0M372.8 119.3h0M370.5 129.8h0M370.0 90.2h0M371.0 119.9h0M357.8 107.3h0M343.9 52.3h0M344.3 72.8h0M338.7 67.7h0M349.1 91.6h0M385.4 88.2h0M383.6 117.3h0M369.8 94.2h0M363.8 102.7h0" stroke="#e06464" stroke-width="4.0" stroke-linecap="round" stroke-opacity="0.7" fill="none"/>
<path d="M374.0 130.7h0" stroke="#e06464" stroke-width="4.5" stroke-linecap="round" stroke-opacity="0.7" fill="none"/>
<path d="M326.7 79.9h0M342.3 78.0h0M324.9 89.0h0M358.3 120.4h0M366.4 105.4h0M357.0 125.2h0" stroke="#e06464" stroke-width="4.5" stroke-linecap="round" stroke-opacity="0.7" fill="none"/>
<path d="M339.5 74.2h0" stroke="#e06464" stroke-width="4.5" stroke-linecap="round" stroke-opacity="0.7" fill="none"/>
</g>
<rect x="245.5" y="31.2" width="149.1" height="133" fill="none" stroke="#555" stroke-width="0.7"/>
<line x1="276.5" y1="164.2" x2="276.5" y2="166" stroke="#555" stroke-width="0.6"/>
<text x="276.5" y="172.27" font-size="6.85" text-anchor="middle">-10</text>
<line x1="319.7" y1="164.2" x2="319.7" y2="166" stroke="#555" stroke-width="0.6"/>
<text x="319.7" y="172.27" font-size="6.85" text-anchor="middle">0</text>
<line x1="362.9" y1="164.2" x2="362.9" y2="166" stroke="#555" stroke-width="0.6"/>
<text x="362.9" y="172.27" font-size="6.85" text-anchor="middle">10</text>
<line x1="243.7" y1="158.3" x2="245.5" y2="158.3" stroke="#555" stroke-width="0.6"/>
<text x="242.7" y="160.77" font-size="6.85" text-anchor="end">0</text>
<line x1="243.7" y1="115.55" x2="245.5" y2="115.55" stroke="#555" stroke-width="0.6"/>
<text x="242.7" y="118.02" font-size="6.85" text-anchor="end">5</text>
<line x1="243.7" y1="72.8" x2="245.5" y2="72.8" stroke="#555" stroke-width="0.6"/>
<text x="242.7" y="75.27" font-size="6.85" text-anchor="end">10</text>
<text x="353.8" y="47.07" font-size="6.3">Up: 2367</text>
<text x="353.8" y="56.47" font-size="6.3">Down: 931</text>
<text x="322.3" y="181.8" font-size="6.85" text-anchor="middle">log<tspan font-size="4.5" dy="1.6">2</tspan><tspan dy="-1.6"> Fold Change</tspan></text>
<text x="229.6" y="102.6" font-size="6.85" text-anchor="middle" transform="rotate(-90 229.6 102.6)" dy="2.4">-log<tspan font-size="4.5" dy="1.6">10</tspan><tspan dy="-1.6"> P-value</tspan></text>
<text x="397.3" y="50.97" font-size="6.85">Status</text>
<circle cx="402" cy="55.9" r="1.1" fill="#6b93cc"/>
<text x="404.9" y="58.37" font-size="6.85">down-regulated</text>
<circle cx="402" cy="63.8" r="1.1" fill="#b8b8b8"/>
<text x="404.9" y="66.27" font-size="6.85">not significnat</text>
<circle cx="402" cy="71.7" r="1.1" fill="#e06464"/>
<text x="404.9" y="74.17" font-size="6.85">up-regulated</text>
<text x="397.3" y="87.37" font-size="6.85">VIP</text>
<circle cx="402.3" cy="92.2" r="0.8" fill="#000"/>
<text x="404.9" y="94.67" font-size="6.85">0.0</text>
<circle cx="402" cy="100.7" r="2" fill="#000"/>
<text x="404.1" y="103.17" font-size="6.85">1.9</text>
<text x="452.7" y="6.2" font-size="8.3" font-weight="bold" style="fill:#000;stroke:#000">C</text>
<text x="553.4" y="26.07" font-size="6.85" text-anchor="middle">A549-Control VS A549-SKA3 knockdown</text>
<defs><clipPath id="clip5"><rect x="477.4" y="31.2" width="146.9" height="133"/></clipPath></defs>
<g clip-path="url(#clip5)">
<line x1="550.8" y1="31.2" x2="550.8" y2="164.2" stroke="#999" stroke-width="0.6" stroke-dasharray="1.2 1.2"/>
<line x1="477.4" y1="138.25" x2="624.3" y2="138.25" stroke="#999" stroke-width="0.6" stroke-dasharray="1.2 1.2"/>
<path d="M548.5 153.5h0M556.1 154.1h0M545.2 154.2h0M534.5 143.5h0M540.6 141.8h0M565.4 141.7h0M539.3 142.8h0M579.3 142.0h0M561.9 140.9h0M509.8 141.4h0M554.7 149.6h0M564.3 149.3h0M557.4 139.0h0M537.2 150.8h0M566.8 145.4h0M564.1 144.9h0M578.4 139.9h0M535.9 142.5h0M538.8 146.1h0M553.5 152.7h0M532.5 146.4h0M508.8 142.9h0M563.6 143.9h0M539.1 143.6h0M548.4 138.8h0M560.4 140.5h0M560.3 151.0h0M566.6 141.0h0M556.6 146.9h0M560.3 152.4h0M540.1 146.6h0M535.6 147.7h0M556.4 142.2h0M562.2 146.0h0M540.8 150.7h0M554.6 147.5h0M547.9 145.3h0M533.2 146.7h0M582.2 139.3h0M537.4 143.0h0M544.6 153.2h0M544.7 140.5h0M510.2 141.3h0M528.0 146.3h0M582.6 144.7h0M537.6 140.2h0M577.4 140.0h0M561.2 143.0h0M520.5 140.2h0M526.0 139.0h0M558.3 142.1h0M550.4 141.1h0M565.6 143.9h0M544.0 149.2h0M531.3 144.2h0M547.9 141.7h0M540.2 149.8h0M528.5 141.9h0M546.3 138.8h0M560.2 147.1h0M538.0 139.1h0M524.6 141.2h0M548.4 142.7h0M551.5 140.9h0M563.3 139.3h0M545.2 140.3h0M540.6 144.5h0M548.1 153.9h0M566.6 144.6h0M561.9 140.2h0M551.1 154.9h0M556.7 150.2h0M546.8 151.2h0M554.2 155.3h0M527.7 138.6h0M556.6 151.6h0M558.7 153.0h0M565.8 141.4h0M510.8 139.6h0M547.4 146.9h0M554.3 145.3h0M540.3 152.3h0M565.7 146.7h0M546.3 142.7h0M529.6 141.7h0M544.4 141.3h0M547.6 151.2h0M579.4 140.3h0M563.9 139.0h0M545.9 150.6h0M580.6 138.6h0M550.8 144.7h0M556.6 151.8h0M580.6 142.6h0M543.8 144.0h0M530.7 146.8h0M575.0 146.5h0M562.0 151.1h0M553.8 148.0h0M533.7 138.7h0M536.3 143.9h0M556.7 139.1h0M523.1 142.5h0M549.5 149.6h0M567.5 141.5h0M555.0 140.9h0M554.0 152.4h0M572.1 138.7h0M546.2 154.6h0M526.4 142.5h0M565.2 146.3h0M536.3 147.7h0M564.1 142.9h0M565.2 145.4h0M548.9 147.5h0M561.0 146.4h0M549.7 144.3h0M546.6 152.9h0M558.2 140.0h0M561.7 151.6h0M533.4 140.4h0M578.9 141.7h0M554.0 141.1h0M563.0 140.6h0M541.3 149.0h0M551.3 147.5h0" stroke="#b8b8b8" stroke-width="2.5" stroke-linecap="round" stroke-opacity="0.7" fill="none"/>
<path d="M549.0 151.5h0M541.6 153.2h0M546.8 153.5h0M556.6 155.2h0M568.6 146.9h0M548.1 151.6h0M570.5 140.1h0M566.8 145.1h0M536.8 148.4h0M574.8 146.9h0M571.7 147.2h0M534.8 145.7h0M535.5 150.4h0M571.3 148.2h0M578.1 138.7h0M535.5 144.9h0M539.9 140.0h0M565.1 151.5h0M528.2 145.4h0M556.8 140.7h0M526.5 141.4h0M560.9 147.6h0M569.5 142.3h0M573.5 146.8h0M568.4 142.3h0M539.2 146.6h0M544.6 143.3h0M554.8 139.3h0M544.7 141.1h0M516.9 140.6h0M536.1 142.6h0M556.1 155.9h0M540.2 145.6h0M539.4 149.1h0M545.9 149.2h0M545.2 153.3h0M564.0 145.5h0M553.9 140.1h0M546.0 147.2h0M546.1 148.1h0M556.7 147.3h0M546.9 148.2h0M572.2 143.8h0M537.6 148.2h0M555.7 140.7h0M572.2 146.5h0M512.3 142.9h0M551.0 145.6h0M544.9 138.6h0M554.9 146.7h0M553.4 138.9h0M560.9 146.8h0M578.9 139.5h0M529.0 146.3h0M575.4 138.7h0M533.9 149.2h0M554.2 139.9h0M536.8 146.0h0M543.1 148.6h0M548.1 147.1h0M563.5 143.8h0M542.8 152.9h0M582.2 138.6h0M548.4 138.8h0M568.3 143.4h0M543.8 140.3h0M564.7 151.7h0M542.1 148.9h0M546.6 139.7h0M551.6 145.0h0M571.7 146.3h0M554.3 152.4h0M568.9 141.6h0M535.3 142.8h0M551.9 149.5h0M546.4 148.1h0M545.5 145.0h0M568.8 146.7h0M523.5 140.9h0M566.8 145.1h0M528.5 144.6h0M536.1 150.0h0M538.5 151.8h0M527.9 141.7h0M529.9 139.1h0M552.3 153.8h0M582.9 138.9h0M554.0 140.9h0M561.7 152.9h0M559.1 150.8h0M549.3 149.4h0M555.8 142.5h0M529.4 140.4h0M563.0 152.0h0M575.4 141.2h0M565.6 147.2h0M541.3 151.1h0M520.3 138.7h0M545.1 155.0h0M573.9 145.9h0M554.9 144.0h0M539.1 144.7h0M547.5 142.7h0M584.7 145.1h0M539.5 146.7h0M554.2 154.2h0M519.7 144.4h0M580.9 144.2h0M560.7 140.1h0M542.0 144.1h0M561.4 142.5h0M529.6 140.2h0M506.3 144.5h0M544.6 154.9h0M560.9 140.7h0M565.7 149.5h0M564.3 142.0h0M546.2 152.4h0M576.1 139.2h0M572.4 138.8h0M582.5 139.8h0" stroke="#b8b8b8" stroke-width="2.5" stroke-linecap="round" stroke-opacity="0.7" fill="none"/>
<path d="M532.4 143.9h0M573.3 141.0h0M557.7 155.0h0M561.1 142.6h0M540.4 150.2h0M542.4 144.7h0M538.3 138.8h0M554.2 145.0h0M561.4 149.2h0M553.6 139.7h0M564.9 142.3h0M552.9 143.5h0M560.8 146.5h0M566.2 139.9h0M527.5 140.7h0M531.2 143.0h0M546.3 153.0h0M561.2 145.5h0M529.2 142.2h0M582.1 140.2h0M556.5 155.3h0M528.9 139.2h0M565.4 145.9h0M573.5 147.2h0M555.5 145.4h0M537.7 146.0h0M540.6 148.7h0M572.0 145.5h0M532.6 140.3h0M552.9 150.0h0M542.8 144.3h0M529.1 144.1h0M534.2 150.2h0M545.5 144.1h0M525.0 146.0h0M552.0 152.3h0M542.9 144.1h0M532.8 140.7h0M574.2 145.7h0M535.0 141.5h0M564.3 145.6h0M534.5 150.7h0M569.2 146.9h0M531.1 142.5h0M541.3 151.2h0M562.3 151.7h0M516.1 140.7h0M542.4 147.0h0M549.1 147.4h0M524.2 142.7h0M544.3 140.5h0M557.1 143.7h0M549.1 148.6h0M555.3 147.7h0M542.0 141.5h0M556.8 140.8h0M555.0 148.8h0M562.9 147.2h0M568.1 144.5h0M557.5 150.4h0M555.5 155.3h0M576.4 142.1h0M561.6 141.0h0M559.2 142.0h0M520.0 145.1h0M556.1 145.4h0M548.1 143.3h0M528.7 144.2h0M577.1 145.1h0M560.5 149.3h0M539.5 150.1h0M546.4 139.7h0M569.8 140.9h0M536.1 144.5h0M568.5 146.7h0M573.8 145.1h0M550.5 150.1h0M543.2 153.0h0M586.2 139.5h0M540.8 140.2h0M547.6 155.5h0M529.9 142.9h0M581.2 142.2h0M567.3 144.8h0M567.2 139.7h0M585.8 138.8h0M545.8 148.5h0M555.1 153.1h0M506.1 141.2h0M554.7 140.4h0M529.1 146.7h0M549.2 148.2h0M542.0 149.0h0M556.2 141.4h0M565.0 151.4h0M563.9 142.5h0M561.7 153.1h0M555.9 151.5h0M544.9 148.1h0M552.1 140.4h0M533.5 149.8h0M554.0 151.1h0M543.5 153.0h0M558.3 142.9h0M553.0 140.1h0M534.5 141.5h0M550.5 151.2h0M534.3 142.7h0M551.8 157.4h0M553.6 142.6h0M552.0 140.4h0M512.4 140.6h0M536.4 149.6h0M528.6 141.7h0M552.4 140.4h0M541.0 148.7h0M543.1 146.4h0M548.7 138.9h0M554.8 151.3h0M523.3 139.1h0M561.0 141.2h0M515.6 140.8h0M569.8 146.7h0M531.5 139.1h0M558.6 145.8h0M557.9 141.1h0M581.1 144.3h0M510.3 146.0h0" stroke="#b8b8b8" stroke-width="2.5" stroke-linecap="round" stroke-opacity="0.7" fill="none"/>
<path d="M555.5 142.2h0M562.2 138.9h0M554.5 150.5h0M537.5 144.1h0M542.2 144.1h0M559.0 144.6h0M545.8 146.3h0M553.1 140.9h0M581.4 143.6h0M524.2 140.7h0M506.2 144.4h0M548.0 146.0h0M526.8 142.3h0M530.1 145.5h0M560.1 149.6h0M565.0 148.9h0M567.3 149.8h0M534.9 142.5h0M528.4 143.4h0M545.9 149.2h0M534.4 143.6h0M541.0 145.7h0M578.2 144.5h0M573.7 140.8h0M558.7 142.0h0M583.1 140.1h0M515.4 139.0h0M555.2 153.4h0M538.7 138.9h0M562.8 141.5h0M557.8 144.4h0M564.8 143.9h0M567.3 145.1h0M536.1 139.2h0M512.6 141.6h0M553.1 143.6h0M541.3 144.5h0M555.2 153.2h0M532.6 143.9h0M555.3 142.9h0M557.9 142.0h0M554.8 143.6h0M555.4 142.3h0M533.5 142.3h0M554.4 154.2h0M567.1 149.1h0M554.2 145.8h0M558.9 138.7h0M545.2 149.8h0M556.7 141.6h0M542.8 148.8h0M549.0 140.6h0M548.7 143.1h0M560.9 144.5h0M541.9 139.7h0M565.1 149.1h0M563.1 143.7h0M542.2 142.3h0M570.2 142.1h0M561.6 143.2h0M545.1 152.1h0M566.1 148.4h0M523.5 143.2h0M543.6 139.0h0M560.4 143.1h0M535.8 139.0h0M525.8 141.1h0M573.0 145.0h0M562.2 149.0h0M578.0 145.0h0M544.9 147.2h0M529.6 144.5h0M551.6 142.5h0M542.7 152.9h0M545.8 140.8h0M550.8 142.7h0M583.6 139.7h0M546.0 139.4h0M562.5 140.0h0M564.5 144.6h0M551.4 144.5h0M543.4 139.6h0M559.4 147.8h0M520.0 144.1h0M555.4 140.6h0M513.9 144.1h0M561.7 148.1h0M523.6 142.8h0M560.5 145.1h0M573.1 142.2h0M555.2 156.0h0M553.8 156.3h0M517.0 142.1h0M555.5 152.8h0M534.3 141.9h0M529.2 141.1h0M529.8 142.2h0M563.0 140.1h0M562.9 149.9h0M540.0 145.9h0M548.6 149.4h0M560.3 152.2h0M561.8 146.6h0M544.6 140.9h0M576.8 141.5h0M546.1 143.8h0M552.3 151.7h0M553.4 155.7h0M521.6 140.0h0M553.8 145.2h0M556.5 143.2h0M553.3 154.5h0M533.0 143.5h0M517.8 139.4h0M552.6 150.1h0M554.8 153.4h0M559.4 141.3h0M541.7 151.1h0M551.2 146.3h0M558.3 154.5h0M564.7 138.6h0M546.3 152.3h0M533.9 142.9h0M512.9 143.4h0M514.5 141.6h0M581.6 144.9h0M548.8 148.8h0M543.2 149.8h0M549.0 145.4h0M543.5 153.3h0M536.0 151.2h0M530.3 140.6h0M567.2 140.1h0M540.7 145.5h0M537.4 141.1h0M572.1 140.2h0M523.4 140.0h0M556.5 140.9h0M557.8 142.8h0M538.4 149.8h0M570.8 144.8h0M565.7 142.7h0M532.1 142.1h0M534.9 149.8h0M553.7 154.9h0M558.5 144.0h0M566.0 145.5h0M544.2 143.8h0M560.9 143.0h0M562.2 149.9h0M534.8 143.6h0M555.1 148.4h0M530.7 141.8h0M548.9 139.7h0M559.7 141.2h0M549.5 146.5h0M525.2 139.4h0M571.9 144.6h0M544.6 143.7h0M528.3 141.8h0M547.4 156.5h0M536.5 150.8h0M573.6 146.1h0M583.5 140.1h0M562.6 139.8h0M543.3 150.8h0M517.7 149.1h0M574.3 149.9h0" stroke="#b8b8b8" stroke-width="3.0" stroke-linecap="round" stroke-opacity="0.7" fill="none"/>
<path d="M578.5 142.2h0M555.0 156.4h0M533.8 148.7h0M558.9 148.8h0M530.2 146.7h0M549.0 146.5h0M535.8 140.5h0M545.1 153.1h0M562.9 148.6h0M546.7 152.3h0M522.4 138.7h0M523.0 142.6h0M537.8 144.8h0M566.1 146.8h0M543.3 148.4h0M563.1 140.1h0M516.9 144.2h0M548.9 155.3h0M559.1 151.8h0M581.5 144.0h0M564.4 145.5h0M534.6 142.1h0M549.6 155.2h0M582.5 144.8h0M528.6 140.8h0M560.8 145.0h0M563.8 146.7h0M522.6 141.5h0M540.1 145.2h0M551.4 152.6h0M558.1 143.0h0M544.8 142.1h0M540.7 152.7h0M547.1 142.3h0M572.9 139.3h0M540.6 149.4h0M527.5 140.1h0M578.8 144.7h0M586.4 140.2h0M558.4 146.7h0M516.3 141.3h0M556.0 154.6h0M554.0 151.2h0M544.7 144.4h0M543.5 146.4h0M579.1 138.6h0M547.2 144.5h0M560.3 148.6h0M513.2 138.9h0M533.6 146.7h0M561.9 138.7h0M564.9 148.3h0M545.0 147.6h0M551.6 155.5h0M561.5 153.3h0M557.8 148.4h0M560.1 140.3h0M572.9 139.6h0M532.3 146.2h0M569.3 144.2h0M525.1 144.4h0M556.1 152.2h0M548.6 153.7h0M562.4 138.6h0M581.7 141.1h0M551.7 140.6h0M528.5 144.8h0M532.2 145.6h0M537.6 139.2h0M528.9 141.1h0M544.6 144.8h0M537.4 149.7h0M551.4 152.9h0M539.2 139.0h0M566.9 142.0h0M538.6 146.6h0M553.1 156.6h0M556.6 142.9h0M552.0 154.1h0M539.4 141.0h0M543.9 152.9h0M525.7 144.5h0M522.6 145.0h0M549.1 148.0h0M550.8 151.8h0M551.8 149.3h0M540.7 150.5h0M552.0 154.5h0M561.2 151.4h0M512.7 140.8h0M548.4 150.8h0M559.2 143.1h0M525.4 140.2h0M555.7 147.6h0M544.4 150.6h0M548.4 144.1h0M544.9 141.5h0M541.7 143.3h0M547.0 155.1h0M541.8 140.6h0M584.1 141.1h0M549.5 147.3h0M567.3 150.0h0M552.9 155.7h0M540.4 139.8h0M563.3 140.1h0M552.9 148.1h0M527.3 143.4h0M565.1 143.8h0M545.7 145.7h0M543.6 143.3h0M546.5 150.7h0M545.0 152.1h0M569.2 140.0h0M534.4 142.1h0M546.6 145.1h0M556.3 153.1h0M523.5 142.8h0M549.7 155.9h0M543.6 143.1h0M527.4 139.6h0M553.1 156.5h0M557.1 143.9h0M550.7 151.3h0M550.6 144.4h0M536.1 146.8h0M553.6 141.9h0M561.0 151.0h0M563.2 144.1h0M542.7 153.4h0M533.8 147.8h0M542.1 150.7h0M524.5 139.8h0M542.8 153.7h0M554.3 154.4h0M557.5 144.9h0M541.0 139.0h0M552.1 150.5h0M554.7 154.5h0M556.3 154.0h0M522.1 141.3h0M554.4 143.3h0M559.7 139.9h0M552.0 140.6h0M530.1 147.8h0M534.8 140.8h0M533.1 147.9h0M533.4 140.8h0M564.6 139.7h0M553.7 154.9h0M542.2 144.3h0M553.7 139.1h0M547.1 143.4h0M557.7 141.6h0M566.7 138.9h0M563.0 148.1h0M532.0 147.7h0M554.9 144.6h0M561.2 148.8h0M558.2 147.8h0M539.4 149.2h0M530.5 143.4h0M555.2 140.7h0M546.1 149.7h0M532.6 140.8h0M556.3 152.8h0M540.9 139.3h0M541.3 147.6h0M528.2 138.8h0M551.5 154.9h0M506.6 141.3h0M566.9 150.7h0" stroke="#b8b8b8" stroke-width="3.0" stroke-linecap="round" stroke-opacity="0.7" fill="none"/>
<path d="M548.9 157.3h0M517.3 138.6h0M537.3 147.0h0M571.7 140.4h0M554.8 145.2h0M542.3 142.6h0M571.1 146.5h0M538.2 143.8h0M571.8 142.3h0M555.2 148.1h0M534.0 144.9h0M546.8 154.8h0M544.2 149.0h0M539.8 142.0h0M543.8 148.6h0M537.1 140.8h0M563.2 142.0h0M536.5 146.5h0M550.5 154.6h0M512.4 144.8h0M528.4 140.0h0M540.5 152.3h0M520.2 139.7h0M511.3 140.9h0M538.6 144.0h0M544.8 152.0h0M536.1 148.3h0M576.0 141.8h0M511.6 142.2h0M520.9 142.9h0M544.8 140.3h0M577.5 141.2h0M542.5 142.2h0M561.4 151.9h0M527.2 139.6h0M559.8 142.7h0M573.2 142.9h0M533.9 147.0h0M516.3 144.8h0M546.8 145.0h0M582.1 142.9h0M529.2 142.4h0M561.3 140.7h0M541.8 151.4h0M545.6 142.4h0M563.5 152.3h0M522.8 140.8h0M579.2 142.9h0M543.4 142.3h0M562.6 149.5h0M572.5 144.1h0M550.9 148.9h0M567.3 140.1h0M546.6 151.7h0M532.7 146.7h0M564.4 144.2h0M560.4 153.3h0M548.3 140.8h0M559.8 145.1h0M531.6 142.0h0M567.8 140.3h0M549.6 151.9h0M558.2 140.2h0M542.5 140.8h0M559.4 142.4h0M576.0 145.7h0M568.7 141.4h0M562.6 144.3h0M509.9 138.8h0M559.4 151.0h0M547.8 147.5h0M506.8 142.1h0M537.0 142.1h0M516.5 145.0h0M541.3 138.8h0M548.7 155.1h0M543.4 152.9h0M521.5 145.2h0M550.2 140.1h0M563.7 147.6h0M581.6 144.4h0M554.9 139.5h0M542.5 153.1h0M517.1 138.7h0M551.9 149.3h0M551.2 155.7h0M564.9 143.3h0M557.1 138.6h0M557.4 153.4h0M534.2 150.2h0M515.5 144.5h0M519.0 144.5h0M562.9 144.4h0M555.9 154.5h0M542.7 141.9h0M546.3 155.8h0M560.7 149.9h0M546.3 141.5h0M560.9 145.0h0M531.0 144.4h0M560.2 145.0h0M548.7 150.3h0M562.1 142.1h0M551.1 152.9h0M555.3 151.2h0M571.5 147.6h0M558.1 148.3h0M536.2 142.1h0M575.7 138.6h0M559.9 151.9h0M517.6 144.9h0M554.3 155.2h0M568.2 148.0h0M537.7 144.2h0M539.3 152.7h0M561.7 149.0h0M552.6 150.5h0M546.4 145.8h0M563.4 144.2h0M543.4 148.9h0M577.4 142.2h0M530.0 142.2h0M565.5 144.9h0M566.0 139.5h0M541.6 149.4h0M558.4 148.2h0M533.7 140.3h0M538.3 142.1h0M544.2 139.8h0M553.3 147.6h0M526.6 146.0h0M551.8 150.1h0M545.9 142.8h0M554.4 146.9h0M559.1 147.0h0M543.1 141.5h0M511.6 140.3h0M574.3 145.9h0M553.2 153.7h0M572.1 142.9h0M566.4 147.7h0M564.4 144.0h0M546.8 143.7h0M532.0 144.2h0M552.0 146.1h0M549.9 156.0h0M509.9 141.7h0M555.6 150.4h0M545.9 150.4h0M536.0 151.0h0M548.9 149.6h0M558.9 153.9h0M560.3 147.1h0M539.4 139.5h0M556.9 141.1h0M532.4 143.5h0M524.7 145.2h0M557.0 151.0h0M559.8 148.3h0M532.7 141.0h0M555.3 142.2h0M522.6 139.6h0M548.1 138.8h0M551.2 157.2h0M530.1 148.3h0M576.4 140.5h0M550.1 157.7h0M503.9 143.5h0M585.8 141.3h0" stroke="#b8b8b8" stroke-width="3.0" stroke-linecap="round" stroke-opacity="0.7" fill="none"/>
<path d="M567.3 141.0h0M556.1 147.7h0M534.8 143.3h0M535.0 148.1h0M511.9 143.9h0M516.7 142.7h0M572.3 147.1h0M553.1 144.4h0M571.0 141.0h0M575.9 144.2h0M564.6 150.4h0M529.7 147.8h0M555.6 152.1h0M541.4 139.4h0M547.5 146.8h0M558.2 141.6h0M564.4 146.3h0M535.7 144.2h0M541.4 146.1h0M520.1 144.3h0M551.6 150.3h0M568.7 143.0h0M539.0 145.1h0M582.0 139.1h0M531.6 147.6h0M565.1 146.1h0M552.5 150.5h0M569.9 143.5h0M552.1 151.3h0M553.0 152.6h0M545.0 150.3h0M584.5 141.5h0M564.2 148.4h0M559.1 147.5h0M531.0 148.4h0M547.6 142.5h0M537.0 151.3h0M562.4 141.5h0M557.6 145.5h0M548.1 152.7h0M562.7 146.1h0M573.1 139.5h0" stroke="#b8b8b8" stroke-width="3.5" stroke-linecap="round" stroke-opacity="0.7" fill="none"/>
<path d="M504.6 144.0h0M544.3 147.3h0M554.3 140.5h0M553.2 138.9h0M576.6 142.9h0M576.8 144.2h0M554.6 148.9h0M562.6 139.4h0M555.5 149.6h0M551.9 144.1h0M564.2 146.3h0M541.8 146.1h0M565.2 140.8h0M548.3 149.3h0M568.7 148.0h0M513.8 143.6h0M580.8 141.9h0M544.0 144.1h0M554.7 139.9h0M542.2 138.8h0M548.4 144.8h0M547.9 150.8h0M562.8 144.8h0M571.1 147.9h0M559.6 150.5h0M569.7 140.6h0M550.9 154.6h0M560.1 142.2h0M536.1 140.1h0M559.1 149.8h0M558.4 154.6h0M530.3 142.3h0M538.7 145.7h0M535.2 142.6h0M533.3 146.2h0M554.6 154.3h0M558.2 146.5h0M514.5 141.8h0M529.9 148.5h0M555.3 148.0h0M538.4 139.7h0M546.0 147.1h0M570.8 138.6h0" stroke="#b8b8b8" stroke-width="3.5" stroke-linecap="round" stroke-opacity="0.7" fill="none"/>
<path d="M521.2 138.7h0M531.9 140.5h0M529.2 147.9h0M524.2 142.7h0M511.8 140.4h0M539.3 145.6h0M542.4 152.9h0M540.6 138.7h0M509.6 139.3h0M566.8 149.3h0M519.9 141.1h0M538.3 140.2h0M545.5 145.8h0M534.2 149.6h0M554.7 140.1h0M558.5 152.4h0M546.5 146.0h0M564.8 151.5h0M538.0 148.4h0M539.3 152.9h0M565.7 140.7h0M548.0 153.9h0M578.0 144.3h0M555.5 144.1h0M577.9 139.5h0M545.2 149.9h0M557.8 147.1h0M553.0 151.5h0M535.5 146.0h0M586.6 142.3h0M549.3 141.5h0M521.6 141.6h0M568.4 139.2h0M548.3 150.7h0M540.2 143.7h0M555.4 145.1h0M533.6 142.5h0M544.0 141.5h0" stroke="#b8b8b8" stroke-width="3.5" stroke-linecap="round" stroke-opacity="0.7" fill="none"/>
<path d="M542.5 118.6h0M537.8 125.9h0M544.5 116.0h0M543.1 123.5h0M544.9 134.1h0M531.9 134.8h0M549.3 129.8h0M531.8 128.7h0M537.0 130.2h0M534.8 133.7h0M526.5 126.2h0M533.3 136.2h0M528.6 137.7h0M520.1 137.5h0M522.6 136.4h0M527.3 131.1h0M535.7 130.4h0M546.9 131.5h0M515.1 133.9h0M548.6 126.2h0M527.7 136.8h0M514.0 136.8h0M533.9 127.2h0M541.2 122.2h0M545.8 117.6h0M534.6 135.3h0M530.8 133.3h0M548.2 126.9h0M543.6 125.8h0M522.0 130.3h0M523.7 132.2h0M537.5 137.4h0M532.3 138.0h0M517.1 134.7h0M539.9 130.7h0M533.4 131.5h0M531.1 124.3h0M539.6 136.4h0M546.5 133.0h0M525.3 127.1h0M530.2 126.2h0M548.6 123.2h0M532.2 131.3h0M541.1 129.3h0M524.4 133.4h0M517.8 136.2h0M527.1 132.0h0" stroke="#6b93cc" stroke-width="3.0" stroke-linecap="round" stroke-opacity="0.7" fill="none"/>
<path d="M539.5 125.6h0M539.3 121.2h0M543.6 125.7h0M549.8 125.1h0M544.4 114.5h0M539.0 137.4h0M532.9 133.5h0M516.6 132.2h0M544.6 137.8h0M526.8 130.9h0M542.8 125.4h0M541.4 137.1h0M548.0 116.5h0M544.5 134.8h0M542.3 134.8h0M529.9 132.1h0M531.8 131.7h0M541.3 125.1h0M529.4 131.3h0M515.2 136.5h0M548.3 120.8h0M542.2 119.4h0M517.2 133.6h0M545.1 135.6h0M529.5 129.6h0M531.0 122.6h0M524.1 128.6h0M528.5 137.3h0M546.0 136.6h0M546.8 124.5h0M549.1 127.3h0M533.8 130.7h0M538.1 128.6h0M537.2 125.5h0M535.0 129.5h0M539.7 133.7h0M538.3 127.3h0M526.7 133.5h0M541.1 128.2h0M533.3 128.9h0M542.2 119.8h0M541.2 124.3h0M535.2 121.4h0M543.0 130.0h0M525.0 131.1h0M513.3 135.8h0M514.3 137.2h0M542.8 126.3h0" stroke="#6b93cc" stroke-width="3.0" stroke-linecap="round" stroke-opacity="0.7" fill="none"/>
<path d="M538.3 137.6h0M549.0 128.5h0M516.4 133.5h0M541.3 136.1h0M522.3 135.1h0M537.8 137.2h0M525.4 137.3h0M521.8 136.2h0M534.8 137.1h0M539.7 122.4h0M538.1 135.3h0M535.7 132.9h0M524.9 131.7h0M547.9 133.0h0M549.2 115.6h0M547.4 127.4h0M541.6 120.3h0M516.5 135.8h0M548.6 137.0h0M549.5 125.4h0M547.3 130.2h0M528.6 134.8h0M522.2 132.3h0M538.6 118.5h0M535.9 130.7h0M545.1 117.0h0M514.4 136.8h0M532.9 124.0h0M543.6 131.3h0M521.3 131.9h0M517.9 132.7h0M539.0 128.3h0M533.3 128.3h0M545.1 119.0h0M532.2 133.3h0M543.5 115.4h0M540.3 123.1h0M543.5 136.9h0M519.9 137.7h0M545.8 134.9h0M514.6 135.0h0M546.8 131.6h0M533.4 134.5h0M539.0 132.6h0M542.1 121.1h0M544.0 130.3h0M535.9 137.3h0M549.2 134.2h0M528.0 136.0h0M530.0 137.9h0M527.8 130.8h0M542.1 133.9h0" stroke="#6b93cc" stroke-width="3.0" stroke-linecap="round" stroke-opacity="0.7" fill="none"/>
<path d="M548.3 125.7h0M529.7 132.9h0M515.1 135.2h0M543.4 118.2h0M544.7 117.2h0M542.1 120.9h0M547.2 116.0h0M530.3 132.3h0M535.4 121.1h0M543.5 136.3h0M540.2 122.6h0M527.8 135.3h0M549.2 124.9h0M543.8 115.1h0M534.2 124.5h0M531.9 132.0h0M547.6 117.6h0M542.4 129.4h0M527.0 125.0h0M548.5 115.2h0M545.8 124.1h0M543.4 125.4h0M547.4 131.7h0M534.7 137.4h0M548.0 125.2h0M540.9 131.3h0M531.1 124.3h0M520.0 137.7h0M538.2 137.6h0M534.6 125.0h0M533.9 124.4h0M535.2 130.8h0M535.5 123.3h0M547.4 130.1h0M520.7 133.7h0M533.9 126.6h0M544.7 120.5h0M526.6 136.5h0M540.7 126.6h0M543.9 125.4h0M537.0 136.2h0M534.5 125.3h0M526.1 128.0h0M540.6 127.7h0M539.0 136.3h0M532.6 132.9h0M521.3 132.5h0M541.7 117.6h0M537.2 120.3h0M548.8 132.9h0M546.0 114.7h0M547.6 136.3h0M547.3 124.5h0M519.0 131.7h0M530.5 132.0h0M529.6 133.4h0M547.2 118.7h0M543.4 114.4h0M515.4 134.5h0M545.1 126.2h0M531.1 134.7h0M535.9 135.4h0M543.3 136.2h0M532.3 129.4h0M528.7 125.6h0M525.7 129.6h0M537.0 135.9h0M525.3 128.8h0M548.5 115.8h0M542.0 131.7h0M507.1 125.8h0M517.2 138.2h0M527.8 118.1h0M536.1 75.5h0M541.1 94.9h0M540.2 104.9h0M547.1 105.7h0M542.1 111.1h0" stroke="#6b93cc" stroke-width="3.5" stroke-linecap="round" stroke-opacity="0.7" fill="none"/>
<path d="M544.0 113.7h0M543.8 115.8h0M530.6 137.8h0M547.8 126.5h0M534.2 135.6h0M536.4 129.7h0M529.6 131.4h0M527.3 132.6h0M521.4 137.6h0M535.2 136.2h0M520.2 130.6h0M515.6 137.6h0M529.0 127.7h0M544.9 115.1h0M523.9 133.6h0M518.9 133.2h0M542.9 116.0h0M540.1 134.7h0M536.6 137.2h0M549.4 120.3h0M515.8 135.9h0M549.5 118.4h0M528.9 129.9h0M523.7 130.3h0M539.2 123.4h0M537.7 137.5h0M548.3 119.8h0M536.5 135.4h0M548.3 134.6h0M537.4 128.3h0M541.3 124.1h0M524.5 133.3h0M524.7 138.1h0M529.6 130.9h0M516.7 134.3h0M541.2 134.0h0M538.9 121.2h0M546.7 114.2h0M540.2 134.6h0M541.7 125.9h0M538.4 134.2h0M536.0 135.7h0M542.7 119.9h0M543.5 131.9h0M544.1 130.7h0M535.2 136.4h0M543.9 120.7h0M523.2 131.3h0M545.5 114.9h0M542.7 136.9h0M528.1 126.1h0M544.3 124.3h0M533.3 123.2h0M544.8 130.5h0M534.0 121.5h0M547.0 131.8h0M546.8 116.4h0M541.4 117.4h0M525.4 134.5h0M546.6 128.2h0M541.6 134.9h0M515.7 133.9h0M513.5 136.7h0M522.3 132.1h0M531.0 119.7h0M541.6 77.0h0M543.4 98.0h0M545.3 104.2h0M538.8 113.5h0M548.0 111.9h0" stroke="#6b93cc" stroke-width="3.5" stroke-linecap="round" stroke-opacity="0.7" fill="none"/>
<path d="M542.6 132.0h0M518.9 136.6h0M549.5 123.2h0M533.9 130.3h0M522.2 133.2h0M536.3 130.7h0M528.5 124.9h0M538.9 135.3h0M534.1 122.5h0M523.8 135.2h0M545.6 120.1h0M514.2 136.8h0M541.3 116.2h0M543.7 127.9h0M531.8 130.9h0M548.2 118.3h0M516.7 136.0h0M539.4 122.8h0M524.0 130.4h0M519.2 134.2h0M528.5 127.9h0M545.9 121.8h0M539.8 133.4h0M536.7 132.1h0M547.6 115.4h0M542.4 124.3h0M535.9 136.9h0M517.2 134.9h0M523.2 137.6h0M523.0 135.7h0M544.2 133.2h0M546.4 135.0h0M549.0 118.6h0M541.6 127.7h0M537.8 125.7h0M519.8 133.1h0M543.9 127.1h0M545.1 129.4h0M536.9 135.4h0M540.1 129.1h0M547.5 123.5h0M529.0 130.5h0M534.5 126.6h0M534.2 126.6h0M538.0 125.9h0M543.0 121.3h0M527.7 134.6h0M523.8 132.3h0M538.6 126.4h0M521.8 131.4h0M549.7 136.8h0M543.0 132.1h0M530.4 137.7h0M540.7 130.1h0M535.1 133.6h0M531.8 132.8h0M539.2 126.7h0M543.4 123.9h0M527.9 126.5h0M527.6 133.9h0M530.2 134.5h0M548.4 131.5h0M543.3 114.4h0M526.4 129.0h0M516.3 136.7h0M525.5 119.7h0M528.3 122.8h0M541.1 87.1h0M535.6 101.1h0M543.4 107.2h0M543.9 116.6h0" stroke="#6b93cc" stroke-width="3.5" stroke-linecap="round" stroke-opacity="0.7" fill="none"/>
<path d="M529.4 135.3h0M531.0 132.6h0M540.7 124.9h0M524.9 137.2h0M544.8 130.5h0M532.7 134.4h0M535.5 134.2h0M549.1 122.7h0M543.9 120.3h0M517.5 137.5h0" stroke="#6b93cc" stroke-width="4.0" stroke-linecap="round" stroke-opacity="0.7" fill="none"/>
<path d="M529.7 134.6h0M546.4 116.1h0M540.4 119.6h0M525.2 133.4h0M541.5 134.1h0M516.9 134.4h0M543.6 129.2h0M542.5 116.0h0M538.2 138.0h0M529.9 131.6h0M544.1 137.1h0M546.2 132.4h0M533.2 134.6h0M545.0 125.1h0M516.5 132.4h0M544.3 119.7h0M497.9 108.8h0" stroke="#6b93cc" stroke-width="4.0" stroke-linecap="round" stroke-opacity="0.7" fill="none"/>
<path d="M537.1 126.0h0M526.1 125.8h0M533.8 121.6h0M546.3 119.5h0M539.8 124.0h0M546.8 136.7h0M547.8 119.0h0M539.5 123.9h0M544.6 136.3h0M530.1 129.1h0M514.4 137.2h0M494.7 115.0h0" stroke="#6b93cc" stroke-width="4.0" stroke-linecap="round" stroke-opacity="0.7" fill="none"/>
<path d="M556.2 111.8h0M588.4 126.5h0M569.9 137.2h0M558.9 129.8h0M564.8 122.2h0M596.9 125.1h0M589.9 125.2h0M558.0 135.7h0M578.2 112.5h0M562.9 89.8h0M563.1 112.3h0M571.6 119.0h0M559.7 105.7h0M568.9 128.2h0M564.5 128.7h0M613.6 122.3h0M565.0 90.3h0M562.7 99.8h0M567.8 128.4h0M562.8 109.5h0M559.5 132.0h0M569.6 99.6h0M559.4 112.8h0M564.2 104.6h0M565.4 91.2h0M559.4 137.5h0M565.3 125.4h0M614.1 123.3h0M566.6 91.4h0M562.9 86.8h0M572.5 117.3h0M564.9 96.9h0M563.8 124.1h0M553.6 134.8h0M559.1 105.8h0M553.0 116.3h0M570.1 120.1h0M557.5 128.4h0M611.0 122.6h0M558.6 123.0h0M561.2 80.7h0M584.0 131.4h0M590.3 117.4h0M563.1 129.7h0M573.5 134.7h0M575.5 125.0h0M571.8 128.9h0" stroke="#e06464" stroke-width="3.0" stroke-linecap="round" stroke-opacity="0.7" fill="none"/>
<path d="M559.9 117.4h0M567.3 118.9h0M572.0 122.4h0M566.1 119.6h0M557.3 108.5h0M573.2 130.7h0M578.2 135.9h0M559.9 126.7h0M562.9 100.4h0M564.2 110.1h0M567.4 134.2h0M573.9 123.7h0M562.1 102.5h0M556.3 106.9h0M577.5 136.2h0M583.9 131.6h0M579.5 132.8h0M557.4 101.8h0M577.4 127.8h0M554.7 136.9h0M569.0 118.4h0M570.0 99.8h0M558.2 97.3h0M555.1 126.5h0M581.9 124.9h0M564.4 105.4h0M577.7 126.0h0M557.2 118.3h0M554.6 104.4h0M555.9 129.2h0M565.2 129.4h0M557.2 121.1h0M568.3 105.0h0M561.1 80.2h0M564.6 97.2h0M568.1 136.5h0M562.3 125.4h0M563.5 120.2h0M558.5 94.1h0M560.7 113.8h0M575.9 114.3h0M593.7 121.6h0" stroke="#e06464" stroke-width="3.0" stroke-linecap="round" stroke-opacity="0.7" fill="none"/>
<path d="M564.2 104.6h0M560.7 114.3h0M592.2 118.6h0M578.7 118.9h0M569.1 121.1h0M562.1 98.7h0M571.3 106.1h0M580.4 135.6h0M577.9 115.4h0M563.3 120.9h0M560.0 107.5h0M555.5 120.6h0M571.4 107.5h0M556.3 125.5h0M559.4 136.0h0M555.8 101.4h0M555.0 134.7h0M566.0 89.4h0M584.1 132.0h0M576.3 126.8h0M568.9 112.8h0M556.8 99.6h0M597.1 120.6h0M572.9 137.3h0M561.0 107.0h0M558.1 93.6h0M559.5 114.3h0M570.9 126.5h0M553.3 111.8h0M566.4 95.4h0M571.1 111.3h0M565.3 97.4h0M570.2 125.6h0M591.7 118.5h0M572.5 127.5h0M557.9 105.4h0M554.3 118.3h0M552.2 136.7h0M568.1 101.2h0M555.5 107.6h0M565.3 108.7h0M562.1 81.2h0M559.9 81.8h0M568.2 108.0h0" stroke="#e06464" stroke-width="3.0" stroke-linecap="round" stroke-opacity="0.7" fill="none"/>
<path d="M559.9 84.5h0M581.0 130.1h0M559.8 136.7h0M593.7 120.6h0M559.8 116.3h0M560.4 95.4h0M570.4 110.2h0M563.1 92.2h0M562.7 120.1h0M575.7 119.6h0M571.3 116.6h0M565.2 87.4h0M573.9 131.6h0M570.9 113.1h0M589.4 119.4h0M585.8 127.1h0M557.5 114.4h0M561.2 94.9h0M605.9 121.5h0M575.6 114.6h0M572.6 107.8h0M553.4 131.7h0M567.9 120.2h0M569.3 124.4h0M563.1 108.5h0M567.6 109.6h0M571.5 129.3h0M557.4 93.0h0M584.5 116.4h0M569.2 134.1h0M566.1 137.0h0M588.6 117.3h0M553.6 135.4h0M594.6 122.4h0M583.7 125.1h0M602.2 123.1h0M558.5 95.1h0M564.2 84.1h0M557.8 120.1h0M561.8 112.3h0M553.5 111.4h0M568.6 122.1h0M558.1 98.2h0M557.5 97.0h0M574.9 109.9h0M597.3 119.9h0M594.4 119.0h0M563.3 97.6h0M560.1 91.2h0M559.8 90.2h0M560.8 107.0h0M561.8 112.4h0M560.0 122.0h0M563.0 102.6h0M608.6 120.2h0M564.2 92.7h0M554.7 126.6h0M567.1 114.7h0M589.3 120.9h0M579.8 112.4h0M564.0 96.4h0M556.0 99.6h0M556.4 134.9h0M583.3 116.6h0M560.1 114.1h0M567.9 108.8h0M566.8 94.6h0M586.2 125.7h0M552.4 136.7h0M579.9 135.9h0M562.6 100.4h0M558.2 133.1h0M572.2 124.2h0M608.6 122.1h0M577.1 117.8h0M559.1 130.1h0M553.2 111.2h0M568.7 136.8h0M558.4 101.2h0M593.7 120.4h0M568.9 126.4h0M610.6 119.1h0M561.9 89.6h0M615.4 123.0h0M582.2 127.7h0M573.4 116.2h0M564.1 101.3h0M562.3 138.1h0M560.8 116.1h0M552.1 137.2h0M567.0 93.1h0M553.9 123.4h0M567.8 95.6h0M569.2 102.5h0M560.8 94.9h0M577.8 113.0h0M565.2 84.5h0M565.3 114.4h0M569.9 111.2h0M557.5 102.7h0M569.1 120.3h0M552.3 134.5h0M562.5 99.1h0M555.5 116.6h0M558.0 85.0h0M554.9 117.3h0M554.8 132.1h0M584.7 121.7h0M587.5 116.7h0M566.4 98.0h0M564.0 121.0h0M559.6 90.8h0M562.1 105.1h0M554.5 117.0h0M596.7 124.7h0M581.0 122.1h0M563.4 116.4h0M552.1 136.6h0M606.6 121.5h0M564.7 122.1h0M608.6 120.4h0M567.3 111.1h0M571.5 115.1h0M569.4 133.6h0M555.9 134.6h0M573.7 137.7h0M573.0 107.6h0M571.7 126.5h0M554.7 135.8h0M561.8 126.3h0M563.5 119.7h0M561.7 125.2h0M563.7 113.7h0M563.1 113.2h0M558.4 91.7h0M552.4 129.9h0M566.9 122.2h0M555.2 103.4h0M576.3 118.9h0M584.9 118.5h0M555.3 123.1h0M565.4 89.1h0M566.5 129.5h0M585.0 121.0h0M569.2 137.7h0M553.8 119.2h0M576.5 134.9h0M571.4 113.3h0M561.1 124.8h0M559.8 87.3h0M557.2 135.7h0M581.3 137.0h0M554.9 132.0h0M557.6 107.4h0M565.2 113.0h0M557.9 92.4h0M593.7 120.3h0M559.8 83.7h0M573.3 127.9h0M563.9 88.2h0M558.2 113.0h0M554.5 122.0h0M555.9 130.3h0M553.7 114.7h0M576.8 137.3h0M563.0 105.9h0M576.8 137.1h0M605.3 119.8h0M586.3 119.4h0M563.7 94.0h0M559.8 113.1h0M574.7 133.1h0M563.1 89.0h0M569.4 125.8h0M586.0 121.8h0M560.5 76.3h0M566.0 80.9h0M564.4 72.4h0M566.4 73.2h0M596.8 130.5h0M599.6 118.1h0M573.8 102.6h0M580.7 105.7h0" stroke="#e06464" stroke-width="3.5" stroke-linecap="round" stroke-opacity="0.7" fill="none"/>
<path d="M574.9 133.7h0M561.5 90.9h0M565.5 135.5h0M569.0 112.6h0M569.9 117.5h0M561.6 85.4h0M556.2 113.3h0M570.9 125.9h0M564.8 126.2h0M559.6 136.1h0M554.7 134.3h0M578.5 122.5h0M566.3 122.9h0M575.0 123.6h0M560.1 131.6h0M571.1 129.6h0M615.9 120.6h0M566.5 100.1h0M563.1 96.2h0M570.1 102.1h0M593.8 121.7h0M555.8 113.5h0M564.4 90.6h0M570.5 131.8h0M558.9 130.6h0M557.0 104.6h0M568.4 103.5h0M563.9 112.3h0M553.4 131.9h0M553.0 114.5h0M593.0 119.9h0M578.0 136.6h0M575.9 109.5h0M596.4 118.9h0M567.4 95.9h0M572.1 129.8h0M564.3 89.5h0M568.2 105.7h0M576.0 121.6h0M569.3 111.7h0M564.7 91.7h0M567.5 121.1h0M566.4 92.0h0M604.9 122.8h0M559.7 110.4h0M560.0 94.1h0M557.1 129.7h0M588.5 120.9h0M566.1 89.6h0M570.9 125.9h0M578.6 128.4h0M571.7 128.9h0M559.2 94.4h0M558.5 89.7h0M552.7 134.8h0M568.6 111.2h0M575.3 126.2h0M558.7 133.2h0M566.0 131.9h0M563.8 109.5h0M562.0 113.8h0M557.1 89.4h0M570.7 121.3h0M596.3 118.5h0M605.0 123.7h0M562.5 131.5h0M565.7 86.0h0M570.8 138.1h0M569.6 118.6h0M554.4 135.8h0M573.1 117.5h0M568.7 133.5h0M617.2 122.4h0M570.6 130.1h0M562.6 105.9h0M555.7 100.7h0M565.2 103.5h0M607.9 121.7h0M576.7 127.5h0M565.6 99.9h0M561.1 127.7h0M566.9 130.9h0M572.1 130.2h0M567.0 91.3h0M560.5 94.9h0M559.7 101.2h0M575.1 123.2h0M616.3 120.5h0M557.0 132.1h0M566.0 124.4h0M592.6 121.2h0M555.9 96.3h0M565.3 87.4h0M560.9 95.2h0M556.2 131.0h0M557.4 94.4h0M563.0 111.9h0M568.1 130.1h0M564.8 124.3h0M566.7 96.2h0M568.8 106.4h0M555.3 124.3h0M569.1 117.3h0M567.3 122.4h0M606.1 124.1h0M552.6 123.8h0M565.8 117.9h0M567.8 132.2h0M556.8 96.0h0M553.3 121.2h0M565.7 117.4h0M579.7 135.1h0M559.6 108.6h0M559.0 128.2h0M573.7 107.8h0M560.9 108.5h0M613.5 120.8h0M571.0 116.4h0M588.1 124.6h0M570.4 135.9h0M604.6 121.7h0M565.7 116.3h0M584.8 123.9h0M568.2 104.3h0M555.8 111.8h0M575.5 109.5h0M562.6 98.8h0M557.7 130.8h0M564.7 115.2h0M600.7 121.7h0M560.1 108.1h0M560.7 91.6h0M560.5 111.0h0M559.2 134.0h0M590.8 120.5h0M558.5 108.9h0M560.7 88.9h0M557.9 91.1h0M561.9 108.5h0M564.7 98.9h0M562.0 120.3h0M559.1 124.3h0M571.0 120.8h0M566.7 138.1h0M557.9 100.4h0M569.0 103.1h0M565.4 131.3h0M594.1 120.8h0M567.4 104.0h0M558.1 114.9h0M559.4 115.8h0M597.8 120.8h0M571.8 114.4h0M572.7 136.3h0M557.7 118.8h0M566.0 112.0h0M565.2 109.9h0M569.0 136.2h0M573.4 114.7h0M565.8 116.5h0M561.8 136.4h0M599.9 119.0h0M561.1 132.1h0M562.4 88.0h0M572.3 110.9h0M581.5 136.7h0M562.4 111.4h0M557.0 96.4h0M565.0 98.4h0M563.5 134.7h0M559.5 92.8h0M553.6 136.7h0M572.5 128.7h0M567.8 120.2h0M577.6 137.9h0M575.5 120.0h0M569.9 110.3h0M574.1 127.7h0M555.1 131.7h0M561.8 73.2h0M563.2 74.7h0M568.0 66.2h0M562.8 71.6h0M567.4 77.8h0M593.1 136.7h0M585.8 108.8h0M572.0 94.9h0M588.1 104.2h0" stroke="#e06464" stroke-width="3.5" stroke-linecap="round" stroke-opacity="0.7" fill="none"/>
<path d="M605.7 124.5h0M567.4 98.1h0M554.3 105.2h0M571.6 128.9h0M562.0 108.4h0M571.8 112.0h0M564.1 117.2h0M560.3 116.7h0M561.4 106.0h0M556.8 89.9h0M581.5 115.8h0M555.4 113.6h0M562.9 92.1h0M562.4 87.7h0M564.4 95.8h0M566.5 112.7h0M567.3 92.4h0M576.0 133.4h0M554.2 130.1h0M597.0 122.7h0M605.2 121.2h0M554.9 116.3h0M578.8 131.7h0M565.1 119.0h0M560.6 125.9h0M577.3 111.8h0M599.6 124.7h0M564.5 101.2h0M565.7 113.7h0M575.2 115.6h0M555.1 114.9h0M554.9 128.6h0M561.4 117.5h0M564.8 85.3h0M556.3 106.1h0M577.5 110.9h0M566.5 126.4h0M566.2 129.8h0M567.5 127.2h0M567.0 130.4h0M574.7 127.6h0M556.4 91.7h0M569.7 129.6h0M553.3 118.1h0M575.0 111.9h0M596.2 119.9h0M573.8 138.0h0M585.5 118.3h0M577.8 112.0h0M562.4 104.9h0M588.1 118.7h0M577.2 120.8h0M574.6 117.4h0M558.8 101.5h0M571.9 115.1h0M570.7 114.8h0M558.1 118.3h0M578.0 123.9h0M560.9 103.1h0M570.0 101.5h0M585.4 122.2h0M552.7 125.2h0M603.0 121.9h0M562.6 92.1h0M563.2 114.3h0M556.4 104.3h0M573.9 125.2h0M564.7 96.2h0M568.4 109.9h0M558.7 126.1h0M580.6 127.8h0M557.8 131.6h0M564.1 91.6h0M556.6 121.6h0M604.7 120.6h0M559.6 126.2h0M599.1 118.7h0M553.7 131.1h0M585.5 129.0h0M562.5 90.4h0M555.2 105.0h0M577.3 117.5h0M562.1 117.9h0M572.4 132.6h0M555.8 100.2h0M553.2 116.8h0M553.2 121.3h0M562.7 110.0h0M567.5 118.7h0M557.0 113.6h0M569.6 121.5h0M563.3 131.0h0M567.3 100.7h0M571.7 125.6h0M552.8 125.3h0M574.7 111.5h0M611.8 122.9h0M562.6 123.5h0M569.8 129.6h0M553.7 128.4h0M562.4 123.2h0M559.2 81.9h0M567.4 99.0h0M560.4 83.7h0M559.4 122.9h0M558.4 85.3h0M573.5 107.0h0M567.5 100.7h0M556.8 95.9h0M565.3 111.4h0M574.6 114.6h0M556.8 111.8h0M566.8 99.0h0M572.1 119.4h0M552.1 137.4h0M560.4 88.9h0M571.7 125.4h0M560.3 110.5h0M561.4 110.9h0M608.3 119.5h0M567.6 120.2h0M558.6 117.7h0M575.2 125.7h0M611.8 124.8h0M567.4 138.1h0M555.8 95.3h0M563.1 110.9h0M552.9 129.2h0M568.4 122.6h0M585.5 123.9h0M570.4 121.8h0M562.6 82.4h0M566.4 129.6h0M579.1 127.1h0M564.4 136.3h0M617.0 121.0h0M555.3 98.6h0M561.9 120.5h0M581.1 113.2h0M570.5 105.9h0M566.6 128.7h0M589.6 117.6h0M568.5 102.3h0M564.5 135.8h0M575.6 127.2h0M556.7 99.0h0M553.9 126.1h0M572.6 111.2h0M569.5 113.5h0M592.0 118.3h0M597.3 119.3h0M574.1 123.2h0M610.6 123.3h0M552.7 126.7h0M578.0 128.1h0M558.2 110.9h0M580.8 130.1h0M567.3 111.6h0M616.1 123.4h0M568.9 136.0h0M552.6 135.7h0M612.1 124.6h0M573.8 137.3h0M566.6 90.4h0M552.4 129.9h0M553.0 127.6h0M569.0 117.2h0M561.8 122.3h0M553.3 135.7h0M559.4 81.6h0M564.0 82.1h0M584.2 130.6h0M571.9 115.0h0M556.2 111.8h0M587.2 124.6h0M561.3 86.6h0M563.8 123.8h0M560.0 80.9h0M558.2 84.0h0M565.1 67.7h0M564.6 70.8h0M595.9 113.5h0M571.5 99.5h0M579.8 104.2h0M590.4 111.9h0" stroke="#e06464" stroke-width="3.5" stroke-linecap="round" stroke-opacity="0.7" fill="none"/>
<path d="M557.3 122.7h0M575.0 112.6h0M608.0 121.7h0M567.0 92.3h0M560.8 115.0h0M568.6 134.0h0M565.7 112.6h0M563.4 111.3h0M558.3 119.6h0M563.2 92.7h0M573.3 130.4h0M600.6 123.0h0M561.0 94.7h0M599.2 119.1h0M571.0 118.9h0M560.7 104.1h0M572.9 126.1h0M566.4 118.9h0M567.9 96.2h0M569.4 104.8h0M577.4 117.6h0M566.4 119.6h0M557.5 127.4h0M570.8 123.3h0M562.7 115.4h0M574.5 133.3h0M569.4 104.7h0M562.9 111.0h0M563.2 89.3h0M578.6 128.1h0M559.8 120.9h0M575.5 128.1h0M615.1 123.1h0M595.7 124.9h0M556.1 129.7h0M566.8 120.7h0M558.7 127.0h0M569.6 119.3h0M561.0 119.3h0M558.0 124.1h0M567.5 94.8h0M557.3 102.3h0M593.9 118.9h0M606.9 123.4h0M591.4 122.3h0M569.6 127.1h0M557.0 88.0h0M597.6 123.4h0M571.5 133.7h0M554.6 104.5h0M570.5 124.6h0M556.0 129.6h0M556.9 97.4h0M558.8 85.7h0M562.7 123.6h0M566.7 99.3h0M600.5 119.8h0M608.2 122.6h0M563.9 114.2h0M604.5 122.5h0M584.9 117.5h0M560.5 119.8h0M554.4 119.9h0M560.3 126.2h0M562.1 87.5h0M559.0 120.7h0M554.7 113.3h0M574.4 106.4h0M554.3 129.7h0M567.0 102.1h0M560.8 91.7h0M578.9 114.2h0M604.5 124.1h0M572.3 117.6h0M555.2 121.8h0M566.1 94.6h0M556.8 100.2h0M562.7 118.4h0M566.8 104.6h0M567.4 100.4h0M560.3 137.0h0M561.8 101.5h0M587.6 125.0h0M557.8 85.1h0M563.2 108.4h0M602.6 122.3h0M555.1 114.2h0M568.0 100.7h0M567.7 121.9h0M560.7 122.0h0M576.2 137.5h0M575.7 116.9h0M559.4 117.0h0M560.3 122.6h0M558.2 122.7h0M572.4 122.7h0M613.2 125.0h0M553.3 119.7h0M573.3 121.2h0M579.3 128.7h0M560.2 80.6h0M559.7 133.1h0M563.3 130.8h0M568.0 112.7h0M594.6 121.9h0M567.7 114.7h0M560.5 85.1h0M580.8 132.7h0M558.9 99.6h0M571.6 125.4h0M578.3 128.1h0M569.9 36.7h0M566.0 50.7h0M568.3 60.0h0M607.4 94.9h0" stroke="#e06464" stroke-width="4.0" stroke-linecap="round" stroke-opacity="0.7" fill="none"/>
<path d="M556.3 92.8h0M568.4 122.2h0M578.6 120.4h0M577.9 137.6h0M560.8 124.6h0M565.4 97.3h0M570.4 102.8h0M578.1 122.1h0M574.8 112.0h0M560.0 116.2h0M563.8 82.5h0M567.5 103.2h0M561.9 118.1h0M569.9 110.2h0M568.0 127.8h0M553.3 127.1h0M576.7 125.1h0M557.3 88.9h0M603.5 123.9h0M564.7 137.9h0M559.1 97.4h0M556.8 101.4h0M583.1 134.8h0M601.4 123.6h0M568.0 131.9h0M563.0 117.3h0M572.2 103.5h0M560.3 134.3h0M571.0 106.7h0M563.2 98.3h0M563.5 104.0h0M557.7 96.2h0M567.1 95.3h0M583.8 123.6h0M566.3 88.1h0M557.8 123.5h0M572.6 121.0h0M564.3 127.5h0M555.1 118.4h0M558.3 101.6h0M565.8 100.1h0M556.3 135.0h0M615.9 122.2h0M560.6 91.1h0M591.6 122.5h0M553.4 119.7h0M570.1 128.8h0M555.3 116.6h0M562.4 83.3h0M608.1 119.7h0M561.6 137.4h0M555.4 94.9h0M575.5 133.7h0M574.2 106.1h0M568.7 111.8h0M593.9 122.4h0M563.5 82.5h0M570.3 129.2h0M560.4 84.3h0M570.4 122.4h0M591.9 120.6h0M568.5 115.3h0M562.8 92.7h0M564.2 120.3h0M563.1 104.4h0M554.8 105.7h0M564.1 125.7h0M560.6 136.7h0M616.2 121.7h0M574.4 107.3h0M554.8 128.3h0M566.2 123.8h0M562.2 110.0h0M565.2 106.2h0M565.8 90.0h0M557.2 103.3h0M560.7 92.9h0M562.0 96.1h0M559.4 128.6h0M615.1 124.0h0M563.6 106.5h0M564.4 114.9h0M552.7 133.9h0M571.6 120.5h0M560.9 108.9h0M558.2 121.3h0M581.0 132.7h0M556.9 87.7h0M566.1 126.9h0M564.7 95.9h0M566.7 119.7h0M579.4 122.8h0M553.5 122.8h0M563.6 113.3h0M585.6 125.6h0M577.0 115.5h0M563.0 128.9h0M582.9 126.3h0M573.4 119.5h0M562.6 133.4h0M571.4 136.6h0M568.1 104.7h0M556.4 99.9h0M562.6 115.5h0M569.3 124.9h0M565.5 99.9h0M566.9 135.6h0M568.8 110.6h0M568.0 121.8h0M552.0 136.1h0M571.4 123.1h0M581.7 118.6h0M567.8 42.2h0M567.1 50.7h0M617.0 120.4h0" stroke="#e06464" stroke-width="4.0" stroke-linecap="round" stroke-opacity="0.7" fill="none"/>
<path d="M575.0 109.5h0M566.0 91.9h0M568.8 103.9h0M575.6 108.0h0M569.0 110.8h0M573.5 115.0h0M567.0 102.9h0M565.5 97.5h0M561.2 118.9h0M577.0 113.6h0M564.7 116.4h0M559.0 115.9h0M580.6 133.9h0M601.1 123.3h0M596.6 119.6h0M577.8 126.8h0M552.8 130.4h0M612.6 122.8h0M571.0 116.7h0M567.0 95.5h0M585.9 129.3h0M556.7 96.2h0M553.2 129.9h0M564.3 104.8h0M572.5 122.9h0M556.6 105.3h0M581.5 134.9h0M566.2 96.4h0M556.7 108.3h0M556.4 119.7h0M570.1 104.0h0M559.7 99.2h0M568.6 132.5h0M568.6 113.8h0M554.4 134.3h0M563.2 129.4h0M571.0 108.8h0M575.8 119.7h0M562.6 92.4h0M560.9 104.1h0M566.0 87.9h0M564.8 97.5h0M582.1 124.8h0M558.1 111.2h0M564.0 83.1h0M566.8 94.6h0M552.7 136.9h0M563.4 103.1h0M574.6 120.3h0M569.2 123.9h0M587.6 128.2h0M555.7 137.2h0M575.2 125.8h0M570.3 137.9h0M571.3 104.2h0M554.6 124.3h0M552.3 132.1h0M558.1 93.0h0M560.3 112.5h0M553.2 128.8h0M616.5 123.2h0M568.3 96.5h0M555.8 126.9h0M565.3 85.4h0M560.9 87.3h0M562.0 82.2h0M556.9 125.7h0M559.4 119.2h0M566.3 108.6h0M569.1 132.4h0M556.6 100.0h0M556.3 124.9h0M592.0 123.6h0M566.9 101.7h0M555.0 130.1h0M583.9 130.3h0M560.5 129.5h0M576.2 124.4h0M555.7 133.5h0M570.1 125.4h0M574.6 124.4h0M568.8 132.9h0M566.1 101.5h0M559.4 90.7h0M572.8 130.0h0M572.8 130.8h0M567.6 136.6h0M560.4 116.5h0M591.3 124.1h0M564.5 108.6h0M570.8 106.1h0M609.5 119.9h0M571.6 127.2h0M570.7 125.9h0M573.4 110.1h0M560.9 81.9h0M573.6 112.4h0M557.7 106.2h0M580.9 136.3h0M560.5 106.1h0M559.4 93.3h0M559.0 131.5h0M552.5 131.2h0M572.1 114.6h0M570.2 120.4h0M563.2 84.4h0M557.2 122.3h0M567.4 130.9h0M563.8 93.8h0M566.5 91.1h0M555.0 137.9h0M573.3 106.2h0M590.9 117.8h0M568.7 46.8h0M569.0 51.5h0M583.5 91.8h0M616.1 122.8h0" stroke="#e06464" stroke-width="4.0" stroke-linecap="round" stroke-opacity="0.7" fill="none"/>
</g>
<rect x="477.4" y="31.2" width="146.9" height="133" fill="none" stroke="#555" stroke-width="0.7"/>
<line x1="504.8" y1="164.2" x2="504.8" y2="166" stroke="#555" stroke-width="0.6"/>
<text x="504.8" y="172.27" font-size="6.85" text-anchor="middle">-10</text>
<line x1="550.8" y1="164.2" x2="550.8" y2="166" stroke="#555" stroke-width="0.6"/>
<text x="550.8" y="172.27" font-size="6.85" text-anchor="middle">0</text>
<line x1="596.8" y1="164.2" x2="596.8" y2="166" stroke="#555" stroke-width="0.6"/>
<text x="596.8" y="172.27" font-size="6.85" text-anchor="middle">10</text>
<line x1="475.6" y1="158.4" x2="477.4" y2="158.4" stroke="#555" stroke-width="0.6"/>
<text x="474.6" y="160.87" font-size="6.85" text-anchor="end">0</text>
<line x1="475.6" y1="127.4" x2="477.4" y2="127.4" stroke="#555" stroke-width="0.6"/>
<text x="474.6" y="129.87" font-size="6.85" text-anchor="end">2</text>
<line x1="475.6" y1="96.4" x2="477.4" y2="96.4" stroke="#555" stroke-width="0.6"/>
<text x="474.6" y="98.87" font-size="6.85" text-anchor="end">4</text>
<line x1="475.6" y1="65.4" x2="477.4" y2="65.4" stroke="#555" stroke-width="0.6"/>
<text x="474.6" y="67.87" font-size="6.85" text-anchor="end">6</text>
<line x1="475.6" y1="34.4" x2="477.4" y2="34.4" stroke="#555" stroke-width="0.6"/>
<text x="474.6" y="36.87" font-size="6.85" text-anchor="end">8</text>
<text x="584.5" y="47.07" font-size="6.3">Up: 3020</text>
<text x="584.5" y="56.47" font-size="6.3">Down: 381</text>
<text x="550.8" y="181.8" font-size="6.85" text-anchor="middle">log<tspan font-size="4.5" dy="1.6">2</tspan><tspan dy="-1.6"> Fold Change</tspan></text>
<text x="460.6" y="101.6" font-size="6.85" text-anchor="middle" transform="rotate(-90 460.6 101.6)" dy="2.4">-log<tspan font-size="4.5" dy="1.6">10</tspan><tspan dy="-1.6"> P-value</tspan></text>
<text x="629.6" y="50.97" font-size="6.85">Status</text>
<circle cx="634.3" cy="55.9" r="1.1" fill="#6b93cc"/>
<text x="637.2" y="58.37" font-size="6.85">down-regulated</text>
<circle cx="634.3" cy="63.8" r="1.1" fill="#b8b8b8"/>
<text x="637.2" y="66.27" font-size="6.85">not significnat</text>
<circle cx="634.3" cy="71.7" r="1.1" fill="#e06464"/>
<text x="637.2" y="74.17" font-size="6.85">up-regulated</text>
<text x="629.6" y="87.37" font-size="6.85">VIP</text>
<circle cx="634.6" cy="92.2" r="0.8" fill="#000"/>
<text x="637.2" y="94.67" font-size="6.85">0.0</text>
<circle cx="634.3" cy="100.7" r="2" fill="#000"/>
<text x="636.4" y="103.17" font-size="6.85">2.0</text>
<text x="-0.5" y="217.8" font-size="8.3" font-weight="bold" style="fill:#000;stroke:#000">D</text>
<rect x="160.3" y="219.5" width="129.4" height="134.1" fill="#fff"/>
<line x1="182.8" y1="219.5" x2="182.8" y2="353.6" stroke="#e3e3e3" stroke-width="0.6"/>
<line x1="212.1" y1="219.5" x2="212.1" y2="353.6" stroke="#e3e3e3" stroke-width="0.6"/>
<line x1="241.4" y1="219.5" x2="241.4" y2="353.6" stroke="#e3e3e3" stroke-width="0.6"/>
<line x1="270.7" y1="219.5" x2="270.7" y2="353.6" stroke="#e3e3e3" stroke-width="0.6"/>
<line x1="160.3" y1="224.4" x2="289.7" y2="224.4" stroke="#e3e3e3" stroke-width="0.6"/>
<line x1="160.3" y1="233.33" x2="289.7" y2="233.33" stroke="#e3e3e3" stroke-width="0.6"/>
<line x1="160.3" y1="242.26" x2="289.7" y2="242.26" stroke="#e3e3e3" stroke-width="0.6"/>
<line x1="160.3" y1="251.19" x2="289.7" y2="251.19" stroke="#e3e3e3" stroke-width="0.6"/>
<line x1="160.3" y1="260.12" x2="289.7" y2="260.12" stroke="#e3e3e3" stroke-width="0.6"/>
<line x1="160.3" y1="269.05" x2="289.7" y2="269.05" stroke="#e3e3e3" stroke-width="0.6"/>
<line x1="160.3" y1="277.98" x2="289.7" y2="277.98" stroke="#e3e3e3" stroke-width="0.6"/>
<line x1="160.3" y1="286.91" x2="289.7" y2="286.91" stroke="#e3e3e3" stroke-width="0.6"/>
<line x1="160.3" y1="295.84" x2="289.7" y2="295.84" stroke="#e3e3e3" stroke-width="0.6"/>
<line x1="160.3" y1="304.77" x2="289.7" y2="304.77" stroke="#e3e3e3" stroke-width="0.6"/>
<line x1="160.3" y1="313.7" x2="289.7" y2="313.7" stroke="#e3e3e3" stroke-width="0.6"/>
<line x1="160.3" y1="322.63" x2="289.7" y2="322.63" stroke="#e3e3e3" stroke-width="0.6"/>
<line x1="160.3" y1="331.56" x2="289.7" y2="331.56" stroke="#e3e3e3" stroke-width="0.6"/>
<line x1="160.3" y1="340.49" x2="289.7" y2="340.49" stroke="#e3e3e3" stroke-width="0.6"/>
<line x1="160.3" y1="349.42" x2="289.7" y2="349.42" stroke="#e3e3e3" stroke-width="0.6"/>
<line x1="160.3" y1="219.5" x2="289.7" y2="219.5" stroke="#999" stroke-width="0.7"/>
<line x1="289.7" y1="219.5" x2="289.7" y2="353.6" stroke="#cfcfcf" stroke-width="0.7"/>
<line x1="160.3" y1="219.2" x2="160.3" y2="353.6" stroke="#444" stroke-width="0.7"/>
<line x1="160.3" y1="353.6" x2="290" y2="353.6" stroke="#444" stroke-width="0.7"/>
<line x1="158.7" y1="224.4" x2="160.3" y2="224.4" stroke="#444" stroke-width="0.5"/>
<text x="157.8" y="226.37" font-size="6.85" text-anchor="end">Arginine and proline metabolism</text>
<circle cx="165.81" cy="224.4" r="2.09" fill="#3b3fb8"/>
<line x1="158.7" y1="233.33" x2="160.3" y2="233.33" stroke="#444" stroke-width="0.5"/>
<text x="157.8" y="235.3" font-size="6.85" text-anchor="end">Cysteine and methionine metabolism</text>
<circle cx="167.15" cy="233.33" r="2.09" fill="#5a3cb2"/>
<line x1="158.7" y1="242.26" x2="160.3" y2="242.26" stroke="#444" stroke-width="0.5"/>
<text x="157.8" y="244.23" font-size="6.85" text-anchor="end">Retrograde endocannabinoid signaling</text>
<circle cx="216.55" cy="242.26" r="1.54" fill="#7c3aa8"/>
<line x1="158.7" y1="251.19" x2="160.3" y2="251.19" stroke="#444" stroke-width="0.5"/>
<text x="157.8" y="253.16" font-size="6.85" text-anchor="end">Glycerophospholipid metabolism</text>
<circle cx="176.06" cy="251.19" r="1.98" fill="#c43390"/>
<line x1="158.7" y1="260.12" x2="160.3" y2="260.12" stroke="#444" stroke-width="0.5"/>
<text x="157.8" y="262.09" font-size="6.85" text-anchor="end">beta−Alanine metabolism</text>
<circle cx="196.86" cy="260.12" r="1.87" fill="#d8306a"/>
<line x1="158.7" y1="269.05" x2="160.3" y2="269.05" stroke="#444" stroke-width="0.5"/>
<text x="157.8" y="271.02" font-size="6.85" text-anchor="end">Mineral absorption</text>
<circle cx="204.42" cy="269.05" r="1.87" fill="#df3550"/>
<line x1="158.7" y1="277.98" x2="160.3" y2="277.98" stroke="#444" stroke-width="0.5"/>
<text x="157.8" y="279.95" font-size="6.85" text-anchor="end">Alanine, aspartate and glutamate metabolism</text>
<circle cx="207.65" cy="277.98" r="1.87" fill="#e03548"/>
<line x1="158.7" y1="286.91" x2="160.3" y2="286.91" stroke="#444" stroke-width="0.5"/>
<text x="157.8" y="288.88" font-size="6.85" text-anchor="end">Choline metabolism in cancer</text>
<circle cx="284.06" cy="286.91" r="1.54" fill="#e03a35"/>
<line x1="158.7" y1="295.84" x2="160.3" y2="295.84" stroke="#444" stroke-width="0.5"/>
<text x="157.8" y="297.86" font-size="7" text-anchor="end" font-weight="bold" font-style="italic" style="fill:#e05e2e;stroke:#e05e2e">Central carbon metabolism in cancer</text>
<circle cx="203.08" cy="295.84" r="1.98" fill="#e03a35"/>
<line x1="158.7" y1="304.77" x2="160.3" y2="304.77" stroke="#444" stroke-width="0.5"/>
<text x="157.8" y="306.74" font-size="6.85" text-anchor="end">Nucleotide metabolism</text>
<circle cx="184.15" cy="304.77" r="2.2" fill="#e03a35"/>
<line x1="158.7" y1="313.7" x2="160.3" y2="313.7" stroke="#444" stroke-width="0.5"/>
<text x="157.8" y="315.67" font-size="6.85" text-anchor="end">Aminoacyl−tRNA biosynthesis</text>
<circle cx="191.47" cy="313.7" r="2.2" fill="#e03a35"/>
<line x1="158.7" y1="322.63" x2="160.3" y2="322.63" stroke="#444" stroke-width="0.5"/>
<text x="157.8" y="324.6" font-size="6.85" text-anchor="end">Biosynthesis of amino acids</text>
<circle cx="173.89" cy="322.63" r="2.97" fill="#e03a35"/>
<line x1="158.7" y1="331.56" x2="160.3" y2="331.56" stroke="#444" stroke-width="0.5"/>
<text x="157.8" y="333.53" font-size="6.85" text-anchor="end">D−Amino acid metabolism</text>
<circle cx="200.38" cy="331.56" r="2.53" fill="#e03a35"/>
<line x1="158.7" y1="340.49" x2="160.3" y2="340.49" stroke="#444" stroke-width="0.5"/>
<text x="157.8" y="342.46" font-size="6.85" text-anchor="end">Protein digestion and absorption</text>
<circle cx="223.88" cy="340.49" r="2.53" fill="#e03a35"/>
<line x1="158.7" y1="349.42" x2="160.3" y2="349.42" stroke="#444" stroke-width="0.5"/>
<text x="157.8" y="351.39" font-size="6.85" text-anchor="end">ABC transporters</text>
<circle cx="191.71" cy="349.42" r="3.52" fill="#e03a35"/>
<line x1="182.8" y1="353.6" x2="182.8" y2="355.2" stroke="#444" stroke-width="0.5"/>
<text x="183.8" y="361.06" font-size="6" text-anchor="middle" style="fill:#333;stroke:#333">0.10</text>
<line x1="212.1" y1="353.6" x2="212.1" y2="355.2" stroke="#444" stroke-width="0.5"/>
<text x="213.1" y="361.06" font-size="6" text-anchor="middle" style="fill:#333;stroke:#333">0.15</text>
<line x1="241.4" y1="353.6" x2="241.4" y2="355.2" stroke="#444" stroke-width="0.5"/>
<text x="242.4" y="361.06" font-size="6" text-anchor="middle" style="fill:#333;stroke:#333">0.20</text>
<line x1="270.7" y1="353.6" x2="270.7" y2="355.2" stroke="#444" stroke-width="0.5"/>
<text x="271.7" y="361.06" font-size="6" text-anchor="middle" style="fill:#333;stroke:#333">0.25</text>
<text x="230" y="373.72" font-size="7" text-anchor="middle" font-weight="bold">Rich factor</text>
<text x="13" y="292.57" font-size="6.85" text-anchor="middle" transform="rotate(-90 13 290.1)">KEGG Pathway</text>
<text x="292.3" y="235.97" font-size="6.85">P_value</text>
<defs><linearGradient id="pvd" x1="0" y1="0" x2="0" y2="1"><stop offset="0" stop-color="#4a3cc0"/><stop offset="0.5" stop-color="#a43aa0"/><stop offset="1" stop-color="#e8343a"/></linearGradient></defs>
<rect x="294" y="238.4" width="2.6" height="14.3" fill="url(#pvd)"/>
<text x="297.8" y="247.07" font-size="6.85">0.002</text>
<text x="297.8" y="253.47" font-size="6.85">0.001</text>
<text x="294" y="276.77" font-size="6.85">Count</text>
<circle cx="299.3" cy="280.6" r="1.3" fill="#000"/>
<text x="306.2" y="283.07" font-size="6.85">3</text>
<circle cx="299.3" cy="286.2" r="2" fill="#000"/>
<text x="306.2" y="288.67" font-size="6.85">6</text>
<circle cx="299.3" cy="292.5" r="2.5" fill="#000"/>
<text x="306.2" y="294.97" font-size="6.85">9</text>
<circle cx="299.3" cy="299.7" r="2.8" fill="#000"/>
<text x="305" y="302.17" font-size="6.85">12</text>
<circle cx="299.3" cy="308.1" r="3.2" fill="#000"/>
<text x="305" y="310.57" font-size="6.85">15</text>
<text x="378.8" y="217.8" font-size="8.3" font-weight="bold" style="fill:#000;stroke:#000">E</text>
<rect x="524.8" y="223.6" width="134" height="134.5" fill="#fff"/>
<line x1="551.3" y1="223.6" x2="551.3" y2="358.1" stroke="#e3e3e3" stroke-width="0.6"/>
<line x1="584.5" y1="223.6" x2="584.5" y2="358.1" stroke="#e3e3e3" stroke-width="0.6"/>
<line x1="617.7" y1="223.6" x2="617.7" y2="358.1" stroke="#e3e3e3" stroke-width="0.6"/>
<line x1="650.9" y1="223.6" x2="650.9" y2="358.1" stroke="#e3e3e3" stroke-width="0.6"/>
<line x1="524.8" y1="228.6" x2="658.8" y2="228.6" stroke="#e3e3e3" stroke-width="0.6"/>
<line x1="524.8" y1="237.54" x2="658.8" y2="237.54" stroke="#e3e3e3" stroke-width="0.6"/>
<line x1="524.8" y1="246.48" x2="658.8" y2="246.48" stroke="#e3e3e3" stroke-width="0.6"/>
<line x1="524.8" y1="255.42" x2="658.8" y2="255.42" stroke="#e3e3e3" stroke-width="0.6"/>
<line x1="524.8" y1="264.36" x2="658.8" y2="264.36" stroke="#e3e3e3" stroke-width="0.6"/>
<line x1="524.8" y1="273.3" x2="658.8" y2="273.3" stroke="#e3e3e3" stroke-width="0.6"/>
<line x1="524.8" y1="282.24" x2="658.8" y2="282.24" stroke="#e3e3e3" stroke-width="0.6"/>
<line x1="524.8" y1="291.18" x2="658.8" y2="291.18" stroke="#e3e3e3" stroke-width="0.6"/>
<line x1="524.8" y1="300.12" x2="658.8" y2="300.12" stroke="#e3e3e3" stroke-width="0.6"/>
<line x1="524.8" y1="309.06" x2="658.8" y2="309.06" stroke="#e3e3e3" stroke-width="0.6"/>
<line x1="524.8" y1="318" x2="658.8" y2="318" stroke="#e3e3e3" stroke-width="0.6"/>
<line x1="524.8" y1="326.94" x2="658.8" y2="326.94" stroke="#e3e3e3" stroke-width="0.6"/>
<line x1="524.8" y1="335.88" x2="658.8" y2="335.88" stroke="#e3e3e3" stroke-width="0.6"/>
<line x1="524.8" y1="344.82" x2="658.8" y2="344.82" stroke="#e3e3e3" stroke-width="0.6"/>
<line x1="524.8" y1="353.76" x2="658.8" y2="353.76" stroke="#e3e3e3" stroke-width="0.6"/>
<line x1="524.8" y1="223.6" x2="658.8" y2="223.6" stroke="#999" stroke-width="0.7"/>
<line x1="658.8" y1="223.6" x2="658.8" y2="358.1" stroke="#cfcfcf" stroke-width="0.7"/>
<line x1="524.8" y1="223.3" x2="524.8" y2="358.1" stroke="#444" stroke-width="0.7"/>
<line x1="524.8" y1="358.1" x2="659.1" y2="358.1" stroke="#444" stroke-width="0.7"/>
<line x1="523.2" y1="228.6" x2="524.8" y2="228.6" stroke="#444" stroke-width="0.5"/>
<text x="522.3" y="230.57" font-size="6.85" text-anchor="end">Choline metabolism in cancer</text>
<circle cx="652.89" cy="228.6" r="1.32" fill="#2f4fb0"/>
<line x1="523.2" y1="237.54" x2="524.8" y2="237.54" stroke="#444" stroke-width="0.5"/>
<text x="522.3" y="239.51" font-size="6.85" text-anchor="end">Prolactin signaling pathway</text>
<circle cx="652.89" cy="237.54" r="1.32" fill="#2f4fb0"/>
<line x1="523.2" y1="246.48" x2="524.8" y2="246.48" stroke="#444" stroke-width="0.5"/>
<text x="522.3" y="248.45" font-size="6.85" text-anchor="end">Lysine degradation</text>
<circle cx="531.05" cy="246.48" r="1.98" fill="#b43aa8"/>
<line x1="523.2" y1="255.42" x2="524.8" y2="255.42" stroke="#444" stroke-width="0.5"/>
<text x="522.3" y="257.39" font-size="6.85" text-anchor="end">Glycerophospholipid metabolism</text>
<circle cx="531.05" cy="255.42" r="1.98" fill="#b43aa8"/>
<line x1="523.2" y1="264.36" x2="524.8" y2="264.36" stroke="#444" stroke-width="0.5"/>
<text x="522.3" y="266.33" font-size="6.85" text-anchor="end">Glycine, serine and threonine metabolism</text>
<circle cx="544" cy="264.36" r="1.76" fill="#cc3070"/>
<line x1="523.2" y1="273.3" x2="524.8" y2="273.3" stroke="#444" stroke-width="0.5"/>
<text x="522.3" y="275.27" font-size="6.85" text-anchor="end">Mineral absorption</text>
<circle cx="604.53" cy="273.3" r="1.65" fill="#e03a35"/>
<line x1="523.2" y1="282.24" x2="524.8" y2="282.24" stroke="#444" stroke-width="0.5"/>
<text x="522.3" y="284.26" font-size="7" text-anchor="end" font-weight="bold" font-style="italic" style="fill:#e05e2e;stroke:#e05e2e">Central carbon metabolism in cancer</text>
<circle cx="601.32" cy="282.24" r="1.87" fill="#e03a35"/>
<line x1="523.2" y1="291.18" x2="524.8" y2="291.18" stroke="#444" stroke-width="0.5"/>
<text x="522.3" y="293.15" font-size="6.85" text-anchor="end">Fructose and mannose metabolism</text>
<circle cx="572.33" cy="291.18" r="2.09" fill="#e03a35"/>
<line x1="523.2" y1="300.12" x2="524.8" y2="300.12" stroke="#444" stroke-width="0.5"/>
<text x="522.3" y="302.09" font-size="6.85" text-anchor="end">Aminoacyl−tRNA biosynthesis</text>
<circle cx="579.41" cy="300.12" r="2.09" fill="#e03a35"/>
<line x1="523.2" y1="309.06" x2="524.8" y2="309.06" stroke="#444" stroke-width="0.5"/>
<text x="522.3" y="311.03" font-size="6.85" text-anchor="end">Purine metabolism</text>
<circle cx="539.68" cy="309.06" r="2.64" fill="#e03a35"/>
<line x1="523.2" y1="318" x2="524.8" y2="318" stroke="#444" stroke-width="0.5"/>
<text x="522.3" y="319.97" font-size="6.85" text-anchor="end">D−Amino acid metabolism</text>
<circle cx="564.25" cy="318" r="2.31" fill="#e03a35"/>
<line x1="523.2" y1="326.94" x2="524.8" y2="326.94" stroke="#444" stroke-width="0.5"/>
<text x="522.3" y="328.91" font-size="6.85" text-anchor="end">Biosynthesis of amino acids</text>
<circle cx="538.35" cy="326.94" r="2.75" fill="#e03a35"/>
<line x1="523.2" y1="335.88" x2="524.8" y2="335.88" stroke="#444" stroke-width="0.5"/>
<text x="522.3" y="337.85" font-size="6.85" text-anchor="end">Protein digestion and absorption</text>
<circle cx="616.7" cy="335.88" r="2.42" fill="#e03a35"/>
<line x1="523.2" y1="344.82" x2="524.8" y2="344.82" stroke="#444" stroke-width="0.5"/>
<text x="522.3" y="346.79" font-size="6.85" text-anchor="end">Nucleotide metabolism</text>
<circle cx="623.45" cy="344.82" r="2.64" fill="#e03a35"/>
<line x1="523.2" y1="353.76" x2="524.8" y2="353.76" stroke="#444" stroke-width="0.5"/>
<text x="522.3" y="355.73" font-size="6.85" text-anchor="end">ABC transporters</text>
<circle cx="564.03" cy="353.76" r="3.52" fill="#e03a35"/>
<line x1="551.3" y1="358.1" x2="551.3" y2="359.7" stroke="#444" stroke-width="0.5"/>
<text x="552.3" y="365.56" font-size="6" text-anchor="middle" style="fill:#333;stroke:#333">0.09</text>
<line x1="584.5" y1="358.1" x2="584.5" y2="359.7" stroke="#444" stroke-width="0.5"/>
<text x="585.5" y="365.56" font-size="6" text-anchor="middle" style="fill:#333;stroke:#333">0.12</text>
<line x1="617.7" y1="358.1" x2="617.7" y2="359.7" stroke="#444" stroke-width="0.5"/>
<text x="618.7" y="365.56" font-size="6" text-anchor="middle" style="fill:#333;stroke:#333">0.15</text>
<line x1="650.9" y1="358.1" x2="650.9" y2="359.7" stroke="#444" stroke-width="0.5"/>
<text x="651.9" y="365.56" font-size="6" text-anchor="middle" style="fill:#333;stroke:#333">0.18</text>
<text x="605.9" y="379.22" font-size="7" text-anchor="middle" font-weight="bold">Rich factor</text>
<text x="389" y="291.77" font-size="6.85" text-anchor="middle" transform="rotate(-90 389 289.3)">KEGG Pathway</text>
<text x="660.1" y="245.17" font-size="6.85">P_value</text>
<defs><linearGradient id="pve" x1="0" y1="0" x2="0" y2="1"><stop offset="0" stop-color="#3a4cc0"/><stop offset="0.45" stop-color="#b03aa4"/><stop offset="1" stop-color="#e8343a"/></linearGradient></defs>
<rect x="663.2" y="248.9" width="2.4" height="15" fill="url(#pve)"/>
<text x="666.2" y="253.67" font-size="6.85">0.006</text>
<text x="666.2" y="258.87" font-size="6.85">0.004</text>
<text x="666.2" y="264.07" font-size="6.85">0.002</text>
<text x="660.5" y="282.37" font-size="6.85">Count</text>
<circle cx="664.3" cy="287.4" r="1.9" fill="#000"/>
<text x="668.8" y="290.07" font-size="6.85">5</text>
<circle cx="664.3" cy="294.2" r="2.8" fill="#000"/>
<text x="666.6" y="296.87" font-size="6.85">10</text>
<text x="-0.8" y="410.3" font-size="8.3" font-weight="bold" style="fill:#000;stroke:#000">F</text>
<circle cx="13.1" cy="419.1" r="2.7" fill="none" stroke="#e0704a" stroke-width="0.8"/>
<text x="17.6" y="421.72" font-size="7">si-NC</text>
<circle cx="49.9" cy="419.1" r="2.7" fill="none" stroke="#4a4ab8" stroke-width="0.8"/>
<text x="54.4" y="421.72" font-size="7">si-SKA3</text>
<rect x="34.9" y="459.07" width="4.8" height="56.53" fill="#d9696b" stroke="#555" stroke-width="0.5"/>
<line x1="37.3" y1="459.07" x2="37.3" y2="453.41" stroke="#d9696b" stroke-width="0.7"/>
<line x1="36.1" y1="453.41" x2="38.5" y2="453.41" stroke="#d9696b" stroke-width="0.7"/>
<circle cx="37.65" cy="453.78" r="0.8" fill="none" stroke="#e07070" stroke-width="0.5"/>
<circle cx="37.25" cy="450.13" r="0.8" fill="none" stroke="#e07070" stroke-width="0.5"/>
<circle cx="38.1" cy="456.52" r="0.8" fill="none" stroke="#e07070" stroke-width="0.5"/>
<circle cx="37.33" cy="447.31" r="0.8" fill="none" stroke="#e07070" stroke-width="0.5"/>
<circle cx="36.01" cy="464.04" r="0.8" fill="none" stroke="#e07070" stroke-width="0.5"/>
<circle cx="36.96" cy="459.23" r="0.8" fill="none" stroke="#e07070" stroke-width="0.5"/>
<rect x="41.9" y="511.64" width="4.7" height="3.96" fill="#3d5fa8" stroke="#555" stroke-width="0.5"/>
<line x1="44.25" y1="511.64" x2="44.25" y2="509.95" stroke="#3d5fa8" stroke-width="0.7"/>
<line x1="43.05" y1="509.95" x2="45.45" y2="509.95" stroke="#3d5fa8" stroke-width="0.7"/>
<circle cx="45.01" cy="512.31" r="0.8" fill="none" stroke="#5070c0" stroke-width="0.5"/>
<circle cx="43.55" cy="512.04" r="0.8" fill="none" stroke="#5070c0" stroke-width="0.5"/>
<circle cx="45.54" cy="511.58" r="0.8" fill="none" stroke="#5070c0" stroke-width="0.5"/>
<circle cx="44.87" cy="511.05" r="0.8" fill="none" stroke="#5070c0" stroke-width="0.5"/>
<circle cx="43.04" cy="509.65" r="0.8" fill="none" stroke="#5070c0" stroke-width="0.5"/>
<circle cx="43.81" cy="513.63" r="0.8" fill="none" stroke="#5070c0" stroke-width="0.5"/>
<rect x="51.8" y="457.94" width="4.8" height="57.66" fill="#d9696b" stroke="#555" stroke-width="0.5"/>
<line x1="54.2" y1="457.94" x2="54.2" y2="451.15" stroke="#d9696b" stroke-width="0.7"/>
<line x1="53" y1="451.15" x2="55.4" y2="451.15" stroke="#d9696b" stroke-width="0.7"/>
<circle cx="55.38" cy="461.97" r="0.8" fill="none" stroke="#e07070" stroke-width="0.5"/>
<circle cx="53.86" cy="457.87" r="0.8" fill="none" stroke="#e07070" stroke-width="0.5"/>
<circle cx="53.22" cy="449.48" r="0.8" fill="none" stroke="#e07070" stroke-width="0.5"/>
<circle cx="55.31" cy="445.53" r="0.8" fill="none" stroke="#e07070" stroke-width="0.5"/>
<circle cx="53.79" cy="467.81" r="0.8" fill="none" stroke="#e07070" stroke-width="0.5"/>
<circle cx="54.16" cy="454.94" r="0.8" fill="none" stroke="#e07070" stroke-width="0.5"/>
<rect x="58.4" y="512.21" width="4.7" height="3.39" fill="#3d5fa8" stroke="#555" stroke-width="0.5"/>
<line x1="60.75" y1="512.21" x2="60.75" y2="510.51" stroke="#3d5fa8" stroke-width="0.7"/>
<line x1="59.55" y1="510.51" x2="61.95" y2="510.51" stroke="#3d5fa8" stroke-width="0.7"/>
<circle cx="61.7" cy="511.99" r="0.8" fill="none" stroke="#5070c0" stroke-width="0.5"/>
<circle cx="60.06" cy="511.69" r="0.8" fill="none" stroke="#5070c0" stroke-width="0.5"/>
<circle cx="61.97" cy="511.94" r="0.8" fill="none" stroke="#5070c0" stroke-width="0.5"/>
<circle cx="61.77" cy="513.57" r="0.8" fill="none" stroke="#5070c0" stroke-width="0.5"/>
<circle cx="60.96" cy="512.1" r="0.8" fill="none" stroke="#5070c0" stroke-width="0.5"/>
<circle cx="61.35" cy="515.03" r="0.8" fill="none" stroke="#5070c0" stroke-width="0.5"/>
<line x1="32.4" y1="430.4" x2="32.4" y2="516" stroke="#1a1a1a" stroke-width="1"/>
<line x1="32" y1="515.6" x2="66.3" y2="515.6" stroke="#1a1a1a" stroke-width="1"/>
<line x1="27.7" y1="515.6" x2="32.4" y2="515.6" stroke="#1a1a1a" stroke-width="0.9"/>
<text x="27.2" y="518.07" font-size="6.85" text-anchor="end">0.0</text>
<line x1="27.7" y1="487.33" x2="32.4" y2="487.33" stroke="#1a1a1a" stroke-width="0.9"/>
<text x="27.2" y="489.8" font-size="6.85" text-anchor="end">0.5</text>
<line x1="27.7" y1="459.07" x2="32.4" y2="459.07" stroke="#1a1a1a" stroke-width="0.9"/>
<text x="27.2" y="461.53" font-size="6.85" text-anchor="end">1.0</text>
<line x1="27.7" y1="430.8" x2="32.4" y2="430.8" stroke="#1a1a1a" stroke-width="0.9"/>
<text x="27.2" y="433.27" font-size="6.85" text-anchor="end">1.5</text>
<text x="49.3" y="429.47" font-size="6.85" text-anchor="middle" font-style="italic">SKA3</text>
<line x1="35.2" y1="435.6" x2="46.4" y2="435.6" stroke="#333" stroke-width="0.7"/>
<text x="40.8" y="436.22" font-size="5.6" text-anchor="middle">***</text>
<line x1="51.6" y1="435.6" x2="63" y2="435.6" stroke="#333" stroke-width="0.7"/>
<text x="57.3" y="436.22" font-size="5.6" text-anchor="middle">***</text>
<text x="42.6" y="518.5" font-size="6.85" text-anchor="end" transform="rotate(-45 42.6 518.5)" dy="4.4">A549</text>
<text x="61.6" y="518.5" font-size="6.85" text-anchor="end" transform="rotate(-45 61.6 518.5)" dy="4.4">A549-LMs</text>
<rect x="90.2" y="481" width="4.8" height="34.6" fill="#d9696b" stroke="#555" stroke-width="0.5"/>
<line x1="92.6" y1="481" x2="92.6" y2="476.93" stroke="#d9696b" stroke-width="0.7"/>
<line x1="91.4" y1="476.93" x2="93.8" y2="476.93" stroke="#d9696b" stroke-width="0.7"/>
<circle cx="93.45" cy="477.01" r="0.8" fill="none" stroke="#e07070" stroke-width="0.5"/>
<circle cx="91.82" cy="477.14" r="0.8" fill="none" stroke="#e07070" stroke-width="0.5"/>
<circle cx="92.36" cy="471.96" r="0.8" fill="none" stroke="#e07070" stroke-width="0.5"/>
<circle cx="92.25" cy="485.74" r="0.8" fill="none" stroke="#e07070" stroke-width="0.5"/>
<circle cx="93.89" cy="485.6" r="0.8" fill="none" stroke="#e07070" stroke-width="0.5"/>
<circle cx="92.31" cy="479.55" r="0.8" fill="none" stroke="#e07070" stroke-width="0.5"/>
<rect x="97.2" y="495.25" width="4.7" height="20.35" fill="#3d5fa8" stroke="#555" stroke-width="0.5"/>
<line x1="99.55" y1="495.25" x2="99.55" y2="493.55" stroke="#3d5fa8" stroke-width="0.7"/>
<line x1="98.35" y1="493.55" x2="100.75" y2="493.55" stroke="#3d5fa8" stroke-width="0.7"/>
<circle cx="100.12" cy="494.36" r="0.8" fill="none" stroke="#5070c0" stroke-width="0.5"/>
<circle cx="100.83" cy="495.1" r="0.8" fill="none" stroke="#5070c0" stroke-width="0.5"/>
<circle cx="99.68" cy="497.61" r="0.8" fill="none" stroke="#5070c0" stroke-width="0.5"/>
<circle cx="100.2" cy="495.19" r="0.8" fill="none" stroke="#5070c0" stroke-width="0.5"/>
<circle cx="99.7" cy="494.76" r="0.8" fill="none" stroke="#5070c0" stroke-width="0.5"/>
<circle cx="99.87" cy="492.5" r="0.8" fill="none" stroke="#5070c0" stroke-width="0.5"/>
<rect x="107.1" y="478.29" width="4.8" height="37.31" fill="#d9696b" stroke="#555" stroke-width="0.5"/>
<line x1="109.5" y1="478.29" x2="109.5" y2="471.5" stroke="#d9696b" stroke-width="0.7"/>
<line x1="108.3" y1="471.5" x2="110.7" y2="471.5" stroke="#d9696b" stroke-width="0.7"/>
<circle cx="109.11" cy="476.19" r="0.8" fill="none" stroke="#e07070" stroke-width="0.5"/>
<circle cx="110.61" cy="473.78" r="0.8" fill="none" stroke="#e07070" stroke-width="0.5"/>
<circle cx="109" cy="484.55" r="0.8" fill="none" stroke="#e07070" stroke-width="0.5"/>
<circle cx="108.47" cy="469.27" r="0.8" fill="none" stroke="#e07070" stroke-width="0.5"/>
<circle cx="110.22" cy="464.62" r="0.8" fill="none" stroke="#e07070" stroke-width="0.5"/>
<circle cx="109.17" cy="472.31" r="0.8" fill="none" stroke="#e07070" stroke-width="0.5"/>
<rect x="113.7" y="498.64" width="4.7" height="16.96" fill="#3d5fa8" stroke="#555" stroke-width="0.5"/>
<line x1="116.05" y1="498.64" x2="116.05" y2="493.55" stroke="#3d5fa8" stroke-width="0.7"/>
<line x1="114.85" y1="493.55" x2="117.25" y2="493.55" stroke="#3d5fa8" stroke-width="0.7"/>
<circle cx="117.09" cy="502.37" r="0.8" fill="none" stroke="#5070c0" stroke-width="0.5"/>
<circle cx="117.24" cy="507.01" r="0.8" fill="none" stroke="#5070c0" stroke-width="0.5"/>
<circle cx="117.25" cy="513.95" r="0.8" fill="none" stroke="#5070c0" stroke-width="0.5"/>
<circle cx="116.29" cy="488.51" r="0.8" fill="none" stroke="#5070c0" stroke-width="0.5"/>
<circle cx="115.73" cy="493.37" r="0.8" fill="none" stroke="#5070c0" stroke-width="0.5"/>
<circle cx="115.39" cy="503.39" r="0.8" fill="none" stroke="#5070c0" stroke-width="0.5"/>
<line x1="87.7" y1="430.4" x2="87.7" y2="516" stroke="#1a1a1a" stroke-width="1"/>
<line x1="87.3" y1="515.6" x2="121.6" y2="515.6" stroke="#1a1a1a" stroke-width="1"/>
<line x1="83" y1="515.6" x2="87.7" y2="515.6" stroke="#1a1a1a" stroke-width="0.9"/>
<text x="82.5" y="518.07" font-size="6.85" text-anchor="end">0.0</text>
<line x1="83" y1="498.64" x2="87.7" y2="498.64" stroke="#1a1a1a" stroke-width="0.9"/>
<text x="82.5" y="501.11" font-size="6.85" text-anchor="end">0.5</text>
<line x1="83" y1="481.68" x2="87.7" y2="481.68" stroke="#1a1a1a" stroke-width="0.9"/>
<text x="82.5" y="484.15" font-size="6.85" text-anchor="end">1.0</text>
<line x1="83" y1="464.72" x2="87.7" y2="464.72" stroke="#1a1a1a" stroke-width="0.9"/>
<text x="82.5" y="467.19" font-size="6.85" text-anchor="end">1.5</text>
<line x1="83" y1="447.76" x2="87.7" y2="447.76" stroke="#1a1a1a" stroke-width="0.9"/>
<text x="82.5" y="450.23" font-size="6.85" text-anchor="end">2.0</text>
<line x1="83" y1="430.8" x2="87.7" y2="430.8" stroke="#1a1a1a" stroke-width="0.9"/>
<text x="82.5" y="433.27" font-size="6.85" text-anchor="end">2.5</text>
<text x="104.6" y="429.47" font-size="6.85" text-anchor="middle" font-style="italic">HK2</text>
<line x1="90.5" y1="435.6" x2="101.7" y2="435.6" stroke="#333" stroke-width="0.7"/>
<text x="96.1" y="436.22" font-size="5.6" text-anchor="middle">***</text>
<line x1="106.9" y1="435.6" x2="118.3" y2="435.6" stroke="#333" stroke-width="0.7"/>
<text x="112.6" y="436.22" font-size="5.6" text-anchor="middle">**</text>
<text x="97.9" y="518.5" font-size="6.85" text-anchor="end" transform="rotate(-45 97.9 518.5)" dy="4.4">A549</text>
<text x="116.9" y="518.5" font-size="6.85" text-anchor="end" transform="rotate(-45 116.9 518.5)" dy="4.4">A549-LMs</text>
<rect x="145.5" y="472.35" width="4.8" height="43.25" fill="#d9696b" stroke="#555" stroke-width="0.5"/>
<line x1="147.9" y1="472.35" x2="147.9" y2="468.11" stroke="#d9696b" stroke-width="0.7"/>
<line x1="146.7" y1="468.11" x2="149.1" y2="468.11" stroke="#d9696b" stroke-width="0.7"/>
<circle cx="146.78" cy="470.2" r="0.8" fill="none" stroke="#e07070" stroke-width="0.5"/>
<circle cx="148.69" cy="474.48" r="0.8" fill="none" stroke="#e07070" stroke-width="0.5"/>
<circle cx="148.78" cy="471.48" r="0.8" fill="none" stroke="#e07070" stroke-width="0.5"/>
<circle cx="146.74" cy="478.13" r="0.8" fill="none" stroke="#e07070" stroke-width="0.5"/>
<circle cx="147.69" cy="472.56" r="0.8" fill="none" stroke="#e07070" stroke-width="0.5"/>
<circle cx="147.04" cy="468.15" r="0.8" fill="none" stroke="#e07070" stroke-width="0.5"/>
<rect x="152.5" y="489.31" width="4.7" height="26.29" fill="#3d5fa8" stroke="#555" stroke-width="0.5"/>
<line x1="154.85" y1="489.31" x2="154.85" y2="486.34" stroke="#3d5fa8" stroke-width="0.7"/>
<line x1="153.65" y1="486.34" x2="156.05" y2="486.34" stroke="#3d5fa8" stroke-width="0.7"/>
<circle cx="155.89" cy="486.38" r="0.8" fill="none" stroke="#5070c0" stroke-width="0.5"/>
<circle cx="156.11" cy="487.94" r="0.8" fill="none" stroke="#5070c0" stroke-width="0.5"/>
<circle cx="154.21" cy="489.42" r="0.8" fill="none" stroke="#5070c0" stroke-width="0.5"/>
<circle cx="156.04" cy="493.38" r="0.8" fill="none" stroke="#5070c0" stroke-width="0.5"/>
<circle cx="153.62" cy="494.99" r="0.8" fill="none" stroke="#5070c0" stroke-width="0.5"/>
<circle cx="154.1" cy="490.23" r="0.8" fill="none" stroke="#5070c0" stroke-width="0.5"/>
<rect x="162.4" y="472.78" width="4.8" height="42.82" fill="#d9696b" stroke="#555" stroke-width="0.5"/>
<line x1="164.8" y1="472.78" x2="164.8" y2="470.66" stroke="#d9696b" stroke-width="0.7"/>
<line x1="163.6" y1="470.66" x2="166" y2="470.66" stroke="#d9696b" stroke-width="0.7"/>
<circle cx="165.79" cy="470.39" r="0.8" fill="none" stroke="#e07070" stroke-width="0.5"/>
<circle cx="165.06" cy="476.63" r="0.8" fill="none" stroke="#e07070" stroke-width="0.5"/>
<circle cx="165.71" cy="475.78" r="0.8" fill="none" stroke="#e07070" stroke-width="0.5"/>
<circle cx="164.3" cy="471.27" r="0.8" fill="none" stroke="#e07070" stroke-width="0.5"/>
<circle cx="165.5" cy="474.77" r="0.8" fill="none" stroke="#e07070" stroke-width="0.5"/>
<circle cx="163.53" cy="473.21" r="0.8" fill="none" stroke="#e07070" stroke-width="0.5"/>
<rect x="169" y="482.53" width="4.7" height="33.07" fill="#3d5fa8" stroke="#555" stroke-width="0.5"/>
<line x1="171.35" y1="482.53" x2="171.35" y2="479.98" stroke="#3d5fa8" stroke-width="0.7"/>
<line x1="170.15" y1="479.98" x2="172.55" y2="479.98" stroke="#3d5fa8" stroke-width="0.7"/>
<circle cx="170.11" cy="485.52" r="0.8" fill="none" stroke="#5070c0" stroke-width="0.5"/>
<circle cx="171.59" cy="489.49" r="0.8" fill="none" stroke="#5070c0" stroke-width="0.5"/>
<circle cx="171.57" cy="486.22" r="0.8" fill="none" stroke="#5070c0" stroke-width="0.5"/>
<circle cx="170.72" cy="487.21" r="0.8" fill="none" stroke="#5070c0" stroke-width="0.5"/>
<circle cx="172.4" cy="488.92" r="0.8" fill="none" stroke="#5070c0" stroke-width="0.5"/>
<circle cx="170.4" cy="478.22" r="0.8" fill="none" stroke="#5070c0" stroke-width="0.5"/>
<line x1="143" y1="430.4" x2="143" y2="516" stroke="#1a1a1a" stroke-width="1"/>
<line x1="142.6" y1="515.6" x2="176.9" y2="515.6" stroke="#1a1a1a" stroke-width="1"/>
<line x1="138.3" y1="515.6" x2="143" y2="515.6" stroke="#1a1a1a" stroke-width="0.9"/>
<text x="137.8" y="518.07" font-size="6.85" text-anchor="end">0.0</text>
<line x1="138.3" y1="494.4" x2="143" y2="494.4" stroke="#1a1a1a" stroke-width="0.9"/>
<text x="137.8" y="496.87" font-size="6.85" text-anchor="end">0.5</text>
<line x1="138.3" y1="473.2" x2="143" y2="473.2" stroke="#1a1a1a" stroke-width="0.9"/>
<text x="137.8" y="475.67" font-size="6.85" text-anchor="end">1.0</text>
<line x1="138.3" y1="452" x2="143" y2="452" stroke="#1a1a1a" stroke-width="0.9"/>
<text x="137.8" y="454.47" font-size="6.85" text-anchor="end">1.5</text>
<line x1="138.3" y1="430.8" x2="143" y2="430.8" stroke="#1a1a1a" stroke-width="0.9"/>
<text x="137.8" y="433.27" font-size="6.85" text-anchor="end">2.0</text>
<text x="159.9" y="429.47" font-size="6.85" text-anchor="middle" font-style="italic">PKM2</text>
<line x1="145.8" y1="435.6" x2="157" y2="435.6" stroke="#333" stroke-width="0.7"/>
<text x="151.4" y="436.22" font-size="5.6" text-anchor="middle">**</text>
<line x1="162.2" y1="435.6" x2="173.6" y2="435.6" stroke="#333" stroke-width="0.7"/>
<text x="167.9" y="436.22" font-size="5.6" text-anchor="middle">**</text>
<text x="153.2" y="518.5" font-size="6.85" text-anchor="end" transform="rotate(-45 153.2 518.5)" dy="4.4">A549</text>
<text x="172.2" y="518.5" font-size="6.85" text-anchor="end" transform="rotate(-45 172.2 518.5)" dy="4.4">A549-LMs</text>
<rect x="200.8" y="459.07" width="4.8" height="56.53" fill="#d9696b" stroke="#555" stroke-width="0.5"/>
<line x1="203.2" y1="459.07" x2="203.2" y2="457.37" stroke="#d9696b" stroke-width="0.7"/>
<line x1="202" y1="457.37" x2="204.4" y2="457.37" stroke="#d9696b" stroke-width="0.7"/>
<circle cx="201.97" cy="458.32" r="0.8" fill="none" stroke="#e07070" stroke-width="0.5"/>
<circle cx="203.06" cy="458.56" r="0.8" fill="none" stroke="#e07070" stroke-width="0.5"/>
<circle cx="203.6" cy="456.48" r="0.8" fill="none" stroke="#e07070" stroke-width="0.5"/>
<circle cx="202.23" cy="455.9" r="0.8" fill="none" stroke="#e07070" stroke-width="0.5"/>
<circle cx="203.18" cy="460.82" r="0.8" fill="none" stroke="#e07070" stroke-width="0.5"/>
<circle cx="202.47" cy="459.5" r="0.8" fill="none" stroke="#e07070" stroke-width="0.5"/>
<rect x="207.8" y="491.86" width="4.7" height="23.74" fill="#3d5fa8" stroke="#555" stroke-width="0.5"/>
<line x1="210.15" y1="491.86" x2="210.15" y2="488.46" stroke="#3d5fa8" stroke-width="0.7"/>
<line x1="208.95" y1="488.46" x2="211.35" y2="488.46" stroke="#3d5fa8" stroke-width="0.7"/>
<circle cx="209.83" cy="490.55" r="0.8" fill="none" stroke="#5070c0" stroke-width="0.5"/>
<circle cx="210.7" cy="489.61" r="0.8" fill="none" stroke="#5070c0" stroke-width="0.5"/>
<circle cx="210.7" cy="493.05" r="0.8" fill="none" stroke="#5070c0" stroke-width="0.5"/>
<circle cx="211.12" cy="492.24" r="0.8" fill="none" stroke="#5070c0" stroke-width="0.5"/>
<circle cx="208.87" cy="490.76" r="0.8" fill="none" stroke="#5070c0" stroke-width="0.5"/>
<circle cx="210.06" cy="498.97" r="0.8" fill="none" stroke="#5070c0" stroke-width="0.5"/>
<rect x="217.7" y="459.07" width="4.8" height="56.53" fill="#d9696b" stroke="#555" stroke-width="0.5"/>
<line x1="220.1" y1="459.07" x2="220.1" y2="454.54" stroke="#d9696b" stroke-width="0.7"/>
<line x1="218.9" y1="454.54" x2="221.3" y2="454.54" stroke="#d9696b" stroke-width="0.7"/>
<circle cx="219.26" cy="450.57" r="0.8" fill="none" stroke="#e07070" stroke-width="0.5"/>
<circle cx="220.65" cy="455.48" r="0.8" fill="none" stroke="#e07070" stroke-width="0.5"/>
<circle cx="219.62" cy="459.22" r="0.8" fill="none" stroke="#e07070" stroke-width="0.5"/>
<circle cx="218.91" cy="450.68" r="0.8" fill="none" stroke="#e07070" stroke-width="0.5"/>
<circle cx="221.14" cy="462.64" r="0.8" fill="none" stroke="#e07070" stroke-width="0.5"/>
<circle cx="219.57" cy="456.06" r="0.8" fill="none" stroke="#e07070" stroke-width="0.5"/>
<rect x="224.3" y="478.85" width="4.7" height="36.75" fill="#3d5fa8" stroke="#555" stroke-width="0.5"/>
<line x1="226.65" y1="478.85" x2="226.65" y2="477.16" stroke="#3d5fa8" stroke-width="0.7"/>
<line x1="225.45" y1="477.16" x2="227.85" y2="477.16" stroke="#3d5fa8" stroke-width="0.7"/>
<circle cx="227.82" cy="481.42" r="0.8" fill="none" stroke="#5070c0" stroke-width="0.5"/>
<circle cx="225.61" cy="478.9" r="0.8" fill="none" stroke="#5070c0" stroke-width="0.5"/>
<circle cx="227.26" cy="480.8" r="0.8" fill="none" stroke="#5070c0" stroke-width="0.5"/>
<circle cx="227.86" cy="480.29" r="0.8" fill="none" stroke="#5070c0" stroke-width="0.5"/>
<circle cx="226.72" cy="480.02" r="0.8" fill="none" stroke="#5070c0" stroke-width="0.5"/>
<circle cx="226.81" cy="475.92" r="0.8" fill="none" stroke="#5070c0" stroke-width="0.5"/>
<line x1="198.3" y1="430.4" x2="198.3" y2="516" stroke="#1a1a1a" stroke-width="1"/>
<line x1="197.9" y1="515.6" x2="232.2" y2="515.6" stroke="#1a1a1a" stroke-width="1"/>
<line x1="193.6" y1="515.6" x2="198.3" y2="515.6" stroke="#1a1a1a" stroke-width="0.9"/>
<text x="193.1" y="518.07" font-size="6.85" text-anchor="end">0.0</text>
<line x1="193.6" y1="487.33" x2="198.3" y2="487.33" stroke="#1a1a1a" stroke-width="0.9"/>
<text x="193.1" y="489.8" font-size="6.85" text-anchor="end">0.5</text>
<line x1="193.6" y1="459.07" x2="198.3" y2="459.07" stroke="#1a1a1a" stroke-width="0.9"/>
<text x="193.1" y="461.53" font-size="6.85" text-anchor="end">1.0</text>
<line x1="193.6" y1="430.8" x2="198.3" y2="430.8" stroke="#1a1a1a" stroke-width="0.9"/>
<text x="193.1" y="433.27" font-size="6.85" text-anchor="end">1.5</text>
<text x="215.2" y="429.47" font-size="6.85" text-anchor="middle" font-style="italic">GLUT3</text>
<line x1="201.1" y1="435.6" x2="212.3" y2="435.6" stroke="#333" stroke-width="0.7"/>
<text x="206.7" y="436.22" font-size="5.6" text-anchor="middle">***</text>
<line x1="217.5" y1="435.6" x2="228.9" y2="435.6" stroke="#333" stroke-width="0.7"/>
<text x="223.2" y="436.22" font-size="5.6" text-anchor="middle">***</text>
<text x="208.5" y="518.5" font-size="6.85" text-anchor="end" transform="rotate(-45 208.5 518.5)" dy="4.4">A549</text>
<text x="227.5" y="518.5" font-size="6.85" text-anchor="end" transform="rotate(-45 227.5 518.5)" dy="4.4">A549-LMs</text>
<rect x="256.1" y="457.37" width="4.8" height="58.23" fill="#d9696b" stroke="#555" stroke-width="0.5"/>
<line x1="258.5" y1="457.37" x2="258.5" y2="451.72" stroke="#d9696b" stroke-width="0.7"/>
<line x1="257.3" y1="451.72" x2="259.7" y2="451.72" stroke="#d9696b" stroke-width="0.7"/>
<circle cx="259.74" cy="445.9" r="0.8" fill="none" stroke="#e07070" stroke-width="0.5"/>
<circle cx="258.12" cy="452.52" r="0.8" fill="none" stroke="#e07070" stroke-width="0.5"/>
<circle cx="257.48" cy="466.27" r="0.8" fill="none" stroke="#e07070" stroke-width="0.5"/>
<circle cx="257.4" cy="437.86" r="0.8" fill="none" stroke="#e07070" stroke-width="0.5"/>
<circle cx="259.18" cy="446.22" r="0.8" fill="none" stroke="#e07070" stroke-width="0.5"/>
<circle cx="258.36" cy="451.84" r="0.8" fill="none" stroke="#e07070" stroke-width="0.5"/>
<rect x="263.1" y="486.2" width="4.7" height="29.4" fill="#3d5fa8" stroke="#555" stroke-width="0.5"/>
<line x1="265.45" y1="486.2" x2="265.45" y2="482.25" stroke="#3d5fa8" stroke-width="0.7"/>
<line x1="264.25" y1="482.25" x2="266.65" y2="482.25" stroke="#3d5fa8" stroke-width="0.7"/>
<circle cx="265.83" cy="486.89" r="0.8" fill="none" stroke="#5070c0" stroke-width="0.5"/>
<circle cx="265.3" cy="486.86" r="0.8" fill="none" stroke="#5070c0" stroke-width="0.5"/>
<circle cx="265.19" cy="490.89" r="0.8" fill="none" stroke="#5070c0" stroke-width="0.5"/>
<circle cx="264.74" cy="486.72" r="0.8" fill="none" stroke="#5070c0" stroke-width="0.5"/>
<circle cx="264.79" cy="481.37" r="0.8" fill="none" stroke="#5070c0" stroke-width="0.5"/>
<circle cx="265.98" cy="484.67" r="0.8" fill="none" stroke="#5070c0" stroke-width="0.5"/>
<rect x="273" y="459.07" width="4.8" height="56.53" fill="#d9696b" stroke="#555" stroke-width="0.5"/>
<line x1="275.4" y1="459.07" x2="275.4" y2="456.24" stroke="#d9696b" stroke-width="0.7"/>
<line x1="274.2" y1="456.24" x2="276.6" y2="456.24" stroke="#d9696b" stroke-width="0.7"/>
<circle cx="275.29" cy="456.83" r="0.8" fill="none" stroke="#e07070" stroke-width="0.5"/>
<circle cx="274.71" cy="464.03" r="0.8" fill="none" stroke="#e07070" stroke-width="0.5"/>
<circle cx="275.74" cy="462.01" r="0.8" fill="none" stroke="#e07070" stroke-width="0.5"/>
<circle cx="276.6" cy="456.48" r="0.8" fill="none" stroke="#e07070" stroke-width="0.5"/>
<circle cx="275.38" cy="455.73" r="0.8" fill="none" stroke="#e07070" stroke-width="0.5"/>
<circle cx="275.96" cy="457.08" r="0.8" fill="none" stroke="#e07070" stroke-width="0.5"/>
<rect x="279.6" y="484.51" width="4.7" height="31.09" fill="#3d5fa8" stroke="#555" stroke-width="0.5"/>
<line x1="281.95" y1="484.51" x2="281.95" y2="481.68" stroke="#3d5fa8" stroke-width="0.7"/>
<line x1="280.75" y1="481.68" x2="283.15" y2="481.68" stroke="#3d5fa8" stroke-width="0.7"/>
<circle cx="282.28" cy="479.95" r="0.8" fill="none" stroke="#5070c0" stroke-width="0.5"/>
<circle cx="282.62" cy="488.25" r="0.8" fill="none" stroke="#5070c0" stroke-width="0.5"/>
<circle cx="282.47" cy="487.81" r="0.8" fill="none" stroke="#5070c0" stroke-width="0.5"/>
<circle cx="282.43" cy="490.35" r="0.8" fill="none" stroke="#5070c0" stroke-width="0.5"/>
<circle cx="281.65" cy="484.28" r="0.8" fill="none" stroke="#5070c0" stroke-width="0.5"/>
<circle cx="282.25" cy="476.95" r="0.8" fill="none" stroke="#5070c0" stroke-width="0.5"/>
<line x1="253.6" y1="430.4" x2="253.6" y2="516" stroke="#1a1a1a" stroke-width="1"/>
<line x1="253.2" y1="515.6" x2="287.5" y2="515.6" stroke="#1a1a1a" stroke-width="1"/>
<line x1="248.9" y1="515.6" x2="253.6" y2="515.6" stroke="#1a1a1a" stroke-width="0.9"/>
<text x="248.4" y="518.07" font-size="6.85" text-anchor="end">0.0</text>
<line x1="248.9" y1="487.33" x2="253.6" y2="487.33" stroke="#1a1a1a" stroke-width="0.9"/>
<text x="248.4" y="489.8" font-size="6.85" text-anchor="end">0.5</text>
<line x1="248.9" y1="459.07" x2="253.6" y2="459.07" stroke="#1a1a1a" stroke-width="0.9"/>
<text x="248.4" y="461.53" font-size="6.85" text-anchor="end">1.0</text>
<line x1="248.9" y1="430.8" x2="253.6" y2="430.8" stroke="#1a1a1a" stroke-width="0.9"/>
<text x="248.4" y="433.27" font-size="6.85" text-anchor="end">1.5</text>
<text x="270.5" y="429.47" font-size="6.85" text-anchor="middle" font-style="italic">LDHA</text>
<line x1="256.4" y1="435.6" x2="267.6" y2="435.6" stroke="#333" stroke-width="0.7"/>
<text x="262" y="436.22" font-size="5.6" text-anchor="middle">***</text>
<line x1="272.8" y1="435.6" x2="284.2" y2="435.6" stroke="#333" stroke-width="0.7"/>
<text x="278.5" y="436.22" font-size="5.6" text-anchor="middle">***</text>
<text x="263.8" y="518.5" font-size="6.85" text-anchor="end" transform="rotate(-45 263.8 518.5)" dy="4.4">A549</text>
<text x="282.8" y="518.5" font-size="6.85" text-anchor="end" transform="rotate(-45 282.8 518.5)" dy="4.4">A549-LMs</text>
<rect x="311.4" y="459.07" width="4.8" height="56.53" fill="#d9696b" stroke="#555" stroke-width="0.5"/>
<line x1="313.8" y1="459.07" x2="313.8" y2="456.81" stroke="#d9696b" stroke-width="0.7"/>
<line x1="312.6" y1="456.81" x2="315" y2="456.81" stroke="#d9696b" stroke-width="0.7"/>
<circle cx="315.07" cy="455.9" r="0.8" fill="none" stroke="#e07070" stroke-width="0.5"/>
<circle cx="312.52" cy="465.3" r="0.8" fill="none" stroke="#e07070" stroke-width="0.5"/>
<circle cx="313.52" cy="459.97" r="0.8" fill="none" stroke="#e07070" stroke-width="0.5"/>
<circle cx="312.88" cy="456.9" r="0.8" fill="none" stroke="#e07070" stroke-width="0.5"/>
<circle cx="313.29" cy="460.11" r="0.8" fill="none" stroke="#e07070" stroke-width="0.5"/>
<circle cx="314.95" cy="459.43" r="0.8" fill="none" stroke="#e07070" stroke-width="0.5"/>
<rect x="318.4" y="500.34" width="4.7" height="15.26" fill="#3d5fa8" stroke="#555" stroke-width="0.5"/>
<line x1="320.75" y1="500.34" x2="320.75" y2="498.64" stroke="#3d5fa8" stroke-width="0.7"/>
<line x1="319.55" y1="498.64" x2="321.95" y2="498.64" stroke="#3d5fa8" stroke-width="0.7"/>
<circle cx="319.73" cy="500.44" r="0.8" fill="none" stroke="#5070c0" stroke-width="0.5"/>
<circle cx="321.94" cy="502.6" r="0.8" fill="none" stroke="#5070c0" stroke-width="0.5"/>
<circle cx="320.32" cy="500.73" r="0.8" fill="none" stroke="#5070c0" stroke-width="0.5"/>
<circle cx="321.12" cy="501.66" r="0.8" fill="none" stroke="#5070c0" stroke-width="0.5"/>
<circle cx="321.92" cy="501" r="0.8" fill="none" stroke="#5070c0" stroke-width="0.5"/>
<circle cx="320.29" cy="501.77" r="0.8" fill="none" stroke="#5070c0" stroke-width="0.5"/>
<rect x="328.3" y="457.37" width="4.8" height="58.23" fill="#d9696b" stroke="#555" stroke-width="0.5"/>
<line x1="330.7" y1="457.37" x2="330.7" y2="453.98" stroke="#d9696b" stroke-width="0.7"/>
<line x1="329.5" y1="453.98" x2="331.9" y2="453.98" stroke="#d9696b" stroke-width="0.7"/>
<circle cx="329.8" cy="457.58" r="0.8" fill="none" stroke="#e07070" stroke-width="0.5"/>
<circle cx="331.17" cy="449.51" r="0.8" fill="none" stroke="#e07070" stroke-width="0.5"/>
<circle cx="330.12" cy="455.67" r="0.8" fill="none" stroke="#e07070" stroke-width="0.5"/>
<circle cx="330.39" cy="452.15" r="0.8" fill="none" stroke="#e07070" stroke-width="0.5"/>
<circle cx="330.54" cy="453.12" r="0.8" fill="none" stroke="#e07070" stroke-width="0.5"/>
<circle cx="331" cy="459.03" r="0.8" fill="none" stroke="#e07070" stroke-width="0.5"/>
<rect x="334.9" y="490.73" width="4.7" height="24.87" fill="#3d5fa8" stroke="#555" stroke-width="0.5"/>
<line x1="337.25" y1="490.73" x2="337.25" y2="489.03" stroke="#3d5fa8" stroke-width="0.7"/>
<line x1="336.05" y1="489.03" x2="338.45" y2="489.03" stroke="#3d5fa8" stroke-width="0.7"/>
<circle cx="336.95" cy="490.97" r="0.8" fill="none" stroke="#5070c0" stroke-width="0.5"/>
<circle cx="336.66" cy="489.49" r="0.8" fill="none" stroke="#5070c0" stroke-width="0.5"/>
<circle cx="336.04" cy="488.77" r="0.8" fill="none" stroke="#5070c0" stroke-width="0.5"/>
<circle cx="338.06" cy="485.93" r="0.8" fill="none" stroke="#5070c0" stroke-width="0.5"/>
<circle cx="336" cy="487.81" r="0.8" fill="none" stroke="#5070c0" stroke-width="0.5"/>
<circle cx="337.25" cy="491.99" r="0.8" fill="none" stroke="#5070c0" stroke-width="0.5"/>
<line x1="308.9" y1="430.4" x2="308.9" y2="516" stroke="#1a1a1a" stroke-width="1"/>
<line x1="308.5" y1="515.6" x2="342.8" y2="515.6" stroke="#1a1a1a" stroke-width="1"/>
<line x1="304.2" y1="515.6" x2="308.9" y2="515.6" stroke="#1a1a1a" stroke-width="0.9"/>
<text x="303.7" y="518.07" font-size="6.85" text-anchor="end">0.0</text>
<line x1="304.2" y1="487.33" x2="308.9" y2="487.33" stroke="#1a1a1a" stroke-width="0.9"/>
<text x="303.7" y="489.8" font-size="6.85" text-anchor="end">0.5</text>
<line x1="304.2" y1="459.07" x2="308.9" y2="459.07" stroke="#1a1a1a" stroke-width="0.9"/>
<text x="303.7" y="461.53" font-size="6.85" text-anchor="end">1.0</text>
<line x1="304.2" y1="430.8" x2="308.9" y2="430.8" stroke="#1a1a1a" stroke-width="0.9"/>
<text x="303.7" y="433.27" font-size="6.85" text-anchor="end">1.5</text>
<text x="325.8" y="429.47" font-size="6.85" text-anchor="middle" font-style="italic">PDK1</text>
<line x1="311.7" y1="435.6" x2="322.9" y2="435.6" stroke="#333" stroke-width="0.7"/>
<text x="317.3" y="436.22" font-size="5.6" text-anchor="middle">***</text>
<line x1="328.1" y1="435.6" x2="339.5" y2="435.6" stroke="#333" stroke-width="0.7"/>
<text x="333.8" y="436.22" font-size="5.6" text-anchor="middle">***</text>
<text x="319.1" y="518.5" font-size="6.85" text-anchor="end" transform="rotate(-45 319.1 518.5)" dy="4.4">A549</text>
<text x="338.1" y="518.5" font-size="6.85" text-anchor="end" transform="rotate(-45 338.1 518.5)" dy="4.4">A549-LMs</text>
<text x="13" y="474.71" font-size="6.97" text-anchor="middle" transform="rotate(-90 13 472.2)">Relative mRNA Expression</text>
<text x="413.8" y="410.5" font-size="8.3" font-weight="bold" style="fill:#000;stroke:#000">G</text>
<text x="423.3" y="428.47" font-size="6.85" font-style="italic">A549</text>
<text x="450.92" y="434.8" font-size="6.85" transform="rotate(-45 450.92 434.8)">si-NC</text>
<text x="464.35" y="434.8" font-size="6.85" transform="rotate(-45 464.35 434.8)">si1-SKA3</text>
<text x="477.78" y="434.8" font-size="6.85" transform="rotate(-45 477.78 434.8)">si2-SKA3</text>
<rect x="443.3" y="436.9" width="40.3" height="10.2" fill="#f2f2f2" stroke="#666" stroke-width="0.6"/>
<rect x="444.8" y="440.1" width="10.43" height="3.8" rx="1.9" fill="#0a0a0a"/>
<rect x="458.23" y="440.28" width="10.43" height="3.44" rx="1.72" fill="#2b2b2b"/>
<rect x="471.67" y="440.34" width="10.43" height="3.32" rx="1.66" fill="#373737"/>
<text x="439.8" y="444.47" font-size="6.85" text-anchor="end">SKA3</text>
<text x="486" y="444.77" font-size="6.85">43 kDa</text>
<rect x="443.3" y="450.6" width="40.3" height="10" fill="#f2f2f2" stroke="#666" stroke-width="0.6"/>
<rect x="444.8" y="455.09" width="10.43" height="1.03" rx="0.52" fill="#a7a7a7"/>
<rect x="458.23" y="455.17" width="10.43" height="0.86" rx="0.43" fill="#c9c9c9"/>
<rect x="471.67" y="455.22" width="10.43" height="0.76" rx="0.38" fill="#dfdfdf"/>
<text x="439.8" y="458.07" font-size="6.85" text-anchor="end">HK2</text>
<text x="486" y="458.37" font-size="6.85">102 kDa</text>
<rect x="443.3" y="463.5" width="40.3" height="10" fill="#f2f2f2" stroke="#666" stroke-width="0.6"/>
<rect x="444.8" y="467.74" width="10.43" height="1.52" rx="0.76" fill="#424242"/>
<rect x="458.23" y="467.9" width="10.43" height="1.2" rx="0.6" fill="#858585"/>
<rect x="471.67" y="467.96" width="10.43" height="1.08" rx="0.54" fill="#9c9c9c"/>
<text x="439.8" y="470.97" font-size="6.85" text-anchor="end">PKM2</text>
<text x="486" y="471.27" font-size="6.85">58 kDa</text>
<rect x="443.3" y="476.4" width="40.3" height="10" fill="#f2f2f2" stroke="#666" stroke-width="0.6"/>
<rect x="444.8" y="480.72" width="10.43" height="1.36" rx="0.68" fill="#646464"/>
<rect x="458.23" y="480.8" width="10.43" height="1.2" rx="0.6" fill="#858585"/>
<rect x="471.67" y="480.83" width="10.43" height="1.14" rx="0.57" fill="#919191"/>
<text x="439.8" y="483.87" font-size="6.85" text-anchor="end">GLUT3</text>
<text x="486" y="484.17" font-size="6.85">54 kDa</text>
<rect x="443.3" y="489.4" width="40.3" height="10" fill="#f2f2f2" stroke="#666" stroke-width="0.6"/>
<rect x="444.8" y="493.58" width="10.43" height="1.64" rx="0.82" fill="#2b2b2b"/>
<rect x="458.23" y="493.77" width="10.43" height="1.25" rx="0.62" fill="#7a7a7a"/>
<rect x="471.67" y="493.77" width="10.43" height="1.25" rx="0.62" fill="#7a7a7a"/>
<text x="439.8" y="496.87" font-size="6.85" text-anchor="end">LDHA</text>
<text x="486" y="497.17" font-size="6.85">37kDa</text>
<rect x="443.3" y="502.3" width="40.3" height="10" fill="#f2f2f2" stroke="#666" stroke-width="0.6"/>
<rect x="444.8" y="506.43" width="10.43" height="1.74" rx="0.87" fill="#151515"/>
<rect x="458.23" y="506.56" width="10.43" height="1.47" rx="0.73" fill="#4d4d4d"/>
<rect x="471.67" y="506.56" width="10.43" height="1.47" rx="0.73" fill="#4d4d4d"/>
<text x="439.8" y="509.77" font-size="6.85" text-anchor="end">PDK1</text>
<text x="486" y="510.07" font-size="6.85">47 kDa</text>
<rect x="443.3" y="515.6" width="40.3" height="10" fill="#f2f2f2" stroke="#666" stroke-width="0.6"/>
<rect x="444.8" y="519.7" width="10.43" height="1.8" rx="0.9" fill="#0a0a0a"/>
<rect x="458.23" y="519.7" width="10.43" height="1.8" rx="0.9" fill="#0a0a0a"/>
<rect x="471.67" y="519.7" width="10.43" height="1.8" rx="0.9" fill="#0a0a0a"/>
<text x="439.8" y="523.07" font-size="6.85" text-anchor="end">β-actin</text>
<text x="486" y="523.37" font-size="6.85">42 kDa</text>
<text x="544" y="428.47" font-size="6.85" font-style="italic">A549-LMs</text>
<text x="578.97" y="434.8" font-size="6.85" transform="rotate(-45 578.97 434.8)">si-NC</text>
<text x="592.5" y="434.8" font-size="6.85" transform="rotate(-45 592.5 434.8)">si1-SKA3</text>
<text x="606.03" y="434.8" font-size="6.85" transform="rotate(-45 606.03 434.8)">si2-SKA3</text>
<rect x="571.3" y="436.9" width="40.6" height="10.2" fill="#f2f2f2" stroke="#666" stroke-width="0.6"/>
<rect x="572.8" y="440.1" width="10.53" height="3.8" rx="1.9" fill="#0a0a0a"/>
<rect x="586.33" y="440.52" width="10.53" height="2.96" rx="1.48" fill="#585858"/>
<rect x="599.87" y="440.4" width="10.53" height="3.2" rx="1.6" fill="#424242"/>
<text x="569.4" y="444.47" font-size="6.85" text-anchor="end">SKA3</text>
<text x="614" y="444.77" font-size="6.85">43 kDa</text>
<rect x="571.3" y="450.6" width="40.6" height="10" fill="#f2f2f2" stroke="#666" stroke-width="0.6"/>
<rect x="572.8" y="454.98" width="10.53" height="1.25" rx="0.62" fill="#7a7a7a"/>
<rect x="586.33" y="455.06" width="10.53" height="1.08" rx="0.54" fill="#9c9c9c"/>
<rect x="599.87" y="455.06" width="10.53" height="1.08" rx="0.54" fill="#9c9c9c"/>
<text x="569.4" y="458.07" font-size="6.85" text-anchor="end">HK2</text>
<text x="614" y="458.37" font-size="6.85">102 kDa</text>
<rect x="571.3" y="463.5" width="40.6" height="10" fill="#f2f2f2" stroke="#666" stroke-width="0.6"/>
<rect x="572.8" y="467.68" width="10.53" height="1.64" rx="0.82" fill="#2b2b2b"/>
<rect x="586.33" y="467.85" width="10.53" height="1.31" rx="0.65" fill="#6f6f6f"/>
<rect x="599.87" y="467.82" width="10.53" height="1.36" rx="0.68" fill="#646464"/>
<text x="569.4" y="470.97" font-size="6.85" text-anchor="end">PKM2</text>
<text x="614" y="471.27" font-size="6.85">58 kDa</text>
<rect x="571.3" y="476.4" width="40.6" height="10" fill="#f2f2f2" stroke="#666" stroke-width="0.6"/>
<rect x="572.8" y="480.5" width="10.53" height="1.8" rx="0.9" fill="#0a0a0a"/>
<rect x="586.33" y="480.69" width="10.53" height="1.42" rx="0.71" fill="#585858"/>
<rect x="599.87" y="480.75" width="10.53" height="1.31" rx="0.65" fill="#6f6f6f"/>
<text x="569.4" y="483.87" font-size="6.85" text-anchor="end">GLUT3</text>
<text x="614" y="484.17" font-size="6.85">54 kDa</text>
<rect x="571.3" y="489.4" width="40.6" height="10" fill="#f2f2f2" stroke="#666" stroke-width="0.6"/>
<rect x="572.8" y="493.55" width="10.53" height="1.69" rx="0.84" fill="#202020"/>
<rect x="586.33" y="493.69" width="10.53" height="1.42" rx="0.71" fill="#585858"/>
<rect x="599.87" y="493.72" width="10.53" height="1.36" rx="0.68" fill="#646464"/>
<text x="569.4" y="496.87" font-size="6.85" text-anchor="end">LDHA</text>
<text x="614" y="497.17" font-size="6.85">37kDa</text>
<rect x="571.3" y="502.3" width="40.6" height="10" fill="#f2f2f2" stroke="#666" stroke-width="0.6"/>
<rect x="572.8" y="506.51" width="10.53" height="1.58" rx="0.79" fill="#373737"/>
<rect x="586.33" y="506.76" width="10.53" height="1.08" rx="0.54" fill="#9c9c9c"/>
<rect x="599.87" y="506.79" width="10.53" height="1.03" rx="0.52" fill="#a7a7a7"/>
<text x="569.4" y="509.77" font-size="6.85" text-anchor="end">PDK1</text>
<text x="614" y="510.07" font-size="6.85">47 kDa</text>
<rect x="571.3" y="515.6" width="40.6" height="10" fill="#f2f2f2" stroke="#666" stroke-width="0.6"/>
<rect x="572.8" y="519.7" width="10.53" height="1.8" rx="0.9" fill="#0a0a0a"/>
<rect x="586.33" y="519.73" width="10.53" height="1.74" rx="0.87" fill="#151515"/>
<rect x="599.87" y="519.7" width="10.53" height="1.8" rx="0.9" fill="#0a0a0a"/>
<text x="569.4" y="523.07" font-size="6.85" text-anchor="end">β-actin</text>
<text x="614" y="523.37" font-size="6.85">42 kDa</text>
<text x="-0.6" y="569.7" font-size="8.3" font-weight="bold" style="fill:#000;stroke:#000">H</text>
<rect x="32.7" y="609.96" width="8.3" height="50.34" fill="#3d72ad"/>
<circle cx="36.59" cy="608.93" r="1.3" fill="#b6e3b6" stroke="#666" stroke-width="0.35"/>
<circle cx="37.29" cy="609.88" r="1.3" fill="#b6e3b6" stroke="#666" stroke-width="0.35"/>
<circle cx="36.21" cy="609.29" r="1.3" fill="#b6e3b6" stroke="#666" stroke-width="0.35"/>
<rect x="45.2" y="620.24" width="8.4" height="40.06" fill="#dca43c"/>
<circle cx="50.02" cy="619.45" r="1.3" fill="#b8d3f0" stroke="#666" stroke-width="0.35"/>
<circle cx="49.79" cy="618.14" r="1.3" fill="#b8d3f0" stroke="#666" stroke-width="0.35"/>
<circle cx="48.53" cy="617.45" r="1.3" fill="#b8d3f0" stroke="#666" stroke-width="0.35"/>
<rect x="58" y="621.66" width="8.3" height="38.64" fill="#3d72ad"/>
<circle cx="61.94" cy="623.92" r="1.3" fill="#b6e3b6" stroke="#666" stroke-width="0.35"/>
<circle cx="63.34" cy="622.17" r="1.3" fill="#b6e3b6" stroke="#666" stroke-width="0.35"/>
<circle cx="63.21" cy="621.3" r="1.3" fill="#b6e3b6" stroke="#666" stroke-width="0.35"/>
<rect x="70.7" y="631.23" width="8.3" height="29.07" fill="#dca43c"/>
<circle cx="74.62" cy="630.99" r="1.3" fill="#b8d3f0" stroke="#666" stroke-width="0.35"/>
<circle cx="74.53" cy="630.63" r="1.3" fill="#b8d3f0" stroke="#666" stroke-width="0.35"/>
<circle cx="75.94" cy="629.43" r="1.3" fill="#b8d3f0" stroke="#666" stroke-width="0.35"/>
<line x1="30.3" y1="589" x2="30.3" y2="660.7" stroke="#1a1a1a" stroke-width="1"/>
<line x1="29.9" y1="660.3" x2="81.3" y2="660.3" stroke="#1a1a1a" stroke-width="1"/>
<line x1="27.4" y1="660.3" x2="30.3" y2="660.3" stroke="#1a1a1a" stroke-width="0.9"/>
<text x="26.5" y="662.77" font-size="6.85" text-anchor="end">0.0</text>
<line x1="27.4" y1="642.57" x2="30.3" y2="642.57" stroke="#1a1a1a" stroke-width="0.9"/>
<text x="26.5" y="645.04" font-size="6.85" text-anchor="end">0.5</text>
<line x1="27.4" y1="624.85" x2="30.3" y2="624.85" stroke="#1a1a1a" stroke-width="0.9"/>
<text x="26.5" y="627.32" font-size="6.85" text-anchor="end">1.0</text>
<line x1="27.4" y1="607.12" x2="30.3" y2="607.12" stroke="#1a1a1a" stroke-width="0.9"/>
<text x="26.5" y="609.59" font-size="6.85" text-anchor="end">1.5</text>
<line x1="27.4" y1="589.4" x2="30.3" y2="589.4" stroke="#1a1a1a" stroke-width="0.9"/>
<text x="26.5" y="591.87" font-size="6.85" text-anchor="end">2.0</text>
<text x="42.6" y="668.37" font-size="6.85" text-anchor="middle">si-NC</text>
<text x="67.8" y="668.37" font-size="6.85" text-anchor="middle">si-SKA3</text>
<line x1="36.3" y1="592.4" x2="46.7" y2="592.4" stroke="#333" stroke-width="0.75"/>
<text x="41.5" y="592.72" font-size="4.5" text-anchor="middle" style="fill:#444;stroke:#444">**</text>
<line x1="36.3" y1="595.2" x2="62.3" y2="595.2" stroke="#333" stroke-width="0.75"/>
<text x="49.3" y="595.52" font-size="4.5" text-anchor="middle" style="fill:#444;stroke:#444">**</text>
<line x1="48.6" y1="598.3" x2="74.7" y2="598.3" stroke="#333" stroke-width="0.75"/>
<text x="61.65" y="598.62" font-size="4.5" text-anchor="middle" style="fill:#444;stroke:#444">*</text>
<text x="12.8" y="627.47" font-size="6.85" text-anchor="middle" transform="rotate(-90 12.8 625)">Relative Glucose Uptake</text>
<text x="72" y="587.17" font-size="6.85" text-anchor="middle">Normoxia</text>
<rect x="122.9" y="615.28" width="8.3" height="45.02" fill="#3d72ad"/>
<circle cx="127.25" cy="614.91" r="1.3" fill="#b6e3b6" stroke="#666" stroke-width="0.35"/>
<circle cx="127.16" cy="613.84" r="1.3" fill="#b6e3b6" stroke="#666" stroke-width="0.35"/>
<circle cx="126.7" cy="611.39" r="1.3" fill="#b6e3b6" stroke="#666" stroke-width="0.35"/>
<rect x="135.4" y="625.91" width="8.4" height="34.39" fill="#dca43c"/>
<circle cx="138.89" cy="627.08" r="1.3" fill="#b8d3f0" stroke="#666" stroke-width="0.35"/>
<circle cx="138.47" cy="622.61" r="1.3" fill="#b8d3f0" stroke="#666" stroke-width="0.35"/>
<circle cx="140.16" cy="631.38" r="1.3" fill="#b8d3f0" stroke="#666" stroke-width="0.35"/>
<rect x="148.2" y="631.94" width="8.3" height="28.36" fill="#3d72ad"/>
<circle cx="151.67" cy="629.85" r="1.3" fill="#b6e3b6" stroke="#666" stroke-width="0.35"/>
<circle cx="153.06" cy="634.21" r="1.3" fill="#b6e3b6" stroke="#666" stroke-width="0.35"/>
<circle cx="152.69" cy="632.12" r="1.3" fill="#b6e3b6" stroke="#666" stroke-width="0.35"/>
<rect x="160.9" y="642.93" width="8.3" height="17.37" fill="#dca43c"/>
<circle cx="164.38" cy="644.31" r="1.3" fill="#b8d3f0" stroke="#666" stroke-width="0.35"/>
<circle cx="164.65" cy="641.07" r="1.3" fill="#b8d3f0" stroke="#666" stroke-width="0.35"/>
<circle cx="164.8" cy="642.43" r="1.3" fill="#b8d3f0" stroke="#666" stroke-width="0.35"/>
<line x1="120.5" y1="589" x2="120.5" y2="660.7" stroke="#1a1a1a" stroke-width="1"/>
<line x1="120.1" y1="660.3" x2="171.5" y2="660.3" stroke="#1a1a1a" stroke-width="1"/>
<line x1="117.6" y1="660.3" x2="120.5" y2="660.3" stroke="#1a1a1a" stroke-width="0.9"/>
<text x="116.7" y="662.77" font-size="6.85" text-anchor="end">0.0</text>
<line x1="117.6" y1="642.57" x2="120.5" y2="642.57" stroke="#1a1a1a" stroke-width="0.9"/>
<text x="116.7" y="645.04" font-size="6.85" text-anchor="end">0.5</text>
<line x1="117.6" y1="624.85" x2="120.5" y2="624.85" stroke="#1a1a1a" stroke-width="0.9"/>
<text x="116.7" y="627.32" font-size="6.85" text-anchor="end">1.0</text>
<line x1="117.6" y1="607.12" x2="120.5" y2="607.12" stroke="#1a1a1a" stroke-width="0.9"/>
<text x="116.7" y="609.59" font-size="6.85" text-anchor="end">1.5</text>
<line x1="117.6" y1="589.4" x2="120.5" y2="589.4" stroke="#1a1a1a" stroke-width="0.9"/>
<text x="116.7" y="591.87" font-size="6.85" text-anchor="end">2.0</text>
<text x="132.8" y="668.37" font-size="6.85" text-anchor="middle">si-NC</text>
<text x="158" y="668.37" font-size="6.85" text-anchor="middle">si-SKA3</text>
<line x1="126.5" y1="592.4" x2="139.3" y2="592.4" stroke="#333" stroke-width="0.75"/>
<text x="132.9" y="592.72" font-size="4.5" text-anchor="middle" style="fill:#444;stroke:#444">***</text>
<line x1="126.5" y1="595.3" x2="152.6" y2="595.3" stroke="#333" stroke-width="0.75"/>
<text x="139.55" y="595.62" font-size="4.5" text-anchor="middle" style="fill:#444;stroke:#444">***</text>
<line x1="139.3" y1="598.2" x2="165.6" y2="598.2" stroke="#333" stroke-width="0.75"/>
<text x="152.45" y="598.52" font-size="4.5" text-anchor="middle" style="fill:#444;stroke:#444">***</text>
<text x="96.4" y="627.47" font-size="6.85" text-anchor="middle" transform="rotate(-90 96.4 625)">Relative Lactate</text>
<text x="104.6" y="627.47" font-size="6.85" text-anchor="middle" transform="rotate(-90 104.6 625)">Production</text>
<text x="162.4" y="587.17" font-size="6.85" text-anchor="middle">Normoxia</text>
<rect x="216.2" y="624.85" width="8.3" height="35.45" fill="#3d72ad"/>
<circle cx="221.46" cy="627.29" r="1.3" fill="#b6e3b6" stroke="#666" stroke-width="0.35"/>
<circle cx="221.49" cy="628.07" r="1.3" fill="#b6e3b6" stroke="#666" stroke-width="0.35"/>
<circle cx="219.89" cy="621.1" r="1.3" fill="#b6e3b6" stroke="#666" stroke-width="0.35"/>
<rect x="228.7" y="633.36" width="8.4" height="26.94" fill="#dca43c"/>
<circle cx="232.12" cy="633.51" r="1.3" fill="#b8d3f0" stroke="#666" stroke-width="0.35"/>
<circle cx="233.32" cy="635.26" r="1.3" fill="#b8d3f0" stroke="#666" stroke-width="0.35"/>
<circle cx="231.92" cy="635.23" r="1.3" fill="#b8d3f0" stroke="#666" stroke-width="0.35"/>
<rect x="241.5" y="647.89" width="8.3" height="12.41" fill="#3d72ad"/>
<circle cx="245.89" cy="646.21" r="1.3" fill="#b6e3b6" stroke="#666" stroke-width="0.35"/>
<circle cx="246.12" cy="643.41" r="1.3" fill="#b6e3b6" stroke="#666" stroke-width="0.35"/>
<circle cx="246.63" cy="646.12" r="1.3" fill="#b6e3b6" stroke="#666" stroke-width="0.35"/>
<rect x="254.2" y="652.15" width="8.3" height="8.15" fill="#dca43c"/>
<circle cx="258.71" cy="650.93" r="1.3" fill="#b8d3f0" stroke="#666" stroke-width="0.35"/>
<circle cx="258.24" cy="650.74" r="1.3" fill="#b8d3f0" stroke="#666" stroke-width="0.35"/>
<circle cx="259.07" cy="652.22" r="1.3" fill="#b8d3f0" stroke="#666" stroke-width="0.35"/>
<line x1="213.8" y1="589" x2="213.8" y2="660.7" stroke="#1a1a1a" stroke-width="1"/>
<line x1="213.4" y1="660.3" x2="264.8" y2="660.3" stroke="#1a1a1a" stroke-width="1"/>
<line x1="210.9" y1="660.3" x2="213.8" y2="660.3" stroke="#1a1a1a" stroke-width="0.9"/>
<text x="210" y="662.77" font-size="6.85" text-anchor="end">0.00</text>
<line x1="210.9" y1="642.57" x2="213.8" y2="642.57" stroke="#1a1a1a" stroke-width="0.9"/>
<text x="210" y="645.04" font-size="6.85" text-anchor="end">0.25</text>
<line x1="210.9" y1="624.85" x2="213.8" y2="624.85" stroke="#1a1a1a" stroke-width="0.9"/>
<text x="210" y="627.32" font-size="6.85" text-anchor="end">0.50</text>
<line x1="210.9" y1="607.12" x2="213.8" y2="607.12" stroke="#1a1a1a" stroke-width="0.9"/>
<text x="210" y="609.59" font-size="6.85" text-anchor="end">0.75</text>
<line x1="210.9" y1="589.4" x2="213.8" y2="589.4" stroke="#1a1a1a" stroke-width="0.9"/>
<text x="210" y="591.87" font-size="6.85" text-anchor="end">1.00</text>
<text x="226.1" y="668.37" font-size="6.85" text-anchor="middle">si-NC</text>
<text x="251.3" y="668.37" font-size="6.85" text-anchor="middle">si-SKA3</text>
<line x1="220.2" y1="592.4" x2="232.2" y2="592.4" stroke="#333" stroke-width="0.75"/>
<text x="226.2" y="592.72" font-size="4.5" text-anchor="middle" style="fill:#444;stroke:#444">*</text>
<line x1="220.2" y1="595.3" x2="245.8" y2="595.3" stroke="#333" stroke-width="0.75"/>
<text x="233" y="595.62" font-size="4.5" text-anchor="middle" style="fill:#444;stroke:#444">***</text>
<line x1="232.5" y1="598.2" x2="258.4" y2="598.2" stroke="#333" stroke-width="0.75"/>
<text x="245.45" y="598.52" font-size="4.5" text-anchor="middle" style="fill:#444;stroke:#444">***</text>
<text x="184.4" y="627.47" font-size="6.85" text-anchor="middle" transform="rotate(-90 184.4 625)">Relative Pyruvic acid</text>
<text x="193.1" y="627.47" font-size="6.85" text-anchor="middle" transform="rotate(-90 193.1 625)">Production</text>
<text x="255.3" y="587.17" font-size="6.85" text-anchor="middle">Normoxia</text>
<circle cx="12.4" cy="576.5" r="3.2" fill="#3d72ad"/>
<text x="17.3" y="578.97" font-size="6.85">A549-LMs</text>
<circle cx="56.5" cy="576.5" r="3.2" fill="#dca43c"/>
<text x="60.6" y="578.97" font-size="6.85">A549</text>
<text x="-0.3" y="696.6" font-size="8.3" font-weight="bold" style="fill:#000;stroke:#000">I</text>
<rect x="32.7" y="728.16" width="8.3" height="58.14" fill="#3d72ad"/>
<circle cx="36.05" cy="729.29" r="1.3" fill="#b6e3b6" stroke="#666" stroke-width="0.35"/>
<circle cx="37.84" cy="727.11" r="1.3" fill="#b6e3b6" stroke="#666" stroke-width="0.35"/>
<circle cx="36.98" cy="731.04" r="1.3" fill="#b6e3b6" stroke="#666" stroke-width="0.35"/>
<rect x="45.2" y="735.96" width="8.4" height="50.34" fill="#dca43c"/>
<circle cx="49.12" cy="737.49" r="1.3" fill="#b8d3f0" stroke="#666" stroke-width="0.35"/>
<circle cx="50.07" cy="736.28" r="1.3" fill="#b8d3f0" stroke="#666" stroke-width="0.35"/>
<circle cx="49.79" cy="738.73" r="1.3" fill="#b8d3f0" stroke="#666" stroke-width="0.35"/>
<rect x="58" y="748.01" width="8.3" height="38.29" fill="#3d72ad"/>
<circle cx="61.32" cy="746.8" r="1.3" fill="#b6e3b6" stroke="#666" stroke-width="0.35"/>
<circle cx="61.31" cy="749.95" r="1.3" fill="#b6e3b6" stroke="#666" stroke-width="0.35"/>
<circle cx="62.52" cy="748.23" r="1.3" fill="#b6e3b6" stroke="#666" stroke-width="0.35"/>
<rect x="70.7" y="756.88" width="8.3" height="29.42" fill="#dca43c"/>
<circle cx="75.14" cy="758.15" r="1.3" fill="#b8d3f0" stroke="#666" stroke-width="0.35"/>
<circle cx="73.73" cy="753.41" r="1.3" fill="#b8d3f0" stroke="#666" stroke-width="0.35"/>
<circle cx="75.73" cy="755.52" r="1.3" fill="#b8d3f0" stroke="#666" stroke-width="0.35"/>
<line x1="30.3" y1="715" x2="30.3" y2="786.7" stroke="#1a1a1a" stroke-width="1"/>
<line x1="29.9" y1="786.3" x2="81.3" y2="786.3" stroke="#1a1a1a" stroke-width="1"/>
<line x1="27.4" y1="786.3" x2="30.3" y2="786.3" stroke="#1a1a1a" stroke-width="0.9"/>
<text x="26.5" y="788.77" font-size="6.85" text-anchor="end">0.0</text>
<line x1="27.4" y1="768.57" x2="30.3" y2="768.57" stroke="#1a1a1a" stroke-width="0.9"/>
<text x="26.5" y="771.04" font-size="6.85" text-anchor="end">0.5</text>
<line x1="27.4" y1="750.85" x2="30.3" y2="750.85" stroke="#1a1a1a" stroke-width="0.9"/>
<text x="26.5" y="753.32" font-size="6.85" text-anchor="end">1.0</text>
<line x1="27.4" y1="733.12" x2="30.3" y2="733.12" stroke="#1a1a1a" stroke-width="0.9"/>
<text x="26.5" y="735.59" font-size="6.85" text-anchor="end">1.5</text>
<line x1="27.4" y1="715.4" x2="30.3" y2="715.4" stroke="#1a1a1a" stroke-width="0.9"/>
<text x="26.5" y="717.87" font-size="6.85" text-anchor="end">2.0</text>
<text x="42.6" y="794.37" font-size="6.85" text-anchor="middle">si-NC</text>
<text x="67.8" y="794.37" font-size="6.85" text-anchor="middle">si-SKA3</text>
<line x1="36.3" y1="718.4" x2="46.7" y2="718.4" stroke="#333" stroke-width="0.75"/>
<text x="41.5" y="718.72" font-size="4.5" text-anchor="middle" style="fill:#444;stroke:#444">**</text>
<line x1="36.3" y1="721.2" x2="62.3" y2="721.2" stroke="#333" stroke-width="0.75"/>
<text x="49.3" y="721.52" font-size="4.5" text-anchor="middle" style="fill:#444;stroke:#444">***</text>
<line x1="48.6" y1="724.3" x2="74.7" y2="724.3" stroke="#333" stroke-width="0.75"/>
<text x="61.65" y="724.62" font-size="4.5" text-anchor="middle" style="fill:#444;stroke:#444">***</text>
<text x="12.8" y="753.47" font-size="6.85" text-anchor="middle" transform="rotate(-90 12.8 751)">Relative Glucose Uptake</text>
<text x="74.2" y="712.57" font-size="6.85" text-anchor="middle">Hypoxia</text>
<rect x="122.9" y="730.29" width="8.3" height="56.01" fill="#3d72ad"/>
<circle cx="127.59" cy="729.49" r="1.3" fill="#b6e3b6" stroke="#666" stroke-width="0.35"/>
<circle cx="127.61" cy="731.54" r="1.3" fill="#b6e3b6" stroke="#666" stroke-width="0.35"/>
<circle cx="126.15" cy="728.05" r="1.3" fill="#b6e3b6" stroke="#666" stroke-width="0.35"/>
<rect x="135.4" y="735.61" width="8.4" height="50.69" fill="#dca43c"/>
<circle cx="140.59" cy="733.37" r="1.3" fill="#b8d3f0" stroke="#666" stroke-width="0.35"/>
<circle cx="138.53" cy="737.84" r="1.3" fill="#b8d3f0" stroke="#666" stroke-width="0.35"/>
<circle cx="139.16" cy="741.12" r="1.3" fill="#b8d3f0" stroke="#666" stroke-width="0.35"/>
<rect x="148.2" y="751.56" width="8.3" height="34.74" fill="#3d72ad"/>
<circle cx="151.59" cy="753.68" r="1.3" fill="#b6e3b6" stroke="#666" stroke-width="0.35"/>
<circle cx="153.28" cy="753.55" r="1.3" fill="#b6e3b6" stroke="#666" stroke-width="0.35"/>
<circle cx="151.5" cy="750.53" r="1.3" fill="#b6e3b6" stroke="#666" stroke-width="0.35"/>
<rect x="160.9" y="757.23" width="8.3" height="29.07" fill="#dca43c"/>
<circle cx="165.45" cy="758.71" r="1.3" fill="#b8d3f0" stroke="#666" stroke-width="0.35"/>
<circle cx="165.03" cy="759.85" r="1.3" fill="#b8d3f0" stroke="#666" stroke-width="0.35"/>
<circle cx="164.8" cy="755.5" r="1.3" fill="#b8d3f0" stroke="#666" stroke-width="0.35"/>
<line x1="120.5" y1="715" x2="120.5" y2="786.7" stroke="#1a1a1a" stroke-width="1"/>
<line x1="120.1" y1="786.3" x2="171.5" y2="786.3" stroke="#1a1a1a" stroke-width="1"/>
<line x1="117.6" y1="786.3" x2="120.5" y2="786.3" stroke="#1a1a1a" stroke-width="0.9"/>
<text x="116.7" y="788.77" font-size="6.85" text-anchor="end">0.0</text>
<line x1="117.6" y1="768.57" x2="120.5" y2="768.57" stroke="#1a1a1a" stroke-width="0.9"/>
<text x="116.7" y="771.04" font-size="6.85" text-anchor="end">0.5</text>
<line x1="117.6" y1="750.85" x2="120.5" y2="750.85" stroke="#1a1a1a" stroke-width="0.9"/>
<text x="116.7" y="753.32" font-size="6.85" text-anchor="end">1.0</text>
<line x1="117.6" y1="733.12" x2="120.5" y2="733.12" stroke="#1a1a1a" stroke-width="0.9"/>
<text x="116.7" y="735.59" font-size="6.85" text-anchor="end">1.5</text>
<line x1="117.6" y1="715.4" x2="120.5" y2="715.4" stroke="#1a1a1a" stroke-width="0.9"/>
<text x="116.7" y="717.87" font-size="6.85" text-anchor="end">2.0</text>
<text x="132.8" y="794.37" font-size="6.85" text-anchor="middle">si-NC</text>
<text x="158" y="794.37" font-size="6.85" text-anchor="middle">si-SKA3</text>
<line x1="126.5" y1="718.4" x2="136.9" y2="718.4" stroke="#333" stroke-width="0.75"/>
<text x="131.7" y="718.72" font-size="4.5" text-anchor="middle" style="fill:#444;stroke:#444">**</text>
<line x1="126.5" y1="721.2" x2="152.5" y2="721.2" stroke="#333" stroke-width="0.75"/>
<text x="139.5" y="721.52" font-size="4.5" text-anchor="middle" style="fill:#444;stroke:#444">***</text>
<line x1="138.8" y1="724.3" x2="164.9" y2="724.3" stroke="#333" stroke-width="0.75"/>
<text x="151.85" y="724.62" font-size="4.5" text-anchor="middle" style="fill:#444;stroke:#444">***</text>
<text x="96.4" y="753.47" font-size="6.85" text-anchor="middle" transform="rotate(-90 96.4 751)">Relative Lactate</text>
<text x="104.6" y="753.47" font-size="6.85" text-anchor="middle" transform="rotate(-90 104.6 751)">Production</text>
<text x="164.2" y="712.57" font-size="6.85" text-anchor="middle">Hypoxia</text>
<rect x="216.2" y="738.09" width="8.3" height="48.21" fill="#3d72ad"/>
<circle cx="220.25" cy="736.95" r="1.3" fill="#b6e3b6" stroke="#666" stroke-width="0.35"/>
<circle cx="220.9" cy="737.93" r="1.3" fill="#b6e3b6" stroke="#666" stroke-width="0.35"/>
<circle cx="220.45" cy="741.23" r="1.3" fill="#b6e3b6" stroke="#666" stroke-width="0.35"/>
<rect x="228.7" y="744.47" width="8.4" height="41.83" fill="#dca43c"/>
<circle cx="233.81" cy="742.89" r="1.3" fill="#b8d3f0" stroke="#666" stroke-width="0.35"/>
<circle cx="232.03" cy="745.52" r="1.3" fill="#b8d3f0" stroke="#666" stroke-width="0.35"/>
<circle cx="231.86" cy="746.02" r="1.3" fill="#b8d3f0" stroke="#666" stroke-width="0.35"/>
<rect x="241.5" y="773.54" width="8.3" height="12.76" fill="#3d72ad"/>
<circle cx="246.55" cy="769.43" r="1.3" fill="#b6e3b6" stroke="#666" stroke-width="0.35"/>
<circle cx="246.25" cy="772.49" r="1.3" fill="#b6e3b6" stroke="#666" stroke-width="0.35"/>
<circle cx="244.76" cy="771.12" r="1.3" fill="#b6e3b6" stroke="#666" stroke-width="0.35"/>
<rect x="254.2" y="773.54" width="8.3" height="12.76" fill="#dca43c"/>
<circle cx="259.28" cy="771.56" r="1.3" fill="#b8d3f0" stroke="#666" stroke-width="0.35"/>
<circle cx="258.61" cy="775.52" r="1.3" fill="#b8d3f0" stroke="#666" stroke-width="0.35"/>
<circle cx="258.15" cy="776.47" r="1.3" fill="#b8d3f0" stroke="#666" stroke-width="0.35"/>
<line x1="213.8" y1="715" x2="213.8" y2="786.7" stroke="#1a1a1a" stroke-width="1"/>
<line x1="213.4" y1="786.3" x2="264.8" y2="786.3" stroke="#1a1a1a" stroke-width="1"/>
<line x1="210.9" y1="786.3" x2="213.8" y2="786.3" stroke="#1a1a1a" stroke-width="0.9"/>
<text x="210" y="788.77" font-size="6.85" text-anchor="end">0.00</text>
<line x1="210.9" y1="768.57" x2="213.8" y2="768.57" stroke="#1a1a1a" stroke-width="0.9"/>
<text x="210" y="771.04" font-size="6.85" text-anchor="end">0.25</text>
<line x1="210.9" y1="750.85" x2="213.8" y2="750.85" stroke="#1a1a1a" stroke-width="0.9"/>
<text x="210" y="753.32" font-size="6.85" text-anchor="end">0.50</text>
<line x1="210.9" y1="733.12" x2="213.8" y2="733.12" stroke="#1a1a1a" stroke-width="0.9"/>
<text x="210" y="735.59" font-size="6.85" text-anchor="end">0.75</text>
<line x1="210.9" y1="715.4" x2="213.8" y2="715.4" stroke="#1a1a1a" stroke-width="0.9"/>
<text x="210" y="717.87" font-size="6.85" text-anchor="end">1.00</text>
<text x="226.1" y="794.37" font-size="6.85" text-anchor="middle">si-NC</text>
<text x="251.3" y="794.37" font-size="6.85" text-anchor="middle">si-SKA3</text>
<line x1="219.8" y1="718.4" x2="230.2" y2="718.4" stroke="#333" stroke-width="0.75"/>
<text x="225" y="718.72" font-size="4.5" text-anchor="middle" style="fill:#444;stroke:#444">**</text>
<line x1="219.8" y1="721.2" x2="245.8" y2="721.2" stroke="#333" stroke-width="0.75"/>
<text x="232.8" y="721.52" font-size="4.5" text-anchor="middle" style="fill:#444;stroke:#444">***</text>
<line x1="232.1" y1="724.3" x2="258.2" y2="724.3" stroke="#333" stroke-width="0.75"/>
<text x="245.15" y="724.62" font-size="4.5" text-anchor="middle" style="fill:#444;stroke:#444">***</text>
<text x="184.4" y="753.47" font-size="6.85" text-anchor="middle" transform="rotate(-90 184.4 751)">Relative Pyruvic acid</text>
<text x="193.1" y="753.47" font-size="6.85" text-anchor="middle" transform="rotate(-90 193.1 751)">Production</text>
<text x="257.5" y="712.57" font-size="6.85" text-anchor="middle">Hypoxia</text>
<circle cx="12.4" cy="702.5" r="3.2" fill="#3d72ad"/>
<text x="17.3" y="704.97" font-size="6.85">A549-LMs</text>
<circle cx="56.5" cy="702.5" r="3.2" fill="#dca43c"/>
<text x="60.6" y="704.97" font-size="6.85">A549</text>
<text x="302.8" y="569.6" font-size="8.3" font-weight="bold" style="fill:#000;stroke:#000">J</text>
<line x1="333.6" y1="583" x2="333.6" y2="653.7" stroke="#1a1a1a" stroke-width="1"/>
<line x1="333.2" y1="653.3" x2="448.9" y2="653.3" stroke="#1a1a1a" stroke-width="1"/>
<line x1="331.4" y1="653.3" x2="333.6" y2="653.3" stroke="#222" stroke-width="0.7"/>
<text x="330.8" y="655.77" font-size="6.85" text-anchor="end">0</text>
<line x1="331.4" y1="641.65" x2="333.6" y2="641.65" stroke="#222" stroke-width="0.7"/>
<text x="330.8" y="644.12" font-size="6.85" text-anchor="end">30</text>
<line x1="331.4" y1="630" x2="333.6" y2="630" stroke="#222" stroke-width="0.7"/>
<text x="330.8" y="632.47" font-size="6.85" text-anchor="end">60</text>
<line x1="331.4" y1="618.35" x2="333.6" y2="618.35" stroke="#222" stroke-width="0.7"/>
<text x="330.8" y="620.82" font-size="6.85" text-anchor="end">90</text>
<line x1="331.4" y1="606.7" x2="333.6" y2="606.7" stroke="#222" stroke-width="0.7"/>
<text x="330.8" y="609.17" font-size="6.85" text-anchor="end">120</text>
<line x1="331.4" y1="595.05" x2="333.6" y2="595.05" stroke="#222" stroke-width="0.7"/>
<text x="330.8" y="597.52" font-size="6.85" text-anchor="end">150</text>
<line x1="331.4" y1="583.4" x2="333.6" y2="583.4" stroke="#222" stroke-width="0.7"/>
<text x="330.8" y="585.87" font-size="6.85" text-anchor="end">180</text>
<line x1="333.8" y1="653.3" x2="333.8" y2="655.3" stroke="#222" stroke-width="0.7"/>
<text x="333.8" y="661.37" font-size="6.85" text-anchor="middle">0</text>
<line x1="362.48" y1="653.3" x2="362.48" y2="655.3" stroke="#222" stroke-width="0.7"/>
<text x="362.48" y="661.37" font-size="6.85" text-anchor="middle">20</text>
<line x1="391.15" y1="653.3" x2="391.15" y2="655.3" stroke="#222" stroke-width="0.7"/>
<text x="391.15" y="661.37" font-size="6.85" text-anchor="middle">40</text>
<line x1="419.82" y1="653.3" x2="419.82" y2="655.3" stroke="#222" stroke-width="0.7"/>
<text x="419.82" y="661.37" font-size="6.85" text-anchor="middle">60</text>
<line x1="448.5" y1="653.3" x2="448.5" y2="655.3" stroke="#222" stroke-width="0.7"/>
<text x="448.5" y="661.37" font-size="6.85" text-anchor="middle">80</text>
<text x="394.1" y="667.22" font-size="7" text-anchor="middle">Time （Hours）</text>
<text x="390.5" y="584.07" font-size="6.85" text-anchor="middle" font-style="italic">A549</text>
<text x="315.7" y="620.87" font-size="5.76" text-anchor="middle" transform="rotate(-90 315.7 618.8)">ECAR (mpH/min/20000Cells)</text>
<polyline points="335.66,647.86 345.7,647.86 355.59,647.86 365.92,639.32 375.81,638.54 385.7,638.15 395.45,628.45 405.34,628.06 415.24,628.06 425.13,643.59 434.88,645.14 445.06,645.14" fill="none" stroke="#d9a43a" stroke-width="0.7"/>
<circle cx="335.66" cy="647.86" r="1.8" fill="#fff" stroke="#d9a43a" stroke-width="0.8"/>
<circle cx="345.7" cy="647.86" r="1.8" fill="#fff" stroke="#d9a43a" stroke-width="0.8"/>
<circle cx="355.59" cy="647.86" r="1.8" fill="#fff" stroke="#d9a43a" stroke-width="0.8"/>
<circle cx="365.92" cy="639.32" r="1.8" fill="#fff" stroke="#d9a43a" stroke-width="0.8"/>
<circle cx="375.81" cy="638.54" r="1.8" fill="#fff" stroke="#d9a43a" stroke-width="0.8"/>
<circle cx="385.7" cy="638.15" r="1.8" fill="#fff" stroke="#d9a43a" stroke-width="0.8"/>
<circle cx="395.45" cy="628.45" r="1.8" fill="#fff" stroke="#d9a43a" stroke-width="0.8"/>
<circle cx="405.34" cy="628.06" r="1.8" fill="#fff" stroke="#d9a43a" stroke-width="0.8"/>
<circle cx="415.24" cy="628.06" r="1.8" fill="#fff" stroke="#d9a43a" stroke-width="0.8"/>
<circle cx="425.13" cy="643.59" r="1.8" fill="#fff" stroke="#d9a43a" stroke-width="0.8"/>
<circle cx="434.88" cy="645.14" r="1.8" fill="#fff" stroke="#d9a43a" stroke-width="0.8"/>
<circle cx="445.06" cy="645.14" r="1.8" fill="#fff" stroke="#d9a43a" stroke-width="0.8"/>
<polyline points="335.66,648.25 345.7,648.25 355.59,648.25 365.92,639.71 375.81,638.93 385.7,638.54 395.45,628.83 405.34,628.45 415.24,628.06 425.13,643.98 434.88,645.53 445.06,645.53" fill="none" stroke="#d2603c" stroke-width="0.7"/>
<circle cx="335.66" cy="648.25" r="1.8" fill="#fff" stroke="#d2603c" stroke-width="0.8"/>
<circle cx="345.7" cy="648.25" r="1.8" fill="#fff" stroke="#d2603c" stroke-width="0.8"/>
<circle cx="355.59" cy="648.25" r="1.8" fill="#fff" stroke="#d2603c" stroke-width="0.8"/>
<circle cx="365.92" cy="639.71" r="1.8" fill="#fff" stroke="#d2603c" stroke-width="0.8"/>
<circle cx="375.81" cy="638.93" r="1.8" fill="#fff" stroke="#d2603c" stroke-width="0.8"/>
<circle cx="385.7" cy="638.54" r="1.8" fill="#fff" stroke="#d2603c" stroke-width="0.8"/>
<circle cx="395.45" cy="628.83" r="1.8" fill="#fff" stroke="#d2603c" stroke-width="0.8"/>
<circle cx="405.34" cy="628.45" r="1.8" fill="#fff" stroke="#d2603c" stroke-width="0.8"/>
<circle cx="415.24" cy="628.06" r="1.8" fill="#fff" stroke="#d2603c" stroke-width="0.8"/>
<circle cx="425.13" cy="643.98" r="1.8" fill="#fff" stroke="#d2603c" stroke-width="0.8"/>
<circle cx="434.88" cy="645.53" r="1.8" fill="#fff" stroke="#d2603c" stroke-width="0.8"/>
<circle cx="445.06" cy="645.53" r="1.8" fill="#fff" stroke="#d2603c" stroke-width="0.8"/>
<polyline points="335.66,644.37 345.7,644.37 355.59,644.37 365.92,633.11 375.81,631.16 385.7,630.39 395.45,612.91 405.34,612.14 415.24,612.14 425.13,639.32 434.88,640.87 445.06,641.26" fill="none" stroke="#5b8fcf" stroke-width="0.7"/>
<circle cx="335.66" cy="644.37" r="1.8" fill="#fff" stroke="#5b8fcf" stroke-width="0.8"/>
<circle cx="345.7" cy="644.37" r="1.8" fill="#fff" stroke="#5b8fcf" stroke-width="0.8"/>
<circle cx="355.59" cy="644.37" r="1.8" fill="#fff" stroke="#5b8fcf" stroke-width="0.8"/>
<circle cx="365.92" cy="633.11" r="1.8" fill="#fff" stroke="#5b8fcf" stroke-width="0.8"/>
<circle cx="375.81" cy="631.16" r="1.8" fill="#fff" stroke="#5b8fcf" stroke-width="0.8"/>
<circle cx="385.7" cy="630.39" r="1.8" fill="#fff" stroke="#5b8fcf" stroke-width="0.8"/>
<circle cx="395.45" cy="612.91" r="1.8" fill="#fff" stroke="#5b8fcf" stroke-width="0.8"/>
<circle cx="405.34" cy="612.14" r="1.8" fill="#fff" stroke="#5b8fcf" stroke-width="0.8"/>
<circle cx="415.24" cy="612.14" r="1.8" fill="#fff" stroke="#5b8fcf" stroke-width="0.8"/>
<circle cx="425.13" cy="639.32" r="1.8" fill="#fff" stroke="#5b8fcf" stroke-width="0.8"/>
<circle cx="434.88" cy="640.87" r="1.8" fill="#fff" stroke="#5b8fcf" stroke-width="0.8"/>
<circle cx="445.06" cy="641.26" r="1.8" fill="#fff" stroke="#5b8fcf" stroke-width="0.8"/>
<line x1="335.5" y1="586.1" x2="345" y2="586.1" stroke="#5b8fcf" stroke-width="0.8"/>
<circle cx="340.2" cy="586.1" r="1.9" fill="#fff" stroke="#5b8fcf" stroke-width="0.9"/>
<text x="346.6" y="588.26" font-size="6">si-NC</text>
<line x1="335.5" y1="591.7" x2="345" y2="591.7" stroke="#d9a43a" stroke-width="0.8"/>
<circle cx="340.2" cy="591.7" r="1.9" fill="#fff" stroke="#d9a43a" stroke-width="0.9"/>
<text x="346.6" y="593.86" font-size="6">si1-SKA3</text>
<line x1="335.5" y1="597.3" x2="345" y2="597.3" stroke="#d2603c" stroke-width="0.8"/>
<circle cx="340.2" cy="597.3" r="1.9" fill="#fff" stroke="#d2603c" stroke-width="0.9"/>
<text x="346.6" y="599.46" font-size="6">si2-SKA3</text>
<text x="302.2" y="696.8" font-size="8.3" font-weight="bold" style="fill:#000;stroke:#000">K</text>
<line x1="333.6" y1="709.4" x2="333.6" y2="780.1" stroke="#1a1a1a" stroke-width="1"/>
<line x1="333.2" y1="779.7" x2="448.9" y2="779.7" stroke="#1a1a1a" stroke-width="1"/>
<line x1="331.4" y1="779.7" x2="333.6" y2="779.7" stroke="#222" stroke-width="0.7"/>
<text x="330.8" y="782.17" font-size="6.85" text-anchor="end">0</text>
<line x1="331.4" y1="768.05" x2="333.6" y2="768.05" stroke="#222" stroke-width="0.7"/>
<text x="330.8" y="770.52" font-size="6.85" text-anchor="end">30</text>
<line x1="331.4" y1="756.4" x2="333.6" y2="756.4" stroke="#222" stroke-width="0.7"/>
<text x="330.8" y="758.87" font-size="6.85" text-anchor="end">60</text>
<line x1="331.4" y1="744.75" x2="333.6" y2="744.75" stroke="#222" stroke-width="0.7"/>
<text x="330.8" y="747.22" font-size="6.85" text-anchor="end">90</text>
<line x1="331.4" y1="733.1" x2="333.6" y2="733.1" stroke="#222" stroke-width="0.7"/>
<text x="330.8" y="735.57" font-size="6.85" text-anchor="end">120</text>
<line x1="331.4" y1="721.45" x2="333.6" y2="721.45" stroke="#222" stroke-width="0.7"/>
<text x="330.8" y="723.92" font-size="6.85" text-anchor="end">150</text>
<line x1="331.4" y1="709.8" x2="333.6" y2="709.8" stroke="#222" stroke-width="0.7"/>
<text x="330.8" y="712.27" font-size="6.85" text-anchor="end">180</text>
<line x1="333.8" y1="779.7" x2="333.8" y2="781.7" stroke="#222" stroke-width="0.7"/>
<text x="333.8" y="787.77" font-size="6.85" text-anchor="middle">0</text>
<line x1="362.48" y1="779.7" x2="362.48" y2="781.7" stroke="#222" stroke-width="0.7"/>
<text x="362.48" y="787.77" font-size="6.85" text-anchor="middle">20</text>
<line x1="391.15" y1="779.7" x2="391.15" y2="781.7" stroke="#222" stroke-width="0.7"/>
<text x="391.15" y="787.77" font-size="6.85" text-anchor="middle">40</text>
<line x1="419.82" y1="779.7" x2="419.82" y2="781.7" stroke="#222" stroke-width="0.7"/>
<text x="419.82" y="787.77" font-size="6.85" text-anchor="middle">60</text>
<line x1="448.5" y1="779.7" x2="448.5" y2="781.7" stroke="#222" stroke-width="0.7"/>
<text x="448.5" y="787.77" font-size="6.85" text-anchor="middle">80</text>
<text x="394.1" y="793.62" font-size="7" text-anchor="middle">Time （Hours）</text>
<text x="390.5" y="710.47" font-size="6.85" text-anchor="middle" font-style="italic">A549-LMs</text>
<text x="315.7" y="747.27" font-size="5.76" text-anchor="middle" transform="rotate(-90 315.7 745.2)">ECAR (mpH/min/20000Cells)</text>
<polyline points="335.66,773.49 345.7,773.49 355.59,773.87 365.92,763.39 375.81,762.22 385.7,761.06 395.45,754.46 405.34,754.46 415.24,754.46 425.13,769.6 434.88,772.71 445.06,773.1" fill="none" stroke="#d9a43a" stroke-width="0.7"/>
<circle cx="335.66" cy="773.49" r="1.8" fill="#fff" stroke="#d9a43a" stroke-width="0.8"/>
<circle cx="345.7" cy="773.49" r="1.8" fill="#fff" stroke="#d9a43a" stroke-width="0.8"/>
<circle cx="355.59" cy="773.87" r="1.8" fill="#fff" stroke="#d9a43a" stroke-width="0.8"/>
<circle cx="365.92" cy="763.39" r="1.8" fill="#fff" stroke="#d9a43a" stroke-width="0.8"/>
<circle cx="375.81" cy="762.22" r="1.8" fill="#fff" stroke="#d9a43a" stroke-width="0.8"/>
<circle cx="385.7" cy="761.06" r="1.8" fill="#fff" stroke="#d9a43a" stroke-width="0.8"/>
<circle cx="395.45" cy="754.46" r="1.8" fill="#fff" stroke="#d9a43a" stroke-width="0.8"/>
<circle cx="405.34" cy="754.46" r="1.8" fill="#fff" stroke="#d9a43a" stroke-width="0.8"/>
<circle cx="415.24" cy="754.46" r="1.8" fill="#fff" stroke="#d9a43a" stroke-width="0.8"/>
<circle cx="425.13" cy="769.6" r="1.8" fill="#fff" stroke="#d9a43a" stroke-width="0.8"/>
<circle cx="434.88" cy="772.71" r="1.8" fill="#fff" stroke="#d9a43a" stroke-width="0.8"/>
<circle cx="445.06" cy="773.1" r="1.8" fill="#fff" stroke="#d9a43a" stroke-width="0.8"/>
<polyline points="335.66,774.65 345.7,774.65 355.59,774.65 365.92,763 375.81,761.84 385.7,761.45 395.45,759.12 405.34,758.73 415.24,758.73 425.13,771.93 434.88,773.87 445.06,774.26" fill="none" stroke="#d2603c" stroke-width="0.7"/>
<circle cx="335.66" cy="774.65" r="1.8" fill="#fff" stroke="#d2603c" stroke-width="0.8"/>
<circle cx="345.7" cy="774.65" r="1.8" fill="#fff" stroke="#d2603c" stroke-width="0.8"/>
<circle cx="355.59" cy="774.65" r="1.8" fill="#fff" stroke="#d2603c" stroke-width="0.8"/>
<circle cx="365.92" cy="763" r="1.8" fill="#fff" stroke="#d2603c" stroke-width="0.8"/>
<circle cx="375.81" cy="761.84" r="1.8" fill="#fff" stroke="#d2603c" stroke-width="0.8"/>
<circle cx="385.7" cy="761.45" r="1.8" fill="#fff" stroke="#d2603c" stroke-width="0.8"/>
<circle cx="395.45" cy="759.12" r="1.8" fill="#fff" stroke="#d2603c" stroke-width="0.8"/>
<circle cx="405.34" cy="758.73" r="1.8" fill="#fff" stroke="#d2603c" stroke-width="0.8"/>
<circle cx="415.24" cy="758.73" r="1.8" fill="#fff" stroke="#d2603c" stroke-width="0.8"/>
<circle cx="425.13" cy="771.93" r="1.8" fill="#fff" stroke="#d2603c" stroke-width="0.8"/>
<circle cx="434.88" cy="773.87" r="1.8" fill="#fff" stroke="#d2603c" stroke-width="0.8"/>
<circle cx="445.06" cy="774.26" r="1.8" fill="#fff" stroke="#d2603c" stroke-width="0.8"/>
<polyline points="335.66,768.44 345.7,768.44 355.59,768.44 365.92,752.9 375.81,750.96 385.7,750.19 395.45,736.21 405.34,735.82 415.24,735.82 425.13,762.61 434.88,766.5 445.06,767.66" fill="none" stroke="#5b8fcf" stroke-width="0.7"/>
<circle cx="335.66" cy="768.44" r="1.8" fill="#fff" stroke="#5b8fcf" stroke-width="0.8"/>
<circle cx="345.7" cy="768.44" r="1.8" fill="#fff" stroke="#5b8fcf" stroke-width="0.8"/>
<circle cx="355.59" cy="768.44" r="1.8" fill="#fff" stroke="#5b8fcf" stroke-width="0.8"/>
<circle cx="365.92" cy="752.9" r="1.8" fill="#fff" stroke="#5b8fcf" stroke-width="0.8"/>
<circle cx="375.81" cy="750.96" r="1.8" fill="#fff" stroke="#5b8fcf" stroke-width="0.8"/>
<circle cx="385.7" cy="750.19" r="1.8" fill="#fff" stroke="#5b8fcf" stroke-width="0.8"/>
<circle cx="395.45" cy="736.21" r="1.8" fill="#fff" stroke="#5b8fcf" stroke-width="0.8"/>
<circle cx="405.34" cy="735.82" r="1.8" fill="#fff" stroke="#5b8fcf" stroke-width="0.8"/>
<circle cx="415.24" cy="735.82" r="1.8" fill="#fff" stroke="#5b8fcf" stroke-width="0.8"/>
<circle cx="425.13" cy="762.61" r="1.8" fill="#fff" stroke="#5b8fcf" stroke-width="0.8"/>
<circle cx="434.88" cy="766.5" r="1.8" fill="#fff" stroke="#5b8fcf" stroke-width="0.8"/>
<circle cx="445.06" cy="767.66" r="1.8" fill="#fff" stroke="#5b8fcf" stroke-width="0.8"/>
<line x1="335.5" y1="712.5" x2="345" y2="712.5" stroke="#5b8fcf" stroke-width="0.8"/>
<circle cx="340.2" cy="712.5" r="1.9" fill="#fff" stroke="#5b8fcf" stroke-width="0.9"/>
<text x="346.6" y="714.66" font-size="6">si-NC</text>
<line x1="335.5" y1="718.1" x2="345" y2="718.1" stroke="#d9a43a" stroke-width="0.8"/>
<circle cx="340.2" cy="718.1" r="1.9" fill="#fff" stroke="#d9a43a" stroke-width="0.9"/>
<text x="346.6" y="720.26" font-size="6">si1-SKA3</text>
<line x1="335.5" y1="723.7" x2="345" y2="723.7" stroke="#d2603c" stroke-width="0.8"/>
<circle cx="340.2" cy="723.7" r="1.9" fill="#fff" stroke="#d2603c" stroke-width="0.9"/>
<text x="346.6" y="725.86" font-size="6">si2-SKA3</text>
<text x="483.4" y="604" font-size="8.3" font-weight="bold" style="fill:#000;stroke:#000">L</text>
<text x="586.5" y="610.97" font-size="6.85" text-anchor="middle">Glycolysis / Gluconeogenesis</text>
<line x1="512" y1="614.5" x2="512" y2="685.8" stroke="#333" stroke-width="0.7"/>
<line x1="510.4" y1="673.8" x2="512" y2="673.8" stroke="#333" stroke-width="0.5"/>
<text x="509.8" y="675.82" font-size="5.6" text-anchor="end" style="fill:#444;stroke:#444">0.0</text>
<line x1="510.4" y1="654.2" x2="512" y2="654.2" stroke="#333" stroke-width="0.5"/>
<text x="509.8" y="656.22" font-size="5.6" text-anchor="end" style="fill:#444;stroke:#444">0.2</text>
<line x1="510.4" y1="634.6" x2="512" y2="634.6" stroke="#333" stroke-width="0.5"/>
<text x="509.8" y="636.62" font-size="5.6" text-anchor="end" style="fill:#444;stroke:#444">0.4</text>
<text x="495.5" y="653.86" font-size="7.1" text-anchor="middle" transform="rotate(-90 495.5 651.3)">Enrichment Score</text>
<text x="599.2" y="626.87" font-size="6.85">pvalue=0.0002158</text>
<text x="599.2" y="634.07" font-size="6.85">p.adjust=0.002339</text>
<polyline points="511.1,673.8 511.71,652.24 512.62,651.26 513.62,652.24 514.13,648.32 515.34,647.34 515.95,639.5 516.76,633.62 517.67,632.64 518.78,633.62 519.69,631.66 520.7,632.64 521.71,628.72 523.22,626.76 524.74,624.8 525.75,618.92 526.25,617.94 530.29,620.88 532.82,621.86 535.34,623.82 538.37,625.78 540.39,623.82 543.42,624.8 546.45,626.76 549.48,626.76 563.62,635.58 576.75,645.38 591.9,655.18 600.99,659.1 609.07,663.02 614.12,664.98 620.18,666.94 625.23,670.86 628.26,671.84 631.29,670.86 636.34,673.8 639.37,675.76 642.4,673.8 647.45,677.72 652.5,681.64 653,678.7 654.01,678.7 654.52,672.82" fill="none" stroke="#3a6fb8" stroke-width="1.1" stroke-linejoin="round"/>
<line x1="512" y1="685.8" x2="512" y2="758.7" stroke="#333" stroke-width="0.7"/>
<line x1="512.6" y1="686.2" x2="512.6" y2="702.9" stroke="#666" stroke-width="0.9"/><line x1="513.4" y1="686.2" x2="513.4" y2="702.9" stroke="#444" stroke-width="0.9"/><line x1="514.3" y1="686.2" x2="514.3" y2="702.9" stroke="#333" stroke-width="0.9"/><line x1="515.2" y1="686.2" x2="515.2" y2="702.9" stroke="#555" stroke-width="0.9"/><line x1="516.1" y1="686.2" x2="516.1" y2="702.9" stroke="#444" stroke-width="0.9"/><line x1="518.6" y1="686.2" x2="518.6" y2="702.9" stroke="#999" stroke-width="0.9"/><line x1="521.3" y1="686.2" x2="521.3" y2="702.9" stroke="#444" stroke-width="0.9"/><line x1="522.2" y1="686.2" x2="522.2" y2="702.9" stroke="#333" stroke-width="0.9"/><line x1="523.1" y1="686.2" x2="523.1" y2="702.9" stroke="#555" stroke-width="0.9"/><line x1="524" y1="686.2" x2="524" y2="702.9" stroke="#333" stroke-width="0.9"/><line x1="524.9" y1="686.2" x2="524.9" y2="702.9" stroke="#444" stroke-width="0.9"/><line x1="525.8" y1="686.2" x2="525.8" y2="702.9" stroke="#333" stroke-width="0.9"/><line x1="526.6" y1="686.2" x2="526.6" y2="702.9" stroke="#555" stroke-width="0.9"/><line x1="534.3" y1="686.2" x2="534.3" y2="702.9" stroke="#444" stroke-width="0.9"/><line x1="540.4" y1="686.2" x2="540.4" y2="702.9" stroke="#333" stroke-width="0.9"/><line x1="541.6" y1="686.2" x2="541.6" y2="702.9" stroke="#555" stroke-width="0.9"/><line x1="544.4" y1="686.2" x2="544.4" y2="702.9" stroke="#444" stroke-width="0.9"/><line x1="548.5" y1="686.2" x2="548.5" y2="702.9" stroke="#999" stroke-width="0.9"/><line x1="562" y1="686.2" x2="562" y2="702.9" stroke="#aaa" stroke-width="0.9"/><line x1="576.5" y1="686.2" x2="576.5" y2="702.9" stroke="#444" stroke-width="0.9"/><line x1="577.6" y1="686.2" x2="577.6" y2="702.9" stroke="#888" stroke-width="0.9"/><line x1="578.8" y1="686.2" x2="578.8" y2="702.9" stroke="#555" stroke-width="0.9"/><line x1="580.6" y1="686.2" x2="580.6" y2="702.9" stroke="#444" stroke-width="0.9"/><line x1="583.7" y1="686.2" x2="583.7" y2="702.9" stroke="#444" stroke-width="0.9"/><line x1="587.5" y1="686.2" x2="587.5" y2="702.9" stroke="#444" stroke-width="0.9"/><line x1="592.8" y1="686.2" x2="592.8" y2="702.9" stroke="#666" stroke-width="0.9"/><line x1="596.6" y1="686.2" x2="596.6" y2="702.9" stroke="#666" stroke-width="0.9"/><line x1="599.4" y1="686.2" x2="599.4" y2="702.9" stroke="#333" stroke-width="0.9"/><line x1="602" y1="686.2" x2="602" y2="702.9" stroke="#888" stroke-width="0.9"/><line x1="610.5" y1="686.2" x2="610.5" y2="702.9" stroke="#444" stroke-width="0.9"/><line x1="612.4" y1="686.2" x2="612.4" y2="702.9" stroke="#777" stroke-width="0.9"/><line x1="623.5" y1="686.2" x2="623.5" y2="702.9" stroke="#444" stroke-width="0.9"/><line x1="625.5" y1="686.2" x2="625.5" y2="702.9" stroke="#333" stroke-width="0.9"/><line x1="636.8" y1="686.2" x2="636.8" y2="702.9" stroke="#aaa" stroke-width="0.9"/><line x1="637.8" y1="686.2" x2="637.8" y2="702.9" stroke="#999" stroke-width="0.9"/><line x1="638.9" y1="686.2" x2="638.9" y2="702.9" stroke="#aaa" stroke-width="0.9"/><line x1="651.6" y1="686.2" x2="651.6" y2="702.9" stroke="#333" stroke-width="0.9"/><line x1="653.5" y1="686.2" x2="653.5" y2="702.9" stroke="#444" stroke-width="0.9"/>
<rect x="512" y="702.9" width="29.45" height="6.9" fill="#d93b33"/>
<rect x="541.4" y="702.9" width="25.75" height="6.9" fill="#e4654f"/>
<rect x="567.1" y="702.9" width="15.75" height="6.9" fill="#eca590"/>
<rect x="582.8" y="702.9" width="22.25" height="6.9" fill="#f5e1d7"/>
<rect x="605" y="702.9" width="27.25" height="6.9" fill="#eceff6"/>
<rect x="632.2" y="702.9" width="10.55" height="6.9" fill="#b5d3e3"/>
<rect x="642.7" y="702.9" width="7.25" height="6.9" fill="#78b0d3"/>
<rect x="649.9" y="702.9" width="4.95" height="6.9" fill="#4a86bd"/>
<line x1="510.4" y1="712.9" x2="512" y2="712.9" stroke="#333" stroke-width="0.5"/>
<text x="509.8" y="715.06" font-size="6" text-anchor="end" style="fill:#333;stroke:#333">10</text>
<line x1="510.4" y1="725.5" x2="512" y2="725.5" stroke="#333" stroke-width="0.5"/>
<text x="509.8" y="727.66" font-size="6" text-anchor="end" style="fill:#333;stroke:#333">5</text>
<line x1="510.4" y1="738.1" x2="512" y2="738.1" stroke="#333" stroke-width="0.5"/>
<text x="509.8" y="740.26" font-size="6" text-anchor="end" style="fill:#333;stroke:#333">0</text>
<line x1="510.4" y1="750.7" x2="512" y2="750.7" stroke="#333" stroke-width="0.5"/>
<text x="509.8" y="752.86" font-size="6" text-anchor="end" style="fill:#333;stroke:#333">-5</text>
<text x="495.5" y="731.42" font-size="7" text-anchor="middle" transform="rotate(-90 495.5 728.9)">Ranked List Metric</text>
<path d="M511.1 738.1 L511.1 728.27 L512.11 730.54 L513.12 731.8 L516.15 733.56 L521.2 734.57 L531.3 735.58 L541.4 736.34 L561.6 737.09 L581.8 737.72 L596.95 738.1 L612.1 738.73 L632.3 739.61 L642.4 740.37 L648.46 741.63 L651.49 743.64 L653.51 748.18 L654.52 755.74 L654.52 738.1Z" fill="#bdbdbd" stroke="none"/>
<line x1="512" y1="758.7" x2="655" y2="758.7" stroke="#333" stroke-width="0.7"/>
<line x1="561.6" y1="758.7" x2="561.6" y2="760.4" stroke="#333" stroke-width="0.5"/>
<text x="561.6" y="765.56" font-size="6" text-anchor="middle" style="fill:#333;stroke:#333">5000</text>
<line x1="612.1" y1="758.7" x2="612.1" y2="760.4" stroke="#333" stroke-width="0.5"/>
<text x="612.1" y="765.56" font-size="6" text-anchor="middle" style="fill:#333;stroke:#333">10000</text>
<text x="586" y="773.67" font-size="6.85" text-anchor="middle">Rank in Ordered Dataset</text>
</svg></body></html>
